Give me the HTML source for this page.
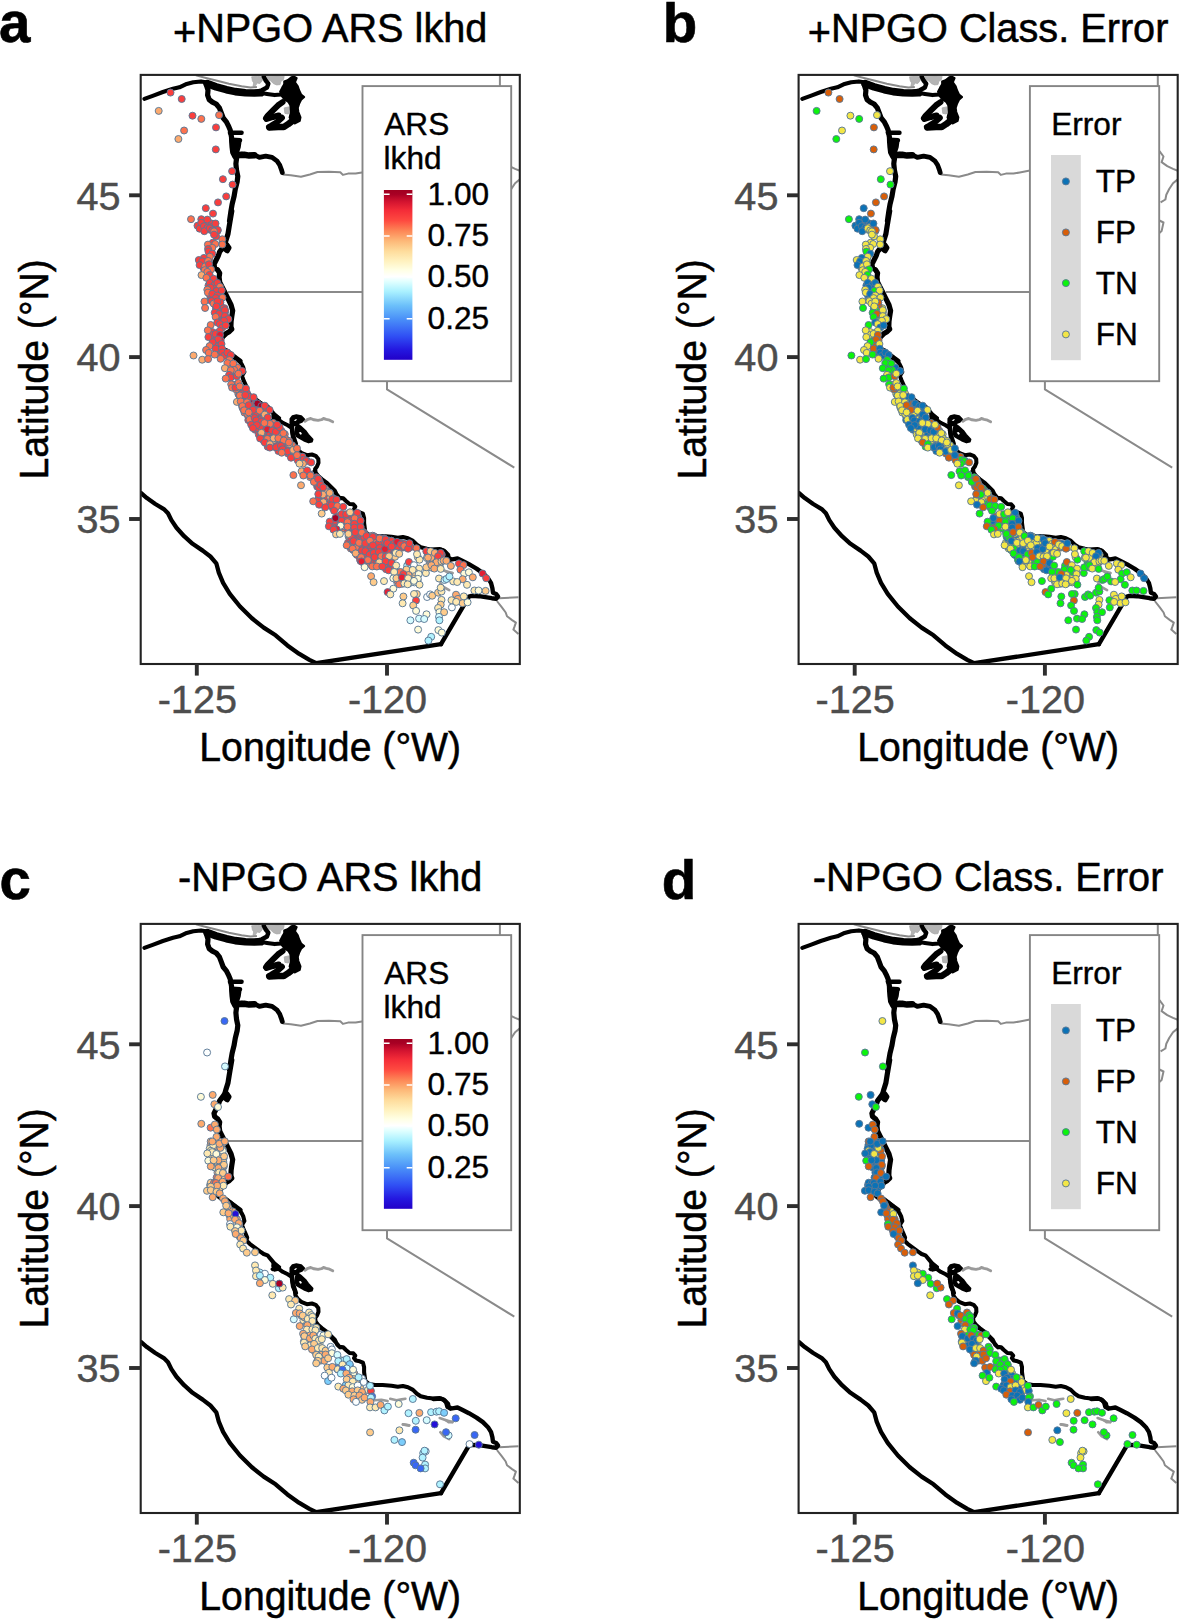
<!DOCTYPE html>
<html lang="en">
<head>
<meta charset="utf-8">
<title>NPGO ARS likelihood and classification error maps</title>
<style>
html,body{margin:0;padding:0;background:#fff;}
svg{display:block;font-family:'Liberation Sans',Arial,Helvetica,sans-serif;}
.ttl{font-size:39.7px;fill:#000;text-anchor:middle;stroke:#000;stroke-width:0.5px;}
.lab{font-size:56.5px;font-weight:bold;fill:#000;text-anchor:middle;stroke:#000;stroke-width:0.6px;}
.ax{font-size:39.2px;fill:#000;text-anchor:middle;stroke:#000;stroke-width:0.5px;}
.tk{font-size:39.6px;fill:#4d4d4d;stroke:#4d4d4d;stroke-width:0.45px;}
.tkl{stroke:#2e2e2e;stroke-width:3.9;fill:none;}
.bd{stroke:#222;stroke-width:2.1;fill:none;}
.coast{stroke:#000;stroke-width:4.05;fill:none;stroke-linejoin:round;stroke-linecap:round;}
.blob{fill:#000;stroke:#000;stroke-width:2;stroke-linejoin:round;}
.st{stroke:#8a8a8a;stroke-width:2.0;fill:none;stroke-linejoin:round;}
.gb{fill:#b4b4b4;stroke:#a8a8a8;stroke-width:0.8;}
.lgb{fill:#fff;stroke:#858585;stroke-width:1.9;}
.lgt{font-size:31.6px;fill:#000;stroke:#000;stroke-width:0.4px;}
.pt{stroke:#5a7896;stroke-width:0.95;}
.key{fill:#d9d9d9;}
.ct{stroke:#fff;stroke-width:1.5;}
</style>
</head>
<body>
<svg width="1181" height="1621" viewBox="0 0 1181 1621" role="img" aria-label="Four maps of the US West Coast showing ARS likelihood and classification error for positive and negative NPGO">
<defs>
<clipPath id="clip"><rect x="140.7" y="74.9" width="379.1" height="589.1"/></clipPath>
<linearGradient id="ars" x1="0" y1="1" x2="0" y2="0">
<stop offset="0%" stop-color="#2200c8"/><stop offset="6%" stop-color="#2418e0"/><stop offset="14%" stop-color="#3050f4"/><stop offset="24%" stop-color="#4a90f8"/><stop offset="32%" stop-color="#6cc0fa"/><stop offset="40%" stop-color="#a8f0ff"/><stop offset="46%" stop-color="#e0ffff"/><stop offset="49%" stop-color="#ffffff"/><stop offset="53%" stop-color="#ffffe4"/><stop offset="58%" stop-color="#fff2c0"/><stop offset="64%" stop-color="#fedc9c"/><stop offset="70%" stop-color="#fdb878"/><stop offset="76%" stop-color="#fd8656"/><stop offset="82%" stop-color="#fe4a40"/><stop offset="88%" stop-color="#f42c38"/><stop offset="93%" stop-color="#d41430"/><stop offset="97.5%" stop-color="#a80024"/><stop offset="100%" stop-color="#a00020"/>
</linearGradient>
<g id="basemap">
<path class="gb" d="M284.2 107.9L288.9 106.9L290 111.3L288.3 114L284.9 113.4Z"/>
<path class="gb" d="M292.3 116.7L294.4 115.4L296.1 117.8L294.4 119.8L292.3 119.1Z"/>
<path class="gb" d="M251.7 76.8L257.1 76.4L261.8 76.8L262.5 80.2L259.8 83.6L257.1 82.9L255.7 85.6L253 86.3L253.7 82.9L252.4 80.8Z"/>
<path class="gb" d="M266.6 76.4L277.4 76.1L284.2 76.4L283.5 79.5L280.8 81.5L280.1 84.6L276.7 84.9L273.4 83.6L270.7 80.8L267.9 79.5Z"/>
<path class="st" d="M195.9 75.4L206 78L216.2 80.5L228.9 83.7L241.6 86.2L250.5 87.5L256.9 86.9M282.6 174.5L290.8 175.2L301 176.7L309.9 174.5L317.5 172L328.9 171.7L340.3 172.2L342.9 174.9L348 173.6L355.6 173.6L361.9 172.4L372 170.5L400 170L499.9 170M228 292.1L500 292.1M498.8 598.2L518.4 597.2M496.9 601L501.9 607.4L505.7 612.5L507 616.3L512.1 620.1L515.9 622.6L514.6 626.4L513.4 629.6L518.4 634M387 292.1L387 389.4L514.3 467.6M499.9 74.9L499.9 150M501.5 151L502.7 152.7L505.6 156.5L503.7 162.2L509.4 166.1L515.1 168.9L519.9 170.8M519.9 179.4L515.1 183.3L511.3 189L508.4 194.7L507.5 199.5L502.7 202.4M501.5 220.5L505.6 222.5L503.7 231.1L501.5 233"/>
<path class="st" style="stroke-width:2.9;stroke:#9a9a9a;stroke-linecap:round" d="M304.9 421.3L307.9 419.3L310.7 418.5L314 419.8L318.1 420.4L321.5 419.7L323.5 418.5L326.2 419.3L329.6 420.2L332.7 421.8"/>
<path class="st" style="stroke-width:2.6;stroke:#9a9a9a;stroke-linecap:round" d="M374.9 551.3L381.3 550.8L387.6 552"/>
<path class="st" style="stroke-width:2.6;stroke:#9a9a9a;stroke-linecap:round" d="M390.2 549.8L396.5 551.3L401.6 550.4L405.4 549.8"/>
<path class="st" style="stroke-width:2.6;stroke:#9a9a9a;stroke-linecap:round" d="M402.9 575.4L409.2 576.2"/>
<path class="st" style="stroke-width:2.6;stroke:#9a9a9a;stroke-linecap:round" d="M439.7 569L446 571.2L452.4 573.1"/>
<path class="st" style="stroke-width:2.6;stroke:#9a9a9a;stroke-linecap:round" d="M446 571.2L448.6 573.1L452.4 573.1"/>
<path class="st" style="stroke-width:2.6;stroke:#9a9a9a;stroke-linecap:round" d="M440.3 583.2L443.5 587L449.2 590.2"/>
<path class="st" style="stroke-width:2.6;stroke:#9a9a9a;stroke-linecap:round" d="M402.9 575.4L409.2 576.6"/>
<path class="coast" d="M144.4 98.9L152.7 95.8L162.9 92L173 88.8L179.4 87.3L185.7 84.3L193.3 82.2L201 81.4L206 82.2L211.1 83.7L216.2 86L226.4 89L235.3 91.1L245.4 92.3L254.3 92.8L261.9 93.1L267 93.9L274.6 95.1L281 94.5L281.9 93.9M230.6 353.5L234.5 356.7L238.3 359.9L241.4 363.7L243.3 367.5L244.4 372L242.1 375.8L243.3 379.6L245.3 384L247.2 388.5L246.5 391.6L249.7 394.8L254.8 398.6L259.9 402.4L263.7 405L267.5 406.3L270.7 410.1L273.8 413.9L277.6 417.7L272.6 420.2L277.6 419L282.7 422.8L287.8 425.3L291.6 427.8L292.2 432.3L292.9 437.4L294.8 441.8L295.4 446.3L298 450.1L301.8 453.2L306.9 455.2L311.9 454.5L315.7 455.8L318.3 459L318.5 462.8L317 466.6L315.1 469.1L315.7 472.9L318.3 476.1L322.1 479.3L327.2 483.1L331 486.9L334.8 490.7L337.3 495.8L340 498.3M314.6 471L316.5 474.8L320.3 478.6L325.4 481.8L329.2 486.2L333 490.1L336.8 494.5L339.4 497.7L343.2 498.3L345.7 500.8L349.5 504L353.3 504.3L355.3 506.6L354 509.1L355.9 511.6L359.7 512.3L362.9 513.6L364.1 518L364.1 523.1L364.8 528.2L365.4 532L369.2 535.1L374.9 536L382.6 536L391.5 536.8L397.8 537.7L402.9 537L408 538.3L413 540.9L416.9 544.7L420.7 547.2L427 548.7L433.4 549.5L439.7 549.1L443.5 550.4L446.1 553.6L447.3 558L450 558.6"/>
<path class="coast" style="stroke-width:4.4" d="M254.3 92.1L261.9 90.3L267 87.5L268.3 83.7L265.7 80.5L263.8 76.7"/>
<path class="coast" style="stroke-width:5.2" d="M206 83.7L208 90.1L207.6 95.1L209.2 99.6L212.4 102.1L216.2 104L219.4 107.8L221.3 112.9L223.2 118L226.4 121.8L228.3 125.6L230.2 130.1L230.8 133.2L231.5 137L231.7 142.1L232.1 147.2L232.7 152.3L234.6 156.1L236.5 158.6"/>
<path class="coast" style="stroke-width:5.2" d="M236.5 158.6L235.9 163.7L236.5 170.1L237.8 176.4L237.2 181.5L235.3 189.1L234 196.7L232.1 204.4L230.8 212L229.5 221L231.8 211L230.5 218.6L229.2 226.2L228 233.9L226 240.2L224.8 244.7L222.2 248.5L219.7 251.6L218.4 255.5L215.9 260.5L214 264.3L214.6 267.5L217.8 270.1L219.7 273.2L219.1 277L219.7 282.1L222.2 287.2L224.8 292.3L226.7 296.1L228.6 299.9L231.1 305L232.7 310.7L231.8 316.4L231.1 321.5L230.9 326.6L231.8 329.1L229.2 331.7L226 333.6L222.9 336.7L219.7 341.8L218.4 346.9L221 348.8L226 350.7L231.1 354.5L236.2 358.3L240 361"/>
<path class="coast" style="stroke-width:4.8" d="M224.8 244.7L227.3 245L229.2 247.8L227.3 251L224.8 249.1"/>
<path class="coast" style="stroke-width:4.8" d="M236.5 155.5L241.6 154.2L248 155.5L254.3 154.8L259.4 157.4L265.7 156.1L272.1 157.4L277.2 161.2L279.7 165L281.6 170.1L282.3 172.6"/>
<path class="coast" style="stroke-width:4.4" d="M229.9 132.7L241.6 132.7"/>
<path class="coast" style="stroke-width:4.4" d="M231.7 139.6L240.1 140.2"/>
<path class="coast" style="stroke-width:4.4" d="M433.3 550L441 549.6L444.8 551.5L448 554.7L448.6 558.5L450.5 559.7L453.7 559.1L457.5 558.5L462.6 561L468.9 564.2L476.5 568.6L482.9 573.1L488 578.2L491.1 583.2L492.4 588.3L493 592.8L496.2 594L498.1 596.6L496.2 598.7L491.8 598.2L485.4 597.2L479.1 596.2L471.5 595.9L468.9 596.6L441 644.2"/>
<path class="coast" style="stroke-width:4.3" d="M140.9 493L146.9 498.1L155.3 504L163.8 509.1L168 513.3L171.4 520.1L176.5 527.7L184.1 536.2L192.6 543.8L202.7 550.6L210.4 556.5L216.3 563.3L218.8 572.6L223.1 582.8L229.8 593.8L240 606.5L251.9 618.3L263.7 627.6L275.6 635.3L287.4 645.4L299.3 653.9L309.4 659.8L316.2 663.2L441 644.2"/>
<path class="coast" style="stroke-width:4.4" d="M291.8 423.2L292.2 430.7L293.7 437.4L295.9 443.9"/>
<path class="coast" style="stroke-width:7.6" d="M207.3 83.7L216.2 86.8L226.4 89.7L235.3 91.6L245.4 92.7L254.3 93L260.7 92.8"/>
<path class="coast" style="stroke-width:6.5" d="M238.4 155.1L244.2 154.8L249.2 155.6L254.3 155.3"/>
<path class="coast" style="stroke-width:6" d="M282.6 102.1L278.1 105.3L273 110.4L267.9 115.5L266 118.3"/>
<path class="coast" style="stroke-width:6" d="M266.7 119L273 117L278.7 115.5"/>
<path class="coast" style="stroke-width:6" d="M281.9 117.7L276.8 122.4L271.1 125.9L269 127.1"/>
<path class="coast" style="stroke-width:6.5" d="M269.5 127.6L278.1 127.1L283.8 126.9L288.3 124.1L291.4 121.6"/>
<path class="blob" d="M290.5 418.8L292.4 416.3L296.4 415.3L301.2 416.2L304.1 419.1L301.8 421.8L298.6 423.2L297.2 425.2L292.5 425.2L290.5 422.7Z"/>
<path class="blob" d="M297.2 424L300.6 426.6L305.2 430.7L308.1 434.7L312.5 439.5L311.9 441.5L308.6 442.4L303.9 440.5L299.8 438.1L296.6 436.1L295.2 432L295.9 427.9Z"/>
<path class="blob" d="M272.8 412L280.2 417.9L279.6 420.5L274.3 421.7L272.2 417.1Z"/>
<path class="blob" d="M284.2 81.5L287.6 80.2L291 77.5L293.7 76.4L296.7 78.1L295 82.2L297.8 86.3L299.1 90.3L301.1 94.4L304.2 97.1L301.1 99.8L299.1 103.9L297.8 107.9L298.4 112L300.5 117.4L299.8 120.8L295 123.5L292.3 122.2L289.6 117.4L291 112L290.3 105.2L288.3 101.8L284.2 99.1L281.5 95.7L280.1 91.7L282.2 87.6L284.2 84.2Z"/>
<path class="blob" d="M230.7 140.6L240.6 141.1L239.8 147.2L238.1 152.5L233.6 153.1L231.5 147.2Z"/>
<path fill="#fff" d="M293.8 420.6L295.7 419.3L297.2 419.5L295.5 421Z"/>
<path fill="#fff" d="M298.8 432.5L300.8 432.1L302 434L300.4 434.7Z"/>
</g>
</defs>
<rect width="1181" height="1621" fill="#fff"/>
<g id="panel-a" transform="translate(0 0)">
<text class="lab" transform="translate(14.8 41.9) scale(1 1.015)">a</text>
<text class="ttl" transform="translate(330.2 42.2) scale(1 1.035)"><tspan dy="3.4">+</tspan><tspan dy="-3.4">NPGO ARS lkhd</tspan></text>
<g clip-path="url(#clip)">
<use href="#basemap"/>
<circle class="pt" cx="388.2" cy="566.2" r="3.5" fill="#fa3e3d"/><circle class="pt" cx="219" cy="318.1" r="3.5" fill="#fa3e3d"/><circle class="pt" cx="429.6" cy="561.9" r="3.5" fill="#fdaa6e"/><circle class="pt" cx="391.5" cy="554.7" r="3.5" fill="#fecb8b"/>
<circle class="pt" cx="357" cy="539.5" r="3.5" fill="#fa3e3d"/><circle class="pt" cx="439.7" cy="565" r="3.5" fill="#ffe9b1"/><circle class="pt" cx="256.6" cy="418.9" r="3.5" fill="#fa3e3d"/><circle class="pt" cx="217.3" cy="300.2" r="3.5" fill="#fa3e3d"/>
<circle class="pt" cx="363.2" cy="562.5" r="3.5" fill="#e31f34"/><circle class="pt" cx="406.5" cy="578.9" r="3.5" fill="#ffe9b1"/><circle class="pt" cx="440" cy="557.6" r="3.5" fill="#fa3e3d"/><circle class="pt" cx="435.8" cy="561.5" r="3.5" fill="#fa3e3d"/>
<circle class="pt" cx="399.1" cy="572.5" r="3.5" fill="#fa3e3d"/><circle class="pt" cx="440.9" cy="560.8" r="3.5" fill="#fdaa6e"/><circle class="pt" cx="378.8" cy="556.6" r="3.5" fill="#fa3e3d"/><circle class="pt" cx="401.6" cy="547.4" r="3.5" fill="#fa3e3d"/>
<circle class="pt" cx="287.8" cy="451.1" r="3.5" fill="#fa3e3d"/><circle class="pt" cx="222.5" cy="319.5" r="3.5" fill="#fa3e3d"/><circle class="pt" cx="391.3" cy="540.7" r="3.5" fill="#fa3e3d"/><circle class="pt" cx="319.9" cy="485.1" r="3.5" fill="#fa3e3d"/>
<circle class="pt" cx="333.3" cy="498.4" r="3.5" fill="#fa3e3d"/><circle class="pt" cx="284.8" cy="434.2" r="3.5" fill="#fd724e"/><circle class="pt" cx="377.1" cy="550.4" r="3.5" fill="#fa3e3d"/><circle class="pt" cx="263" cy="427.9" r="3.5" fill="#fdaa6e"/>
<circle class="pt" cx="385.7" cy="549.7" r="3.5" fill="#e31f34"/><circle class="pt" cx="348.9" cy="528.5" r="3.5" fill="#fd724e"/><circle class="pt" cx="352.9" cy="514.4" r="3.5" fill="#fa3e3d"/><circle class="pt" cx="254.9" cy="416.1" r="3.5" fill="#fd724e"/>
<circle class="pt" cx="214.5" cy="292.7" r="3.5" fill="#fa3e3d"/><circle class="pt" cx="318.3" cy="499" r="3.5" fill="#fd724e"/><circle class="pt" cx="278.8" cy="446.8" r="3.5" fill="#fa3e3d"/><circle class="pt" cx="362.7" cy="554.2" r="3.5" fill="#fa3e3d"/>
<circle class="pt" cx="405.7" cy="582.5" r="3.5" fill="#ffe9b1"/><circle class="pt" cx="391.3" cy="556.8" r="3.5" fill="#fecb8b"/><circle class="pt" cx="313.1" cy="478.3" r="3.5" fill="#fa3e3d"/><circle class="pt" cx="265" cy="416.3" r="3.5" fill="#fa3e3d"/>
<circle class="pt" cx="376" cy="566" r="3.5" fill="#fa3e3d"/><circle class="pt" cx="410.7" cy="547.1" r="3.5" fill="#fa3e3d"/><circle class="pt" cx="257.3" cy="424.7" r="3.5" fill="#fa3e3d"/><circle class="pt" cx="391.3" cy="543.3" r="3.5" fill="#fa3e3d"/>
<circle class="pt" cx="260.8" cy="414.1" r="3.5" fill="#fa3e3d"/><circle class="pt" cx="211.9" cy="288.3" r="3.5" fill="#fa3e3d"/><circle class="pt" cx="389" cy="540.5" r="3.5" fill="#fa3e3d"/><circle class="pt" cx="348.7" cy="535" r="3.5" fill="#fa3e3d"/>
<circle class="pt" cx="252.6" cy="406.4" r="3.5" fill="#a80024"/><circle class="pt" cx="369.8" cy="551.5" r="3.5" fill="#fa3e3d"/><circle class="pt" cx="220.6" cy="340.2" r="3.5" fill="#e31f34"/><circle class="pt" cx="276.8" cy="426" r="3.5" fill="#fa3e3d"/>
<circle class="pt" cx="360.9" cy="534.8" r="3.5" fill="#fa3e3d"/><circle class="pt" cx="415.6" cy="580.5" r="3.5" fill="#fffbd8"/><circle class="pt" cx="386.9" cy="557.6" r="3.5" fill="#fa3e3d"/><circle class="pt" cx="201.6" cy="224.8" r="3.5" fill="#fa3e3d"/>
<circle class="pt" cx="249.2" cy="410.9" r="3.5" fill="#fa3e3d"/><circle class="pt" cx="220.6" cy="298" r="3.5" fill="#fa3e3d"/><circle class="pt" cx="372" cy="557.5" r="3.5" fill="#fa3e3d"/><circle class="pt" cx="381.3" cy="550.4" r="3.5" fill="#fa3e3d"/>
<circle class="pt" cx="242.7" cy="397.5" r="3.5" fill="#fd724e"/><circle class="pt" cx="333" cy="502" r="3.5" fill="#fa3e3d"/><circle class="pt" cx="215.5" cy="305.3" r="3.5" fill="#fa3e3d"/><circle class="pt" cx="372.6" cy="562.8" r="3.5" fill="#fd724e"/>
<circle class="pt" cx="355.5" cy="535.9" r="3.5" fill="#fa3e3d"/><circle class="pt" cx="359.6" cy="519.9" r="3.5" fill="#fa3e3d"/><circle class="pt" cx="436.4" cy="554.8" r="3.5" fill="#fa3e3d"/><circle class="pt" cx="206.8" cy="227.1" r="3.5" fill="#fa3e3d"/>
<circle class="pt" cx="267.5" cy="425.4" r="3.5" fill="#fa3e3d"/><circle class="pt" cx="245.1" cy="393.7" r="3.5" fill="#fa3e3d"/><circle class="pt" cx="409.5" cy="583" r="3.5" fill="#ffe9b1"/><circle class="pt" cx="387.6" cy="541.1" r="3.5" fill="#fa3e3d"/>
<circle class="pt" cx="417.6" cy="580.2" r="3.5" fill="#ffe9b1"/><circle class="pt" cx="281.7" cy="438.5" r="3.5" fill="#fd724e"/><circle class="pt" cx="238.3" cy="393.8" r="3.5" fill="#fd724e"/><circle class="pt" cx="203" cy="261" r="3.5" fill="#fa3e3d"/>
<circle class="pt" cx="350.8" cy="548.5" r="3.5" fill="#fd724e"/><circle class="pt" cx="317.7" cy="480.3" r="3.5" fill="#fa3e3d"/><circle class="pt" cx="384.9" cy="541.6" r="3.5" fill="#fa3e3d"/><circle class="pt" cx="269.5" cy="434.2" r="3.5" fill="#fa3e3d"/>
<circle class="pt" cx="368.3" cy="547.8" r="3.5" fill="#fa3e3d"/><circle class="pt" cx="270.3" cy="442.1" r="3.5" fill="#fdaa6e"/><circle class="pt" cx="350.4" cy="542.6" r="3.5" fill="#fa3e3d"/><circle class="pt" cx="275.7" cy="441.7" r="3.5" fill="#fa3e3d"/>
<circle class="pt" cx="263.7" cy="434.2" r="3.5" fill="#fa3e3d"/><circle class="pt" cx="217.5" cy="230.9" r="3.5" fill="#fa3e3d"/><circle class="pt" cx="356.5" cy="520.4" r="3.5" fill="#fa3e3d"/><circle class="pt" cx="359.5" cy="549.3" r="3.5" fill="#fdaa6e"/>
<circle class="pt" cx="278.4" cy="451" r="3.5" fill="#fa3e3d"/><circle class="pt" cx="282.3" cy="448.5" r="3.5" fill="#fa3e3d"/><circle class="pt" cx="225.2" cy="316" r="3.5" fill="#fa3e3d"/><circle class="pt" cx="407.7" cy="545.8" r="3.5" fill="#fd724e"/>
<circle class="pt" cx="255.5" cy="408.2" r="3.5" fill="#fa3e3d"/><circle class="pt" cx="248.2" cy="416.4" r="3.5" fill="#fa3e3d"/><circle class="pt" cx="359.3" cy="528.4" r="3.5" fill="#fa3e3d"/><circle class="pt" cx="372.1" cy="554.3" r="3.5" fill="#fa3e3d"/>
<circle class="pt" cx="401" cy="542.9" r="3.5" fill="#fa3e3d"/><circle class="pt" cx="378.5" cy="547.1" r="3.5" fill="#fa3e3d"/><circle class="pt" cx="259.8" cy="429.3" r="3.5" fill="#fa3e3d"/><circle class="pt" cx="412.5" cy="582" r="3.5" fill="#ffe9b1"/>
<circle class="pt" cx="434.2" cy="564.8" r="3.5" fill="#fdaa6e"/><circle class="pt" cx="241.6" cy="404.1" r="3.5" fill="#fd724e"/><circle class="pt" cx="354.2" cy="523" r="3.5" fill="#fd724e"/><circle class="pt" cx="327" cy="501" r="3.5" fill="#fa3e3d"/>
<circle class="pt" cx="303.9" cy="474.7" r="3.5" fill="#fd724e"/><circle class="pt" cx="384.3" cy="544.1" r="3.5" fill="#fa3e3d"/><circle class="pt" cx="365.9" cy="553.4" r="3.5" fill="#fa3e3d"/><circle class="pt" cx="277.3" cy="439.1" r="3.5" fill="#fdaa6e"/>
<circle class="pt" cx="370" cy="541.3" r="3.5" fill="#fa3e3d"/><circle class="pt" cx="374" cy="562.4" r="3.5" fill="#fa3e3d"/><circle class="pt" cx="206.6" cy="272.9" r="3.5" fill="#fd724e"/><circle class="pt" cx="231.5" cy="369.1" r="3.5" fill="#fd724e"/>
<circle class="pt" cx="381.4" cy="540.1" r="3.5" fill="#fa3e3d"/><circle class="pt" cx="399" cy="576.8" r="3.5" fill="#fa3e3d"/><circle class="pt" cx="245.8" cy="400" r="3.5" fill="#fa3e3d"/><circle class="pt" cx="316.4" cy="477.3" r="3.5" fill="#fa3e3d"/>
<circle class="pt" cx="362.6" cy="542.9" r="3.5" fill="#fa3e3d"/><circle class="pt" cx="341.8" cy="515.8" r="3.5" fill="#fa3e3d"/><circle class="pt" cx="314.9" cy="480.2" r="3.5" fill="#fd724e"/><circle class="pt" cx="252.4" cy="403.4" r="3.5" fill="#fd724e"/>
<circle class="pt" cx="269.1" cy="444.3" r="3.5" fill="#fa3e3d"/><circle class="pt" cx="399" cy="582" r="3.5" fill="#fa3e3d"/><circle class="pt" cx="353.2" cy="540.4" r="3.5" fill="#fa3e3d"/><circle class="pt" cx="255.3" cy="429.8" r="3.5" fill="#fa3e3d"/>
<circle class="pt" cx="345" cy="519.5" r="3.5" fill="#fa3e3d"/><circle class="pt" cx="363.7" cy="552.3" r="3.5" fill="#fa3e3d"/><circle class="pt" cx="385" cy="565.9" r="3.5" fill="#fa3e3d"/><circle class="pt" cx="363.7" cy="532.2" r="3.5" fill="#fa3e3d"/>
<circle class="pt" cx="259.8" cy="430.9" r="3.5" fill="#fa3e3d"/><circle class="pt" cx="284.8" cy="442.1" r="3.5" fill="#fa3e3d"/><circle class="pt" cx="275.9" cy="447.2" r="3.5" fill="#fa3e3d"/><circle class="pt" cx="204.1" cy="263.2" r="3.5" fill="#fa3e3d"/>
<circle class="pt" cx="417.6" cy="575.9" r="3.5" fill="#fecb8b"/><circle class="pt" cx="350" cy="517.4" r="3.5" fill="#fa3e3d"/><circle class="pt" cx="372.2" cy="555.8" r="3.5" fill="#fa3e3d"/><circle class="pt" cx="250.5" cy="421.7" r="3.5" fill="#fa3e3d"/>
<circle class="pt" cx="284.5" cy="444.7" r="3.5" fill="#fa3e3d"/><circle class="pt" cx="242.4" cy="407.5" r="3.5" fill="#fd724e"/><circle class="pt" cx="215.7" cy="334.7" r="3.5" fill="#fa3e3d"/><circle class="pt" cx="258.5" cy="431.1" r="3.5" fill="#fa3e3d"/>
<circle class="pt" cx="218" cy="337.3" r="3.5" fill="#fa3e3d"/><circle class="pt" cx="213.4" cy="224.2" r="3.5" fill="#fa3e3d"/><circle class="pt" cx="295.1" cy="450.6" r="3.5" fill="#fd724e"/><circle class="pt" cx="375.3" cy="543" r="3.5" fill="#fa3e3d"/>
<circle class="pt" cx="397.1" cy="582.1" r="3.5" fill="#fffbd8"/><circle class="pt" cx="369.5" cy="563.3" r="3.5" fill="#fffbd8"/><circle class="pt" cx="297.6" cy="457.2" r="3.5" fill="#fd724e"/><circle class="pt" cx="262.9" cy="423.4" r="3.5" fill="#fa3e3d"/>
<circle class="pt" cx="211.4" cy="290.9" r="3.5" fill="#fa3e3d"/><circle class="pt" cx="260.2" cy="407.9" r="3.5" fill="#fa3e3d"/><circle class="pt" cx="253.9" cy="409.4" r="3.5" fill="#fa3e3d"/><circle class="pt" cx="210.6" cy="297.1" r="3.5" fill="#fa3e3d"/>
<circle class="pt" cx="367.3" cy="556" r="3.5" fill="#fa3e3d"/><circle class="pt" cx="338.7" cy="523.5" r="3.5" fill="#fffbd8"/><circle class="pt" cx="356.5" cy="523.4" r="3.5" fill="#fa3e3d"/><circle class="pt" cx="379.8" cy="544.7" r="3.5" fill="#fa3e3d"/>
<circle class="pt" cx="375.6" cy="557.9" r="3.5" fill="#fa3e3d"/><circle class="pt" cx="321.8" cy="500.9" r="3.5" fill="#fa3e3d"/><circle class="pt" cx="257.5" cy="406.5" r="3.5" fill="#fa3e3d"/><circle class="pt" cx="351" cy="529.1" r="3.5" fill="#fa3e3d"/>
<circle class="pt" cx="210.1" cy="284.9" r="3.5" fill="#fa3e3d"/><circle class="pt" cx="231" cy="365" r="3.5" fill="#fd724e"/><circle class="pt" cx="329.5" cy="503.2" r="3.5" fill="#fa3e3d"/><circle class="pt" cx="387.5" cy="547.1" r="3.5" fill="#fa3e3d"/>
<circle class="pt" cx="253.7" cy="422.1" r="3.5" fill="#fa3e3d"/><circle class="pt" cx="292" cy="454.1" r="3.5" fill="#fa3e3d"/><circle class="pt" cx="216.7" cy="333.1" r="3.5" fill="#e31f34"/><circle class="pt" cx="360.4" cy="535.7" r="3.5" fill="#fa3e3d"/>
<circle class="pt" cx="375.5" cy="551.7" r="3.5" fill="#fa3e3d"/><circle class="pt" cx="378.5" cy="541.4" r="3.5" fill="#fa3e3d"/><circle class="pt" cx="427.8" cy="555.4" r="3.5" fill="#fa3e3d"/><circle class="pt" cx="208.7" cy="247.8" r="3.5" fill="#fa3e3d"/>
<circle class="pt" cx="356.6" cy="540" r="3.5" fill="#fa3e3d"/><circle class="pt" cx="411.8" cy="579" r="3.5" fill="#ffe9b1"/><circle class="pt" cx="217.2" cy="289.5" r="3.5" fill="#fa3e3d"/><circle class="pt" cx="376.7" cy="545.8" r="3.5" fill="#fa3e3d"/>
<circle class="pt" cx="436" cy="567.1" r="3.5" fill="#fdaa6e"/><circle class="pt" cx="361" cy="553.9" r="3.5" fill="#fa3e3d"/><circle class="pt" cx="348.3" cy="532.6" r="3.5" fill="#fa3e3d"/><circle class="pt" cx="378.1" cy="549" r="3.5" fill="#fa3e3d"/>
<circle class="pt" cx="368.9" cy="556.8" r="3.5" fill="#fa3e3d"/><circle class="pt" cx="221.1" cy="309.5" r="3.5" fill="#fa3e3d"/><circle class="pt" cx="330.1" cy="501.7" r="3.5" fill="#fa3e3d"/><circle class="pt" cx="363.9" cy="539.7" r="3.5" fill="#fa3e3d"/>
<circle class="pt" cx="280.2" cy="443.7" r="3.5" fill="#fa3e3d"/><circle class="pt" cx="348" cy="542.7" r="3.5" fill="#fa3e3d"/><circle class="pt" cx="337.8" cy="527" r="3.5" fill="#fa3e3d"/><circle class="pt" cx="295.3" cy="452.6" r="3.5" fill="#fd724e"/>
<circle class="pt" cx="243.5" cy="389.2" r="3.5" fill="#fa3e3d"/><circle class="pt" cx="341.2" cy="523.5" r="3.5" fill="#fa3e3d"/><circle class="pt" cx="334.4" cy="505" r="3.5" fill="#fa3e3d"/><circle class="pt" cx="376.1" cy="564.3" r="3.5" fill="#fa3e3d"/>
<circle class="pt" cx="366.6" cy="544.4" r="3.5" fill="#fd724e"/><circle class="pt" cx="242.2" cy="395.5" r="3.5" fill="#fd724e"/><circle class="pt" cx="390.4" cy="551" r="3.5" fill="#fa3e3d"/><circle class="pt" cx="382.7" cy="549.9" r="3.5" fill="#fa3e3d"/>
<circle class="pt" cx="381.5" cy="561.8" r="3.5" fill="#fa3e3d"/><circle class="pt" cx="370.3" cy="555.1" r="3.5" fill="#fa3e3d"/><circle class="pt" cx="351.7" cy="533.4" r="3.5" fill="#fa3e3d"/><circle class="pt" cx="320" cy="491.9" r="3.5" fill="#fdaa6e"/>
<circle class="pt" cx="248.5" cy="401.8" r="3.5" fill="#fa3e3d"/><circle class="pt" cx="300.4" cy="456.6" r="3.5" fill="#fa3e3d"/><circle class="pt" cx="241.2" cy="389.5" r="3.5" fill="#fa3e3d"/><circle class="pt" cx="251.1" cy="397.7" r="3.5" fill="#fa3e3d"/>
<circle class="pt" cx="227.3" cy="319" r="3.5" fill="#fa3e3d"/><circle class="pt" cx="235.4" cy="385.9" r="3.5" fill="#fd724e"/><circle class="pt" cx="359.6" cy="538.9" r="3.5" fill="#fd724e"/><circle class="pt" cx="366.2" cy="547.2" r="3.5" fill="#fa3e3d"/>
<circle class="pt" cx="315.7" cy="479.3" r="3.5" fill="#fa3e3d"/><circle class="pt" cx="247.8" cy="398.6" r="3.5" fill="#fa3e3d"/><circle class="pt" cx="347.4" cy="525.7" r="3.5" fill="#fd724e"/><circle class="pt" cx="310.6" cy="474.5" r="3.5" fill="#fa3e3d"/>
<circle class="pt" cx="372.4" cy="539.8" r="3.5" fill="#fa3e3d"/><circle class="pt" cx="286.5" cy="450.4" r="3.5" fill="#fa3e3d"/><circle class="pt" cx="224.5" cy="308.2" r="3.5" fill="#fa3e3d"/><circle class="pt" cx="270.2" cy="439.1" r="3.5" fill="#fd724e"/>
<circle class="pt" cx="383.1" cy="558.1" r="3.5" fill="#fa3e3d"/><circle class="pt" cx="389" cy="548.9" r="3.5" fill="#fa3e3d"/><circle class="pt" cx="220.8" cy="306.1" r="3.5" fill="#fa3e3d"/><circle class="pt" cx="221.2" cy="316.1" r="3.5" fill="#fa3e3d"/>
<circle class="pt" cx="267.3" cy="440.4" r="3.5" fill="#fa3e3d"/><circle class="pt" cx="217.6" cy="353.6" r="3.5" fill="#fa3e3d"/><circle class="pt" cx="368.1" cy="538.3" r="3.5" fill="#fa3e3d"/><circle class="pt" cx="273.8" cy="431.3" r="3.5" fill="#fa3e3d"/>
<circle class="pt" cx="206.8" cy="266.4" r="3.5" fill="#fa3e3d"/><circle class="pt" cx="335.5" cy="508.1" r="3.5" fill="#fa3e3d"/><circle class="pt" cx="224.6" cy="319" r="3.5" fill="#fa3e3d"/><circle class="pt" cx="385.8" cy="561.1" r="3.5" fill="#fa3e3d"/>
<circle class="pt" cx="279" cy="431.1" r="3.5" fill="#fa3e3d"/><circle class="pt" cx="234.1" cy="365.6" r="3.5" fill="#fd724e"/><circle class="pt" cx="359.9" cy="550.7" r="3.5" fill="#fdaa6e"/><circle class="pt" cx="363" cy="550.6" r="3.5" fill="#fa3e3d"/>
<circle class="pt" cx="282.2" cy="435.6" r="3.5" fill="#fd724e"/><circle class="pt" cx="375.1" cy="541" r="3.5" fill="#fa3e3d"/><circle class="pt" cx="354.4" cy="532.6" r="3.5" fill="#fa3e3d"/><circle class="pt" cx="359.4" cy="542.9" r="3.5" fill="#fa3e3d"/>
<circle class="pt" cx="216.5" cy="292.6" r="3.5" fill="#fa3e3d"/><circle class="pt" cx="239.4" cy="395.6" r="3.5" fill="#fd724e"/><circle class="pt" cx="263.9" cy="426.7" r="3.5" fill="#fa3e3d"/><circle class="pt" cx="381.2" cy="553.9" r="3.5" fill="#fd724e"/>
<circle class="pt" cx="384" cy="538.3" r="3.5" fill="#fa3e3d"/><circle class="pt" cx="415.4" cy="577.3" r="3.5" fill="#fffbd8"/><circle class="pt" cx="266.4" cy="437.4" r="3.5" fill="#fa3e3d"/><circle class="pt" cx="250.8" cy="419.7" r="3.5" fill="#fa3e3d"/>
<circle class="pt" cx="317.2" cy="486.6" r="3.5" fill="#fa3e3d"/><circle class="pt" cx="321.1" cy="488.7" r="3.5" fill="#fa3e3d"/><circle class="pt" cx="371.3" cy="542.7" r="3.5" fill="#fa3e3d"/><circle class="pt" cx="363.4" cy="558.9" r="3.5" fill="#fa3e3d"/>
<circle class="pt" cx="285.2" cy="446.5" r="3.5" fill="#fa3e3d"/><circle class="pt" cx="221.4" cy="322.4" r="3.5" fill="#fa3e3d"/><circle class="pt" cx="403.5" cy="573.3" r="3.5" fill="#fa3e3d"/><circle class="pt" cx="382.7" cy="543.9" r="3.5" fill="#fa3e3d"/>
<circle class="pt" cx="279.9" cy="440.4" r="3.5" fill="#fa3e3d"/><circle class="pt" cx="352.2" cy="542.7" r="3.5" fill="#fa3e3d"/><circle class="pt" cx="367.2" cy="561.6" r="3.5" fill="#fa3e3d"/><circle class="pt" cx="366" cy="536.5" r="3.5" fill="#fa3e3d"/>
<circle class="pt" cx="372.7" cy="537.5" r="3.5" fill="#fa3e3d"/><circle class="pt" cx="208.5" cy="224.3" r="3.5" fill="#fa3e3d"/><circle class="pt" cx="402" cy="580.5" r="3.5" fill="#fd724e"/><circle class="pt" cx="252.4" cy="400.8" r="3.5" fill="#fa3e3d"/>
<circle class="pt" cx="302.4" cy="456.7" r="3.5" fill="#fa3e3d"/><circle class="pt" cx="370.6" cy="552.8" r="3.5" fill="#fa3e3d"/><circle class="pt" cx="407.1" cy="544.5" r="3.5" fill="#fa3e3d"/><circle class="pt" cx="418" cy="570.5" r="3.5" fill="#fecb8b"/>
<circle class="pt" cx="285.5" cy="438.9" r="3.5" fill="#fd724e"/><circle class="pt" cx="289.7" cy="447.9" r="3.5" fill="#fa3e3d"/><circle class="pt" cx="433.7" cy="567.4" r="3.5" fill="#fdaa6e"/><circle class="pt" cx="347.4" cy="520.7" r="3.5" fill="#fa3e3d"/>
<circle class="pt" cx="217.4" cy="311.3" r="3.5" fill="#fa3e3d"/><circle class="pt" cx="324.2" cy="503.5" r="3.5" fill="#fa3e3d"/><circle class="pt" cx="430" cy="565" r="3.5" fill="#fdaa6e"/><circle class="pt" cx="334.8" cy="522.2" r="3.5" fill="#fa3e3d"/>
<circle class="pt" cx="360.2" cy="547.1" r="3.5" fill="#fa3e3d"/><circle class="pt" cx="212.6" cy="339.9" r="3.5" fill="#fa3e3d"/><circle class="pt" cx="203.4" cy="267.7" r="3.5" fill="#fa3e3d"/><circle class="pt" cx="327.1" cy="490.9" r="3.5" fill="#fa3e3d"/>
<circle class="pt" cx="259.9" cy="415.9" r="3.5" fill="#fa3e3d"/><circle class="pt" cx="348.1" cy="530" r="3.5" fill="#fa3e3d"/><circle class="pt" cx="353.3" cy="529.9" r="3.5" fill="#fa3e3d"/><circle class="pt" cx="214.3" cy="341.1" r="3.5" fill="#fa3e3d"/>
<circle class="pt" cx="388" cy="562.5" r="3.5" fill="#fa3e3d"/><circle class="pt" cx="234.7" cy="372.2" r="3.5" fill="#fd724e"/><circle class="pt" cx="388.5" cy="543.7" r="3.5" fill="#fa3e3d"/><circle class="pt" cx="381.6" cy="556.6" r="3.5" fill="#fa3e3d"/>
<circle class="pt" cx="398.3" cy="544.3" r="3.5" fill="#fa3e3d"/><circle class="pt" cx="436.5" cy="563.3" r="3.5" fill="#fdaa6e"/><circle class="pt" cx="248.3" cy="420.1" r="3.5" fill="#fa3e3d"/><circle class="pt" cx="378.9" cy="540.5" r="3.5" fill="#fd724e"/>
<circle class="pt" cx="358" cy="543.5" r="3.5" fill="#fa3e3d"/><circle class="pt" cx="348.6" cy="536.5" r="3.5" fill="#fecb8b"/><circle class="pt" cx="372.9" cy="547.1" r="3.5" fill="#fa3e3d"/><circle class="pt" cx="366" cy="542.4" r="3.5" fill="#fa3e3d"/>
<circle class="pt" cx="269.2" cy="429.1" r="3.5" fill="#fa3e3d"/><circle class="pt" cx="324.9" cy="494.8" r="3.5" fill="#fa3e3d"/><circle class="pt" cx="256.7" cy="413.3" r="3.5" fill="#fa3e3d"/><circle class="pt" cx="215.9" cy="308.8" r="3.5" fill="#fd724e"/>
<circle class="pt" cx="269" cy="423.3" r="3.5" fill="#fa3e3d"/><circle class="pt" cx="372.2" cy="550.1" r="3.5" fill="#fa3e3d"/><circle class="pt" cx="378.6" cy="562.2" r="3.5" fill="#fa3e3d"/><circle class="pt" cx="433.4" cy="560.6" r="3.5" fill="#fdaa6e"/>
<circle class="pt" cx="366.9" cy="549.1" r="3.5" fill="#fa3e3d"/><circle class="pt" cx="356.9" cy="550.5" r="3.5" fill="#fa3e3d"/><circle class="pt" cx="359.8" cy="538.1" r="3.5" fill="#fa3e3d"/><circle class="pt" cx="365.9" cy="550.4" r="3.5" fill="#fa3e3d"/>
<circle class="pt" cx="208.2" cy="290.8" r="3.5" fill="#fa3e3d"/><circle class="pt" cx="217.6" cy="294.2" r="3.5" fill="#fa3e3d"/><circle class="pt" cx="354.3" cy="537.6" r="3.5" fill="#fa3e3d"/><circle class="pt" cx="367" cy="540" r="3.5" fill="#fa3e3d"/>
<circle class="pt" cx="377.4" cy="554.4" r="3.5" fill="#fa3e3d"/><circle class="pt" cx="250.5" cy="414.3" r="3.5" fill="#fa3e3d"/><circle class="pt" cx="317.4" cy="485" r="3.5" fill="#fa3e3d"/><circle class="pt" cx="235.7" cy="384.5" r="3.5" fill="#fd724e"/>
<circle class="pt" cx="363.1" cy="541.8" r="3.5" fill="#fd724e"/><circle class="pt" cx="379.4" cy="538" r="3.5" fill="#fa3e3d"/><circle class="pt" cx="220" cy="293" r="3.5" fill="#fa3e3d"/><circle class="pt" cx="320" cy="482.6" r="3.5" fill="#fa3e3d"/>
<circle class="pt" cx="439.2" cy="566.6" r="3.5" fill="#fdaa6e"/><circle class="pt" cx="232" cy="375.6" r="3.5" fill="#fa3e3d"/><circle class="pt" cx="385.1" cy="554.9" r="3.5" fill="#fecb8b"/><circle class="pt" cx="358.3" cy="545.9" r="3.5" fill="#fa3e3d"/>
<circle class="pt" cx="217.3" cy="305.7" r="3.5" fill="#fa3e3d"/><circle class="pt" cx="414.8" cy="570.5" r="3.5" fill="#ffe9b1"/><circle class="pt" cx="351.9" cy="541.2" r="3.5" fill="#fd724e"/><circle class="pt" cx="341.1" cy="525.2" r="3.5" fill="#fa3e3d"/>
<circle class="pt" cx="360.6" cy="532.8" r="3.5" fill="#fd724e"/><circle class="pt" cx="351.3" cy="546.7" r="3.5" fill="#fa3e3d"/><circle class="pt" cx="391.4" cy="561.1" r="3.5" fill="#fecb8b"/><circle class="pt" cx="214.3" cy="288.5" r="3.5" fill="#fa3e3d"/>
<circle class="pt" cx="354.1" cy="547.3" r="3.5" fill="#fa3e3d"/><circle class="pt" cx="245.4" cy="404.4" r="3.5" fill="#fa3e3d"/><circle class="pt" cx="272.3" cy="425.2" r="3.5" fill="#fd724e"/><circle class="pt" cx="247.7" cy="406.1" r="3.5" fill="#fd724e"/>
<circle class="pt" cx="288.1" cy="453.6" r="3.5" fill="#fa3e3d"/><circle class="pt" cx="364.2" cy="533.8" r="3.5" fill="#fa3e3d"/><circle class="pt" cx="237.6" cy="372.7" r="3.5" fill="#fd724e"/><circle class="pt" cx="350" cy="538.7" r="3.5" fill="#fa3e3d"/>
<circle class="pt" cx="322" cy="497.3" r="3.5" fill="#fa3e3d"/><circle class="pt" cx="384.3" cy="539.9" r="3.5" fill="#fa3e3d"/><circle class="pt" cx="210" cy="295" r="3.5" fill="#fa3e3d"/><circle class="pt" cx="244.3" cy="406.3" r="3.5" fill="#fa3e3d"/>
<circle class="pt" cx="216.5" cy="298.8" r="3.5" fill="#fa3e3d"/><circle class="pt" cx="380.3" cy="563.7" r="3.5" fill="#fa3e3d"/><circle class="pt" cx="379" cy="560" r="3.5" fill="#fa3e3d"/><circle class="pt" cx="210.1" cy="252.4" r="3.5" fill="#fa3e3d"/>
<circle class="pt" cx="360.9" cy="530.2" r="3.5" fill="#fa3e3d"/><circle class="pt" cx="211.2" cy="300.5" r="3.5" fill="#fa3e3d"/><circle class="pt" cx="324.9" cy="498.6" r="3.5" fill="#fa3e3d"/><circle class="pt" cx="222.2" cy="313.3" r="3.5" fill="#fa3e3d"/>
<circle class="pt" cx="404.1" cy="547" r="3.5" fill="#fa3e3d"/><circle class="pt" cx="385.5" cy="547" r="3.5" fill="#fa3e3d"/><circle class="pt" cx="351.3" cy="523.9" r="3.5" fill="#fa3e3d"/><circle class="pt" cx="388.1" cy="545.7" r="3.5" fill="#fa3e3d"/>
<circle class="pt" cx="206" cy="260.9" r="3.5" fill="#fa3e3d"/><circle class="pt" cx="337.3" cy="528.5" r="3.5" fill="#fa3e3d"/><circle class="pt" cx="353.9" cy="543.8" r="3.5" fill="#fd724e"/><circle class="pt" cx="237.7" cy="388.8" r="3.5" fill="#fd724e"/>
<circle class="pt" cx="326.4" cy="494" r="3.5" fill="#fa3e3d"/><circle class="pt" cx="363.1" cy="538.7" r="3.5" fill="#fa3e3d"/><circle class="pt" cx="348.1" cy="545.6" r="3.5" fill="#fa3e3d"/><circle class="pt" cx="357.5" cy="537.2" r="3.5" fill="#fa3e3d"/>
<circle class="pt" cx="245.4" cy="398.3" r="3.5" fill="#fa3e3d"/><circle class="pt" cx="291.3" cy="457" r="3.5" fill="#fa3e3d"/><circle class="pt" cx="261.6" cy="421.7" r="3.5" fill="#fa3e3d"/><circle class="pt" cx="273.3" cy="423" r="3.5" fill="#fd724e"/>
<circle class="pt" cx="375.3" cy="561.2" r="3.5" fill="#fa3e3d"/><circle class="pt" cx="272.4" cy="428.7" r="3.5" fill="#fa3e3d"/><circle class="pt" cx="393.9" cy="547.1" r="3.5" fill="#fa3e3d"/><circle class="pt" cx="357" cy="544.4" r="3.5" fill="#fa3e3d"/>
<circle class="pt" cx="321.5" cy="504.6" r="3.5" fill="#fa3e3d"/><circle class="pt" cx="210.8" cy="223.3" r="3.5" fill="#fa3e3d"/><circle class="pt" cx="367.1" cy="558.9" r="3.5" fill="#fa3e3d"/><circle class="pt" cx="375.9" cy="538.7" r="3.5" fill="#fa3e3d"/>
<circle class="pt" cx="244.5" cy="412.6" r="3.5" fill="#fd724e"/><circle class="pt" cx="359.5" cy="557" r="3.5" fill="#fd724e"/><circle class="pt" cx="283.3" cy="441.2" r="3.5" fill="#fa3e3d"/><circle class="pt" cx="374.4" cy="559.9" r="3.5" fill="#fa3e3d"/>
<circle class="pt" cx="218.7" cy="314.9" r="3.5" fill="#fa3e3d"/><circle class="pt" cx="381.8" cy="538.4" r="3.5" fill="#fa3e3d"/><circle class="pt" cx="384.7" cy="548" r="3.5" fill="#fa3e3d"/><circle class="pt" cx="276.6" cy="443.7" r="3.5" fill="#fa3e3d"/>
<circle class="pt" cx="209.1" cy="260.4" r="3.5" fill="#fa3e3d"/><circle class="pt" cx="409.6" cy="573.5" r="3.5" fill="#ffe9b1"/><circle class="pt" cx="355.5" cy="515.9" r="3.5" fill="#fa3e3d"/><circle class="pt" cx="362.5" cy="532.1" r="3.5" fill="#fa3e3d"/>
<circle class="pt" cx="362.4" cy="552" r="3.5" fill="#fa3e3d"/><circle class="pt" cx="402.3" cy="583.8" r="3.5" fill="#fd724e"/><circle class="pt" cx="365.2" cy="535" r="3.5" fill="#fa3e3d"/><circle class="pt" cx="384.3" cy="550.2" r="3.5" fill="#fa3e3d"/>
<circle class="pt" cx="266.9" cy="435.9" r="3.5" fill="#fa3e3d"/><circle class="pt" cx="267.7" cy="446.7" r="3.5" fill="#fa3e3d"/><circle class="pt" cx="387.8" cy="547.4" r="3.5" fill="#fa3e3d"/><circle class="pt" cx="238.8" cy="387.7" r="3.5" fill="#fd724e"/>
<circle class="pt" cx="364.9" cy="557.4" r="3.5" fill="#fd724e"/><circle class="pt" cx="372" cy="550.5" r="3.5" fill="#fa3e3d"/><circle class="pt" cx="384.3" cy="556.1" r="3.5" fill="#fecb8b"/><circle class="pt" cx="300.5" cy="460.5" r="3.5" fill="#fa3e3d"/>
<circle class="pt" cx="272.3" cy="444.2" r="3.5" fill="#fa3e3d"/><circle class="pt" cx="229.5" cy="356.4" r="3.5" fill="#fa3e3d"/><circle class="pt" cx="314.1" cy="480.4" r="3.5" fill="#fd724e"/><circle class="pt" cx="206.2" cy="270.8" r="3.5" fill="#fd724e"/>
<circle class="pt" cx="278.6" cy="439.3" r="3.5" fill="#fd724e"/><circle class="pt" cx="360.5" cy="560.9" r="3.5" fill="#fa3e3d"/><circle class="pt" cx="208.5" cy="285.4" r="3.5" fill="#fa3e3d"/><circle class="pt" cx="210.3" cy="229.8" r="3.5" fill="#fa3e3d"/>
<circle class="pt" cx="239.4" cy="395.4" r="3.5" fill="#fa3e3d"/><circle class="pt" cx="253.5" cy="425.9" r="3.5" fill="#fa3e3d"/><circle class="pt" cx="375" cy="559.2" r="3.5" fill="#fa3e3d"/><circle class="pt" cx="363.5" cy="535.4" r="3.5" fill="#fd724e"/>
<circle class="pt" cx="374.4" cy="553.9" r="3.5" fill="#fa3e3d"/><circle class="pt" cx="323.6" cy="500.6" r="3.5" fill="#fa3e3d"/><circle class="pt" cx="353.8" cy="536.2" r="3.5" fill="#fa3e3d"/><circle class="pt" cx="370.7" cy="549.6" r="3.5" fill="#fa3e3d"/>
<circle class="pt" cx="204.4" cy="229.2" r="3.5" fill="#fa3e3d"/><circle class="pt" cx="359.8" cy="545.9" r="3.5" fill="#fa3e3d"/><circle class="pt" cx="266.8" cy="412.7" r="3.5" fill="#fa3e3d"/><circle class="pt" cx="382.2" cy="547" r="3.5" fill="#fa3e3d"/>
<circle class="pt" cx="353.2" cy="549.9" r="3.5" fill="#fd724e"/><circle class="pt" cx="437.7" cy="557" r="3.5" fill="#fa3e3d"/><circle class="pt" cx="365.4" cy="553.6" r="3.5" fill="#fa3e3d"/><circle class="pt" cx="353.2" cy="528.6" r="3.5" fill="#fa3e3d"/>
<circle class="pt" cx="222.6" cy="351.2" r="3.5" fill="#fa3e3d"/><circle class="pt" cx="391.2" cy="543.6" r="3.5" fill="#fa3e3d"/><circle class="pt" cx="357.5" cy="514.6" r="3.5" fill="#fa3e3d"/><circle class="pt" cx="219.9" cy="295.9" r="3.5" fill="#fa3e3d"/>
<circle class="pt" cx="426.8" cy="558" r="3.5" fill="#ffe9b1"/><circle class="pt" cx="240.6" cy="386.9" r="3.5" fill="#fa3e3d"/><circle class="pt" cx="380" cy="553.8" r="3.5" fill="#fa3e3d"/><circle class="pt" cx="361.9" cy="557.1" r="3.5" fill="#fd724e"/>
<circle class="pt" cx="338.2" cy="516.4" r="3.5" fill="#fa3e3d"/><circle class="pt" cx="385.3" cy="561.2" r="3.5" fill="#fa3e3d"/><circle class="pt" cx="349.6" cy="536.2" r="3.5" fill="#fecb8b"/><circle class="pt" cx="215.3" cy="343.4" r="3.5" fill="#fa3e3d"/>
<circle class="pt" cx="386.1" cy="552.6" r="3.5" fill="#fa3e3d"/><circle class="pt" cx="368.9" cy="554.5" r="3.5" fill="#fa3e3d"/><circle class="pt" cx="373.9" cy="558.5" r="3.5" fill="#fa3e3d"/><circle class="pt" cx="353.4" cy="535.2" r="3.5" fill="#fa3e3d"/>
<circle class="pt" cx="263.7" cy="440.8" r="3.5" fill="#fa3e3d"/><circle class="pt" cx="212.7" cy="336.6" r="3.5" fill="#fa3e3d"/><circle class="pt" cx="242.4" cy="393.5" r="3.5" fill="#fa3e3d"/><circle class="pt" cx="330.1" cy="494" r="3.5" fill="#fdaa6e"/>
<circle class="pt" cx="341.8" cy="528.2" r="3.5" fill="#fd724e"/><circle class="pt" cx="385.3" cy="545.3" r="3.5" fill="#e31f34"/><circle class="pt" cx="349.9" cy="530.1" r="3.5" fill="#fa3e3d"/><circle class="pt" cx="412.1" cy="577.7" r="3.5" fill="#ffe9b1"/>
<circle class="pt" cx="388.4" cy="553.7" r="3.5" fill="#fa3e3d"/><circle class="pt" cx="372.1" cy="542.8" r="3.5" fill="#fa3e3d"/><circle class="pt" cx="203.8" cy="225.9" r="3.5" fill="#fa3e3d"/><circle class="pt" cx="409.3" cy="575.6" r="3.5" fill="#fa3e3d"/>
<circle class="pt" cx="294.4" cy="448.1" r="3.5" fill="#fdaa6e"/><circle class="pt" cx="277" cy="435" r="3.5" fill="#fd724e"/><circle class="pt" cx="357.2" cy="553.9" r="3.5" fill="#fa3e3d"/><circle class="pt" cx="215.1" cy="232.6" r="3.5" fill="#fa3e3d"/>
<circle class="pt" cx="290.9" cy="450.1" r="3.5" fill="#fa3e3d"/><circle class="pt" cx="382.8" cy="556.9" r="3.5" fill="#fa3e3d"/><circle class="pt" cx="326.7" cy="496.9" r="3.5" fill="#fa3e3d"/><circle class="pt" cx="375.1" cy="563.6" r="3.5" fill="#fa3e3d"/>
<circle class="pt" cx="381.3" cy="553.5" r="3.5" fill="#fa3e3d"/><circle class="pt" cx="360.4" cy="553.8" r="3.5" fill="#fa3e3d"/><circle class="pt" cx="397" cy="547" r="3.5" fill="#fa3e3d"/><circle class="pt" cx="373.4" cy="552.7" r="3.5" fill="#fa3e3d"/>
<circle class="pt" cx="380.7" cy="561.1" r="3.5" fill="#fa3e3d"/><circle class="pt" cx="214.7" cy="337.5" r="3.5" fill="#fa3e3d"/><circle class="pt" cx="253.9" cy="420.4" r="3.5" fill="#fd724e"/><circle class="pt" cx="363.9" cy="555.5" r="3.5" fill="#fa3e3d"/>
<circle class="pt" cx="349.3" cy="533.1" r="3.5" fill="#fa3e3d"/><circle class="pt" cx="334.7" cy="526.7" r="3.5" fill="#fa3e3d"/><circle class="pt" cx="241.1" cy="400.2" r="3.5" fill="#fd724e"/><circle class="pt" cx="219.6" cy="354.8" r="3.5" fill="#fa3e3d"/>
<circle class="pt" cx="361.8" cy="548.3" r="3.5" fill="#fa3e3d"/><circle class="pt" cx="359.7" cy="522.6" r="3.5" fill="#fa3e3d"/><circle class="pt" cx="265.9" cy="416.6" r="3.5" fill="#fdaa6e"/><circle class="pt" cx="407" cy="577.1" r="3.5" fill="#fa3e3d"/>
<circle class="pt" cx="365.3" cy="538.1" r="3.5" fill="#fa3e3d"/><circle class="pt" cx="355.6" cy="529.5" r="3.5" fill="#fa3e3d"/><circle class="pt" cx="375" cy="550.2" r="3.5" fill="#fa3e3d"/><circle class="pt" cx="291.7" cy="447.9" r="3.5" fill="#fa3e3d"/>
<circle class="pt" cx="356.9" cy="554.9" r="3.5" fill="#fa3e3d"/><circle class="pt" cx="281.6" cy="431.1" r="3.5" fill="#fa3e3d"/><circle class="pt" cx="279.5" cy="435.1" r="3.5" fill="#fd724e"/><circle class="pt" cx="330.7" cy="523" r="3.5" fill="#fa3e3d"/>
<circle class="pt" cx="406.4" cy="574.5" r="3.5" fill="#fa3e3d"/><circle class="pt" cx="202.2" cy="227.1" r="3.5" fill="#fa3e3d"/><circle class="pt" cx="374.1" cy="536.3" r="3.5" fill="#fa3e3d"/><circle class="pt" cx="376.6" cy="555.8" r="3.5" fill="#fa3e3d"/>
<circle class="pt" cx="266.9" cy="431.1" r="3.5" fill="#fdaa6e"/><circle class="pt" cx="271" cy="446.5" r="3.5" fill="#fa3e3d"/><circle class="pt" cx="391.4" cy="540.9" r="3.5" fill="#fa3e3d"/><circle class="pt" cx="358.5" cy="530.2" r="3.5" fill="#fa3e3d"/>
<circle class="pt" cx="320.8" cy="495.5" r="3.5" fill="#fa3e3d"/><circle class="pt" cx="234.7" cy="374.2" r="3.5" fill="#fa3e3d"/><circle class="pt" cx="374.9" cy="552.9" r="3.5" fill="#fa3e3d"/><circle class="pt" cx="371.1" cy="544" r="3.5" fill="#fa3e3d"/>
<circle class="pt" cx="206.6" cy="264.9" r="3.5" fill="#fa3e3d"/><circle class="pt" cx="383.2" cy="566.4" r="3.5" fill="#fa3e3d"/><circle class="pt" cx="260.5" cy="411.4" r="3.5" fill="#fa3e3d"/><circle class="pt" cx="357.1" cy="533.6" r="3.5" fill="#fa3e3d"/>
<circle class="pt" cx="360.3" cy="541.9" r="3.5" fill="#fd724e"/><circle class="pt" cx="344.2" cy="514.6" r="3.5" fill="#fa3e3d"/><circle class="pt" cx="441.8" cy="554.7" r="3.5" fill="#fa3e3d"/><circle class="pt" cx="352.5" cy="537.5" r="3.5" fill="#fa3e3d"/>
<circle class="pt" cx="369.9" cy="544" r="3.5" fill="#fa3e3d"/><circle class="pt" cx="344.5" cy="528.5" r="3.5" fill="#fd724e"/><circle class="pt" cx="370.9" cy="538.8" r="3.5" fill="#fa3e3d"/><circle class="pt" cx="275.5" cy="428.5" r="3.5" fill="#fa3e3d"/>
<circle class="pt" cx="331.9" cy="525.9" r="3.5" fill="#fa3e3d"/><circle class="pt" cx="384.8" cy="560.2" r="3.5" fill="#fa3e3d"/><circle class="pt" cx="210.3" cy="246.1" r="3.5" fill="#fa3e3d"/><circle class="pt" cx="234.9" cy="367.6" r="3.5" fill="#fd724e"/>
<circle class="pt" cx="303.4" cy="459.8" r="3.5" fill="#fa3e3d"/><circle class="pt" cx="394.3" cy="543.8" r="3.5" fill="#fa3e3d"/><circle class="pt" cx="257" cy="416.5" r="3.5" fill="#fa3e3d"/><circle class="pt" cx="378.8" cy="548.1" r="3.5" fill="#fa3e3d"/>
<circle class="pt" cx="332.8" cy="508.1" r="3.5" fill="#fa3e3d"/><circle class="pt" cx="252.2" cy="416.9" r="3.5" fill="#fd724e"/><circle class="pt" cx="251.2" cy="411.1" r="3.5" fill="#fa3e3d"/><circle class="pt" cx="381.8" cy="544.8" r="3.5" fill="#fa3e3d"/>
<circle class="pt" cx="386.1" cy="569.2" r="3.5" fill="#fa3e3d"/><circle class="pt" cx="282.8" cy="450.6" r="3.5" fill="#fd724e"/><circle class="pt" cx="388.6" cy="564.4" r="3.5" fill="#fa3e3d"/><circle class="pt" cx="352.7" cy="548.8" r="3.5" fill="#fd724e"/>
<circle class="pt" cx="281.9" cy="444.9" r="3.5" fill="#fa3e3d"/><circle class="pt" cx="359.5" cy="529.1" r="3.5" fill="#fa3e3d"/><circle class="pt" cx="413.2" cy="573.6" r="3.5" fill="#fdaa6e"/><circle class="pt" cx="360.6" cy="556.3" r="3.5" fill="#fa3e3d"/>
<circle class="pt" cx="211.3" cy="248.9" r="3.5" fill="#fa3e3d"/><circle class="pt" cx="369.9" cy="536.4" r="3.5" fill="#fa3e3d"/><circle class="pt" cx="344.6" cy="516.5" r="3.5" fill="#fa3e3d"/><circle class="pt" cx="325" cy="488.6" r="3.5" fill="#fdaa6e"/>
<circle class="pt" cx="351.5" cy="530.6" r="3.5" fill="#fa3e3d"/><circle class="pt" cx="318.8" cy="483.4" r="3.5" fill="#fa3e3d"/><circle class="pt" cx="209.6" cy="270.5" r="3.5" fill="#fa3e3d"/><circle class="pt" cx="346.4" cy="522.5" r="3.5" fill="#fd724e"/>
<circle class="pt" cx="344.5" cy="526.5" r="3.5" fill="#fd724e"/><circle class="pt" cx="246.9" cy="392.9" r="3.5" fill="#fa3e3d"/><circle class="pt" cx="272.5" cy="441.9" r="3.5" fill="#fdaa6e"/><circle class="pt" cx="214.6" cy="226.5" r="3.5" fill="#fa3e3d"/>
<circle class="pt" cx="225.1" cy="321.5" r="3.5" fill="#fa3e3d"/><circle class="pt" cx="223.7" cy="353.3" r="3.5" fill="#fa3e3d"/><circle class="pt" cx="215" cy="297.9" r="3.5" fill="#fa3e3d"/><circle class="pt" cx="266.8" cy="429.4" r="3.5" fill="#fa3e3d"/>
<circle class="pt" cx="263.5" cy="438.6" r="3.5" fill="#fa3e3d"/><circle class="pt" cx="247.3" cy="414" r="3.5" fill="#fd724e"/><circle class="pt" cx="372.5" cy="535.7" r="3.5" fill="#fd724e"/><circle class="pt" cx="434.4" cy="558.7" r="3.5" fill="#fa3e3d"/>
<circle class="pt" cx="379.6" cy="565.4" r="3.5" fill="#fd724e"/><circle class="pt" cx="244.3" cy="395.1" r="3.5" fill="#fd724e"/><circle class="pt" cx="213.6" cy="230.2" r="3.5" fill="#fa3e3d"/><circle class="pt" cx="317.6" cy="500.6" r="3.5" fill="#fa3e3d"/>
<circle class="pt" cx="225.2" cy="311.5" r="3.5" fill="#fa3e3d"/><circle class="pt" cx="370" cy="538.1" r="3.5" fill="#fa3e3d"/><circle class="pt" cx="318" cy="482.2" r="3.5" fill="#fd724e"/><circle class="pt" cx="338.5" cy="519.7" r="3.5" fill="#fa3e3d"/>
<circle class="pt" cx="391.5" cy="565.7" r="3.5" fill="#fa3e3d"/><circle class="pt" cx="292.1" cy="445.2" r="3.5" fill="#fd724e"/><circle class="pt" cx="247.9" cy="404.8" r="3.5" fill="#fa3e3d"/><circle class="pt" cx="216.9" cy="350.5" r="3.5" fill="#fa3e3d"/>
<circle class="pt" cx="289" cy="440.9" r="3.5" fill="#fd724e"/><circle class="pt" cx="353.9" cy="519.5" r="3.5" fill="#fd724e"/><circle class="pt" cx="364.6" cy="547" r="3.5" fill="#fa3e3d"/><circle class="pt" cx="316.3" cy="482.8" r="3.5" fill="#fa3e3d"/>
<circle class="pt" cx="386.6" cy="559.3" r="3.5" fill="#fa3e3d"/><circle class="pt" cx="355.1" cy="531.7" r="3.5" fill="#fa3e3d"/><circle class="pt" cx="371.6" cy="547.7" r="3.5" fill="#fa3e3d"/><circle class="pt" cx="267" cy="420.1" r="3.5" fill="#fa3e3d"/>
<circle class="pt" cx="369.6" cy="542.3" r="3.5" fill="#fa3e3d"/><circle class="pt" cx="306.8" cy="460.6" r="3.5" fill="#fa3e3d"/><circle class="pt" cx="358.9" cy="525.4" r="3.5" fill="#fa3e3d"/><circle class="pt" cx="253.9" cy="400.2" r="3.5" fill="#a80024"/>
<circle class="pt" cx="370" cy="559.4" r="3.5" fill="#fd724e"/><circle class="pt" cx="360.6" cy="540.9" r="3.5" fill="#fa3e3d"/><circle class="pt" cx="217.5" cy="309.9" r="3.5" fill="#fa3e3d"/><circle class="pt" cx="356.1" cy="532.2" r="3.5" fill="#fa3e3d"/>
<circle class="pt" cx="352.6" cy="517.4" r="3.5" fill="#fa3e3d"/><circle class="pt" cx="414.9" cy="574.6" r="3.5" fill="#fecb8b"/><circle class="pt" cx="377.9" cy="557.1" r="3.5" fill="#fa3e3d"/><circle class="pt" cx="431.3" cy="554.6" r="3.5" fill="#fdaa6e"/>
<circle class="pt" cx="257.6" cy="409.3" r="3.5" fill="#fa3e3d"/><circle class="pt" cx="368.9" cy="563" r="3.5" fill="#fffbd8"/><circle class="pt" cx="258.2" cy="428.2" r="3.5" fill="#fa3e3d"/><circle class="pt" cx="354.1" cy="550.2" r="3.5" fill="#fa3e3d"/>
<circle class="pt" cx="385.9" cy="556.7" r="3.5" fill="#fa3e3d"/><circle class="pt" cx="351.1" cy="544.3" r="3.5" fill="#fd724e"/><circle class="pt" cx="351" cy="537.2" r="3.5" fill="#fa3e3d"/><circle class="pt" cx="269.4" cy="432.6" r="3.5" fill="#fa3e3d"/>
<circle class="pt" cx="260" cy="419.5" r="3.5" fill="#fa3e3d"/><circle class="pt" cx="359.2" cy="544.4" r="3.5" fill="#fd724e"/><circle class="pt" cx="255.1" cy="403.8" r="3.5" fill="#fa3e3d"/><circle class="pt" cx="362" cy="545.7" r="3.5" fill="#fa3e3d"/>
<circle class="pt" cx="348.1" cy="530.6" r="3.5" fill="#fa3e3d"/><circle class="pt" cx="356.3" cy="541.4" r="3.5" fill="#fa3e3d"/><circle class="pt" cx="362.5" cy="559.7" r="3.5" fill="#fa3e3d"/><circle class="pt" cx="369.7" cy="546.9" r="3.5" fill="#fa3e3d"/>
<circle class="pt" cx="266.1" cy="411.4" r="3.5" fill="#fdaa6e"/><circle class="pt" cx="388.4" cy="553.3" r="3.5" fill="#e31f34"/><circle class="pt" cx="255.5" cy="414.1" r="3.5" fill="#fa3e3d"/><circle class="pt" cx="303.5" cy="471.7" r="3.5" fill="#fa3e3d"/>
<circle class="pt" cx="365.8" cy="545.6" r="3.5" fill="#fa3e3d"/><circle class="pt" cx="237.6" cy="367.8" r="3.5" fill="#fd724e"/><circle class="pt" cx="308" cy="473.8" r="3.5" fill="#fa3e3d"/><circle class="pt" cx="212.2" cy="332" r="3.5" fill="#fa3e3d"/>
<circle class="pt" cx="354.2" cy="543.7" r="3.5" fill="#fa3e3d"/><circle class="pt" cx="279.2" cy="429.4" r="3.5" fill="#fa3e3d"/><circle class="pt" cx="334.9" cy="520.9" r="3.5" fill="#fa3e3d"/><circle class="pt" cx="340.2" cy="520.4" r="3.5" fill="#fa3e3d"/>
<circle class="pt" cx="263.9" cy="409.8" r="3.5" fill="#fa3e3d"/><circle class="pt" cx="263.4" cy="431.5" r="3.5" fill="#fa3e3d"/><circle class="pt" cx="400.9" cy="579.6" r="3.5" fill="#fa3e3d"/><circle class="pt" cx="289.4" cy="444.1" r="3.5" fill="#fdaa6e"/>
<circle class="pt" cx="351.1" cy="527.1" r="3.5" fill="#fa3e3d"/><circle class="pt" cx="371" cy="561.1" r="3.5" fill="#fa3e3d"/><circle class="pt" cx="374.3" cy="545.7" r="3.5" fill="#fa3e3d"/><circle class="pt" cx="256.6" cy="404" r="3.5" fill="#fa3e3d"/>
<circle class="pt" cx="343.3" cy="523.1" r="3.5" fill="#fa3e3d"/><circle class="pt" cx="374.9" cy="547.6" r="3.5" fill="#fa3e3d"/><circle class="pt" cx="310.1" cy="477.1" r="3.5" fill="#fd724e"/><circle class="pt" cx="236.5" cy="373.8" r="3.5" fill="#fa3e3d"/>
<circle class="pt" cx="377.2" cy="539" r="3.5" fill="#fa3e3d"/><circle class="pt" cx="225.2" cy="353.8" r="3.5" fill="#fa3e3d"/><circle class="pt" cx="380.8" cy="541.4" r="3.5" fill="#fa3e3d"/><circle class="pt" cx="273.4" cy="435" r="3.5" fill="#fa3e3d"/>
<circle class="pt" cx="360.2" cy="559.9" r="3.5" fill="#fa3e3d"/><circle class="pt" cx="318.9" cy="487.6" r="3.5" fill="#fa3e3d"/><circle class="pt" cx="377.2" cy="562.4" r="3.5" fill="#fa3e3d"/><circle class="pt" cx="357.4" cy="551.6" r="3.5" fill="#fa3e3d"/>
<circle class="pt" cx="271.1" cy="425" r="3.5" fill="#fa3e3d"/><circle class="pt" cx="403.7" cy="576.7" r="3.5" fill="#ffe9b1"/><circle class="pt" cx="205.5" cy="224.4" r="3.5" fill="#fa3e3d"/><circle class="pt" cx="208.7" cy="250.4" r="3.5" fill="#fa3e3d"/>
<circle class="pt" cx="352.7" cy="527.1" r="3.5" fill="#fa3e3d"/><circle class="pt" cx="433.1" cy="554.5" r="3.5" fill="#fa3e3d"/><circle class="pt" cx="346.9" cy="514.8" r="3.5" fill="#fa3e3d"/><circle class="pt" cx="366.8" cy="564.3" r="3.5" fill="#fd724e"/>
<circle class="pt" cx="220.3" cy="350.5" r="3.5" fill="#fa3e3d"/><circle class="pt" cx="347.1" cy="517.3" r="3.5" fill="#fa3e3d"/><circle class="pt" cx="384.1" cy="564.2" r="3.5" fill="#fa3e3d"/><circle class="pt" cx="353.1" cy="542" r="3.5" fill="#fd724e"/>
<circle class="pt" cx="248.6" cy="396.7" r="3.5" fill="#fa3e3d"/><circle class="pt" cx="211.3" cy="335" r="3.5" fill="#fa3e3d"/><circle class="pt" cx="273.9" cy="437.2" r="3.5" fill="#fa3e3d"/><circle class="pt" cx="329.6" cy="492.7" r="3.5" fill="#fa3e3d"/>
<circle class="pt" cx="350.7" cy="520.3" r="3.5" fill="#fa3e3d"/><circle class="pt" cx="264.3" cy="414" r="3.5" fill="#fa3e3d"/><circle class="pt" cx="368.1" cy="560.6" r="3.5" fill="#fa3e3d"/><circle class="pt" cx="397.3" cy="580.7" r="3.5" fill="#fd724e"/>
<circle class="pt" cx="381" cy="547.7" r="3.5" fill="#fa3e3d"/><circle class="pt" cx="214.6" cy="300.2" r="3.5" fill="#fa3e3d"/><circle class="pt" cx="217" cy="339.7" r="3.5" fill="#fa3e3d"/><circle class="pt" cx="440.6" cy="554.2" r="3.5" fill="#fa3e3d"/>
<circle class="pt" cx="267.1" cy="422.7" r="3.5" fill="#fd724e"/><circle class="pt" cx="366.3" cy="560.1" r="3.5" fill="#fa3e3d"/><circle class="pt" cx="384.3" cy="564.9" r="3.5" fill="#fa3e3d"/><circle class="pt" cx="356" cy="548" r="3.5" fill="#fd724e"/>
<circle class="pt" cx="357.1" cy="526.3" r="3.5" fill="#fa3e3d"/><circle class="pt" cx="211.1" cy="227.2" r="3.5" fill="#fa3e3d"/><circle class="pt" cx="409.8" cy="570.9" r="3.5" fill="#fdaa6e"/><circle class="pt" cx="391.5" cy="563.4" r="3.5" fill="#fa3e3d"/>
<circle class="pt" cx="258.8" cy="434.6" r="3.5" fill="#fa3e3d"/><circle class="pt" cx="274.1" cy="446.6" r="3.5" fill="#fa3e3d"/><circle class="pt" cx="374.7" cy="542.7" r="3.5" fill="#fd724e"/><circle class="pt" cx="391.5" cy="547.5" r="3.5" fill="#fa3e3d"/>
<circle class="pt" cx="369.6" cy="545.1" r="3.5" fill="#fa3e3d"/><circle class="pt" cx="414.5" cy="582.4" r="3.5" fill="#fffbd8"/><circle class="pt" cx="264.1" cy="418.7" r="3.5" fill="#fa3e3d"/><circle class="pt" cx="260.7" cy="434.5" r="3.5" fill="#fa3e3d"/>
<circle class="pt" cx="326.5" cy="505" r="3.5" fill="#fa3e3d"/><circle class="pt" cx="275.9" cy="431.9" r="3.5" fill="#fa3e3d"/><circle class="pt" cx="258.6" cy="422.3" r="3.5" fill="#fa3e3d"/><circle class="pt" cx="391.4" cy="547.8" r="3.5" fill="#fa3e3d"/>
<circle class="pt" cx="214" cy="294" r="3.5" fill="#fa3e3d"/><circle class="pt" cx="325" cy="491.1" r="3.5" fill="#fdaa6e"/><circle class="pt" cx="378.4" cy="559.9" r="3.5" fill="#fa3e3d"/><circle class="pt" cx="266.8" cy="443.5" r="3.5" fill="#fd724e"/>
<circle class="pt" cx="431.3" cy="557.7" r="3.5" fill="#fdaa6e"/><circle class="pt" cx="378.1" cy="543.7" r="3.5" fill="#fa3e3d"/><circle class="pt" cx="318.9" cy="494.6" r="3.5" fill="#fdaa6e"/><circle class="pt" cx="242.6" cy="395.3" r="3.5" fill="#fd724e"/>
<circle class="pt" cx="364.1" cy="537.1" r="3.5" fill="#fa3e3d"/><circle class="pt" cx="213" cy="244.6" r="3.5" fill="#fa3e3d"/><circle class="pt" cx="357.3" cy="553.5" r="3.5" fill="#fa3e3d"/><circle class="pt" cx="235.9" cy="389.3" r="3.5" fill="#fd724e"/>
<circle class="pt" cx="243.3" cy="409.3" r="3.5" fill="#fd724e"/><circle class="pt" cx="431.6" cy="567.6" r="3.5" fill="#fecb8b"/><circle class="pt" cx="214.6" cy="286.4" r="3.5" fill="#fa3e3d"/><circle class="pt" cx="334.9" cy="528.4" r="3.5" fill="#fa3e3d"/>
<circle class="pt" cx="330.3" cy="497.4" r="3.5" fill="#fdaa6e"/><circle class="pt" cx="408.5" cy="579" r="3.5" fill="#fdaa6e"/><circle class="pt" cx="396" cy="576.9" r="3.5" fill="#fecb8b"/><circle class="pt" cx="260.3" cy="426.5" r="3.5" fill="#fa3e3d"/>
<circle class="pt" cx="365.1" cy="545" r="3.5" fill="#fa3e3d"/><circle class="pt" cx="403.9" cy="543.7" r="3.5" fill="#fa3e3d"/><circle class="pt" cx="387.8" cy="550.2" r="3.5" fill="#fa3e3d"/><circle class="pt" cx="318.8" cy="479.7" r="3.5" fill="#fa3e3d"/>
<circle class="pt" cx="245.6" cy="409.8" r="3.5" fill="#fd724e"/><circle class="pt" cx="372.3" cy="566.4" r="3.5" fill="#fd724e"/><circle class="pt" cx="170.5" cy="92.6" r="3.5" fill="#fa3e3d"/><circle class="pt" cx="181.7" cy="99" r="3.5" fill="#fa3e3d"/>
<circle class="pt" cx="158.7" cy="110.9" r="3.5" fill="#fdaa6e"/><circle class="pt" cx="192.5" cy="115.7" r="3.5" fill="#fa3e3d"/><circle class="pt" cx="201.3" cy="118.9" r="3.5" fill="#fd724e"/><circle class="pt" cx="219.1" cy="115.1" r="3.5" fill="#fd724e"/>
<circle class="pt" cx="184.1" cy="130.5" r="3.5" fill="#fd724e"/><circle class="pt" cx="178.4" cy="139" r="3.5" fill="#fdaa6e"/><circle class="pt" cx="216" cy="127.4" r="3.5" fill="#fa3e3d"/><circle class="pt" cx="215.8" cy="149.4" r="3.5" fill="#fa3e3d"/>
<circle class="pt" cx="232.1" cy="171.2" r="3.5" fill="#fa3e3d"/><circle class="pt" cx="222.9" cy="179.2" r="3.5" fill="#fa3e3d"/><circle class="pt" cx="232.6" cy="184.6" r="3.5" fill="#fa3e3d"/><circle class="pt" cx="226.2" cy="196.4" r="3.5" fill="#fa3e3d"/>
<circle class="pt" cx="218" cy="202.4" r="3.5" fill="#fa3e3d"/><circle class="pt" cx="205.8" cy="208.2" r="3.5" fill="#fa3e3d"/><circle class="pt" cx="213" cy="213.6" r="3.5" fill="#fa3e3d"/><circle class="pt" cx="191" cy="219.2" r="3.5" fill="#fd724e"/>
<circle class="pt" cx="201.3" cy="219.2" r="3.5" fill="#fa3e3d"/><circle class="pt" cx="207.3" cy="219.6" r="3.5" fill="#fa3e3d"/><circle class="pt" cx="215.5" cy="223.5" r="3.5" fill="#fa3e3d"/><circle class="pt" cx="197.5" cy="225.7" r="3.5" fill="#fa3e3d"/>
<circle class="pt" cx="201.2" cy="222.8" r="3.5" fill="#fa3e3d"/><circle class="pt" cx="199.6" cy="228.7" r="3.5" fill="#fa3e3d"/><circle class="pt" cx="203.9" cy="226.2" r="3.5" fill="#fa3e3d"/><circle class="pt" cx="207.3" cy="227.9" r="3.5" fill="#fa3e3d"/>
<circle class="pt" cx="204.3" cy="231.2" r="3.5" fill="#fa3e3d"/><circle class="pt" cx="209.8" cy="228.3" r="3.5" fill="#fa3e3d"/><circle class="pt" cx="212.3" cy="230.4" r="3.5" fill="#fa3e3d"/><circle class="pt" cx="217.8" cy="230" r="3.5" fill="#fa3e3d"/>
<circle class="pt" cx="214" cy="231.4" r="3.5" fill="#fd724e"/><circle class="pt" cx="216.1" cy="236.3" r="3.5" fill="#fa3e3d"/><circle class="pt" cx="214" cy="234.6" r="3.5" fill="#fa3e3d"/><circle class="pt" cx="222.3" cy="239.3" r="3.5" fill="#fd724e"/>
<circle class="pt" cx="222.3" cy="244.5" r="3.5" fill="#fd724e"/><circle class="pt" cx="212.8" cy="242.7" r="3.5" fill="#fa3e3d"/><circle class="pt" cx="215.3" cy="244" r="3.5" fill="#fd724e"/><circle class="pt" cx="207.9" cy="244.6" r="3.5" fill="#fd724e"/>
<circle class="pt" cx="212.3" cy="247.8" r="3.5" fill="#fd724e"/><circle class="pt" cx="208.1" cy="249" r="3.5" fill="#fa3e3d"/><circle class="pt" cx="208.5" cy="251.6" r="3.5" fill="#fa3e3d"/><circle class="pt" cx="212.3" cy="253.7" r="3.5" fill="#fa3e3d"/>
<circle class="pt" cx="209.8" cy="256.7" r="3.5" fill="#fd724e"/><circle class="pt" cx="203.9" cy="257.9" r="3.5" fill="#fa3e3d"/><circle class="pt" cx="198.8" cy="260" r="3.5" fill="#fa3e3d"/><circle class="pt" cx="202.2" cy="261.3" r="3.5" fill="#fa3e3d"/>
<circle class="pt" cx="208.1" cy="260.9" r="3.5" fill="#fd724e"/><circle class="pt" cx="199.6" cy="265.1" r="3.5" fill="#fa3e3d"/><circle class="pt" cx="205.1" cy="266.4" r="3.5" fill="#fd724e"/><circle class="pt" cx="209" cy="264.3" r="3.5" fill="#fa3e3d"/>
<circle class="pt" cx="211.1" cy="269.4" r="3.5" fill="#fd724e"/><circle class="pt" cx="204.7" cy="270.2" r="3.5" fill="#fd724e"/><circle class="pt" cx="207.3" cy="271.9" r="3.5" fill="#fd724e"/><circle class="pt" cx="201.5" cy="275.1" r="3.5" fill="#fdaa6e"/>
<circle class="pt" cx="209.6" cy="274.9" r="3.5" fill="#fa3e3d"/><circle class="pt" cx="206.4" cy="277.8" r="3.5" fill="#fd724e"/><circle class="pt" cx="213.6" cy="278.8" r="3.5" fill="#fa3e3d"/><circle class="pt" cx="209.8" cy="282.9" r="3.5" fill="#fa3e3d"/>
<circle class="pt" cx="214.5" cy="285" r="3.5" fill="#fa3e3d"/><circle class="pt" cx="217.4" cy="282.9" r="3.5" fill="#fa3e3d"/><circle class="pt" cx="220" cy="286.7" r="3.5" fill="#fd724e"/><circle class="pt" cx="210.6" cy="287.6" r="3.5" fill="#fa3e3d"/>
<circle class="pt" cx="207.3" cy="289.7" r="3.5" fill="#fd724e"/><circle class="pt" cx="216.6" cy="290.9" r="3.5" fill="#fa3e3d"/><circle class="pt" cx="221.7" cy="290.5" r="3.5" fill="#fa3e3d"/><circle class="pt" cx="207.9" cy="292.6" r="3.5" fill="#fd724e"/>
<circle class="pt" cx="212.3" cy="293.9" r="3.5" fill="#fa3e3d"/><circle class="pt" cx="217.4" cy="295.6" r="3.5" fill="#fa3e3d"/><circle class="pt" cx="222.5" cy="297.7" r="3.5" fill="#fd724e"/><circle class="pt" cx="215.7" cy="298.1" r="3.5" fill="#fa3e3d"/>
<circle class="pt" cx="204.5" cy="301.5" r="3.5" fill="#fd724e"/><circle class="pt" cx="211.5" cy="301.1" r="3.5" fill="#fa3e3d"/><circle class="pt" cx="220.4" cy="302.4" r="3.5" fill="#fa3e3d"/><circle class="pt" cx="213.6" cy="303.6" r="3.5" fill="#fd724e"/>
<circle class="pt" cx="217.4" cy="301.5" r="3.5" fill="#fa3e3d"/><circle class="pt" cx="205.1" cy="308" r="3.5" fill="#fd724e"/><circle class="pt" cx="216.4" cy="306.4" r="3.5" fill="#fa3e3d"/><circle class="pt" cx="224.9" cy="310.2" r="3.5" fill="#fa3e3d"/>
<circle class="pt" cx="214.7" cy="312.7" r="3.5" fill="#fa3e3d"/><circle class="pt" cx="219" cy="314" r="3.5" fill="#fa3e3d"/><circle class="pt" cx="224.9" cy="316.1" r="3.5" fill="#fa3e3d"/><circle class="pt" cx="215.6" cy="316.9" r="3.5" fill="#fd724e"/>
<circle class="pt" cx="228.3" cy="319.1" r="3.5" fill="#fa3e3d"/><circle class="pt" cx="224" cy="320.7" r="3.5" fill="#fa3e3d"/><circle class="pt" cx="217.3" cy="322.4" r="3.5" fill="#fa3e3d"/><circle class="pt" cx="219.8" cy="324.1" r="3.5" fill="#fa3e3d"/>
<circle class="pt" cx="210.7" cy="325" r="3.5" fill="#fd724e"/><circle class="pt" cx="222.3" cy="327.5" r="3.5" fill="#fa3e3d"/><circle class="pt" cx="225.7" cy="325.4" r="3.5" fill="#fa3e3d"/><circle class="pt" cx="207.8" cy="330.3" r="3.5" fill="#fd724e"/>
<circle class="pt" cx="219.8" cy="330.9" r="3.5" fill="#fa3e3d"/><circle class="pt" cx="215.6" cy="333.9" r="3.5" fill="#fa3e3d"/><circle class="pt" cx="220" cy="334.9" r="3.5" fill="#e31f34"/><circle class="pt" cx="208.4" cy="337.1" r="3.5" fill="#fa3e3d"/>
<circle class="pt" cx="218.1" cy="339.4" r="3.5" fill="#fa3e3d"/><circle class="pt" cx="212.6" cy="342.3" r="3.5" fill="#fa3e3d"/><circle class="pt" cx="221.5" cy="344" r="3.5" fill="#fa3e3d"/><circle class="pt" cx="209.6" cy="346.1" r="3.5" fill="#fd724e"/>
<circle class="pt" cx="215.6" cy="348.7" r="3.5" fill="#fa3e3d"/><circle class="pt" cx="221.9" cy="348.7" r="3.5" fill="#fa3e3d"/><circle class="pt" cx="206.1" cy="350" r="3.5" fill="#fd724e"/><circle class="pt" cx="208.8" cy="352.9" r="3.5" fill="#fd724e"/>
<circle class="pt" cx="214.7" cy="354.6" r="3.5" fill="#fd724e"/><circle class="pt" cx="222.3" cy="352.5" r="3.5" fill="#fa3e3d"/><circle class="pt" cx="224" cy="355.9" r="3.5" fill="#fa3e3d"/><circle class="pt" cx="227.4" cy="352.5" r="3.5" fill="#fa3e3d"/>
<circle class="pt" cx="230.8" cy="355" r="3.5" fill="#fa3e3d"/><circle class="pt" cx="220.6" cy="358.8" r="3.5" fill="#fd724e"/><circle class="pt" cx="193.5" cy="355.5" r="3.5" fill="#fdaa6e"/><circle class="pt" cx="202.2" cy="359.7" r="3.5" fill="#fdaa6e"/>
<circle class="pt" cx="208.1" cy="359.1" r="3.5" fill="#fd724e"/><circle class="pt" cx="229.3" cy="360.1" r="3.5" fill="#fd724e"/><circle class="pt" cx="227.4" cy="363.1" r="3.5" fill="#fd724e"/><circle class="pt" cx="233.3" cy="363.5" r="3.5" fill="#fd724e"/>
<circle class="pt" cx="224.9" cy="368.2" r="3.5" fill="#fdaa6e"/><circle class="pt" cx="234.2" cy="369.9" r="3.5" fill="#fd724e"/><circle class="pt" cx="242.2" cy="371.1" r="3.5" fill="#fa3e3d"/><circle class="pt" cx="230.8" cy="370.3" r="3.5" fill="#fd724e"/>
<circle class="pt" cx="229.1" cy="374.9" r="3.5" fill="#fa3e3d"/><circle class="pt" cx="230.8" cy="377.5" r="3.5" fill="#fa3e3d"/><circle class="pt" cx="236.7" cy="376.2" r="3.5" fill="#fa3e3d"/><circle class="pt" cx="238.4" cy="373.7" r="3.5" fill="#fd724e"/>
<circle class="pt" cx="225.7" cy="378.6" r="3.5" fill="#fd724e"/><circle class="pt" cx="231.2" cy="384.3" r="3.5" fill="#fd724e"/><circle class="pt" cx="232.1" cy="387.6" r="3.5" fill="#fd724e"/><circle class="pt" cx="235.5" cy="387.6" r="3.5" fill="#fa3e3d"/>
<circle class="pt" cx="238.4" cy="383" r="3.5" fill="#fd724e"/><circle class="pt" cx="239.7" cy="386.4" r="3.5" fill="#fd724e"/><circle class="pt" cx="246" cy="388.5" r="3.5" fill="#fa3e3d"/><circle class="pt" cx="239.8" cy="395.5" r="3.5" fill="#fd724e"/>
<circle class="pt" cx="245.3" cy="395.1" r="3.5" fill="#fa3e3d"/><circle class="pt" cx="253.6" cy="397.2" r="3.5" fill="#fa3e3d"/><circle class="pt" cx="236.9" cy="401.9" r="3.5" fill="#fdaa6e"/><circle class="pt" cx="240.7" cy="401.4" r="3.5" fill="#fd724e"/>
<circle class="pt" cx="247" cy="402.3" r="3.5" fill="#fd724e"/><circle class="pt" cx="257.4" cy="403.5" r="3.5" fill="#a80024"/><circle class="pt" cx="261.4" cy="406.1" r="3.5" fill="#a80024"/><circle class="pt" cx="264.8" cy="405.7" r="3.5" fill="#fa3e3d"/>
<circle class="pt" cx="242.4" cy="406.1" r="3.5" fill="#fd724e"/><circle class="pt" cx="248.7" cy="405.2" r="3.5" fill="#fa3e3d"/><circle class="pt" cx="244.1" cy="410.3" r="3.5" fill="#fd724e"/><circle class="pt" cx="252.9" cy="409.9" r="3.5" fill="#fa3e3d"/>
<circle class="pt" cx="259.7" cy="410.7" r="3.5" fill="#fd724e"/><circle class="pt" cx="269.6" cy="409.9" r="3.5" fill="#fa3e3d"/><circle class="pt" cx="248.7" cy="412.4" r="3.5" fill="#fd724e"/><circle class="pt" cx="264.8" cy="414.6" r="3.5" fill="#fdaa6e"/>
<circle class="pt" cx="249.6" cy="419.6" r="3.5" fill="#fd724e"/><circle class="pt" cx="254.6" cy="417.9" r="3.5" fill="#fa3e3d"/><circle class="pt" cx="256.3" cy="420.5" r="3.5" fill="#fa3e3d"/><circle class="pt" cx="261.4" cy="421.8" r="3.5" fill="#fa3e3d"/>
<circle class="pt" cx="267.8" cy="417.5" r="3.5" fill="#fa3e3d"/><circle class="pt" cx="251.2" cy="424.7" r="3.5" fill="#fa3e3d"/><circle class="pt" cx="256.8" cy="425.1" r="3.5" fill="#fa3e3d"/><circle class="pt" cx="269.9" cy="423.9" r="3.5" fill="#fd724e"/>
<circle class="pt" cx="264.4" cy="423" r="3.5" fill="#fd724e"/><circle class="pt" cx="267.3" cy="429.4" r="3.5" fill="#e31f34"/><circle class="pt" cx="261.4" cy="432.8" r="3.5" fill="#fdaa6e"/><circle class="pt" cx="252.9" cy="428.1" r="3.5" fill="#fa3e3d"/>
<circle class="pt" cx="272.4" cy="430.6" r="3.5" fill="#fa3e3d"/><circle class="pt" cx="275.8" cy="431.9" r="3.5" fill="#fa3e3d"/><circle class="pt" cx="279.6" cy="427.3" r="3.5" fill="#fa3e3d"/><circle class="pt" cx="277.1" cy="424.7" r="3.5" fill="#fa3e3d"/>
<circle class="pt" cx="283.4" cy="433.2" r="3.5" fill="#fd724e"/><circle class="pt" cx="260.1" cy="438.4" r="3.5" fill="#fa3e3d"/><circle class="pt" cx="267.3" cy="438.9" r="3.5" fill="#fd724e"/><circle class="pt" cx="273.7" cy="438.3" r="3.5" fill="#fdaa6e"/>
<circle class="pt" cx="278.3" cy="438.3" r="3.5" fill="#fd724e"/><circle class="pt" cx="283.8" cy="440.4" r="3.5" fill="#fd724e"/><circle class="pt" cx="288.9" cy="442.5" r="3.5" fill="#fd724e"/><circle class="pt" cx="264.8" cy="442.5" r="3.5" fill="#fa3e3d"/>
<circle class="pt" cx="269.9" cy="444.2" r="3.5" fill="#fdaa6e"/><circle class="pt" cx="269.9" cy="447.6" r="3.5" fill="#fa3e3d"/><circle class="pt" cx="276.2" cy="447.2" r="3.5" fill="#fa3e3d"/><circle class="pt" cx="280.9" cy="445.9" r="3.5" fill="#fa3e3d"/>
<circle class="pt" cx="282.6" cy="449.3" r="3.5" fill="#fa3e3d"/><circle class="pt" cx="287.7" cy="451.4" r="3.5" fill="#fa3e3d"/><circle class="pt" cx="293.2" cy="449.9" r="3.5" fill="#fdaa6e"/><circle class="pt" cx="297" cy="448.4" r="3.5" fill="#fd724e"/>
<circle class="pt" cx="281.7" cy="452.7" r="3.5" fill="#fd724e"/><circle class="pt" cx="291" cy="457.7" r="3.5" fill="#fa3e3d"/><circle class="pt" cx="297.7" cy="460.3" r="3.5" fill="#fa3e3d"/><circle class="pt" cx="297" cy="455.2" r="3.5" fill="#fd724e"/>
<circle class="pt" cx="306.3" cy="461.1" r="3.5" fill="#fa3e3d"/><circle class="pt" cx="311.2" cy="462.4" r="3.5" fill="#fa3e3d"/><circle class="pt" cx="302.9" cy="463.7" r="3.5" fill="#fdaa6e"/><circle class="pt" cx="299.5" cy="463.7" r="3.5" fill="#fecb8b"/>
<circle class="pt" cx="301.6" cy="471.3" r="3.5" fill="#fdaa6e"/><circle class="pt" cx="307.1" cy="470.4" r="3.5" fill="#fa3e3d"/><circle class="pt" cx="293.4" cy="475.1" r="3.5" fill="#fd724e"/><circle class="pt" cx="303.3" cy="475.5" r="3.5" fill="#fd724e"/>
<circle class="pt" cx="310.5" cy="475.5" r="3.5" fill="#fd724e"/><circle class="pt" cx="313.9" cy="481.9" r="3.5" fill="#fd724e"/><circle class="pt" cx="318.1" cy="478.9" r="3.5" fill="#fa3e3d"/><circle class="pt" cx="301" cy="485.3" r="3.5" fill="#fdaa6e"/>
<circle class="pt" cx="320.7" cy="484.8" r="3.5" fill="#fa3e3d"/><circle class="pt" cx="323.2" cy="487.4" r="3.5" fill="#fa3e3d"/><circle class="pt" cx="329.7" cy="492.9" r="3.5" fill="#fdaa6e"/><circle class="pt" cx="322.9" cy="494.6" r="3.5" fill="#fdaa6e"/>
<circle class="pt" cx="318.3" cy="494.1" r="3.5" fill="#fa3e3d"/><circle class="pt" cx="332.3" cy="499.2" r="3.5" fill="#fa3e3d"/><circle class="pt" cx="336.5" cy="499.6" r="3.5" fill="#fa3e3d"/><circle class="pt" cx="313.2" cy="501.3" r="3.5" fill="#fd724e"/>
<circle class="pt" cx="323.4" cy="502.2" r="3.5" fill="#fdaa6e"/><circle class="pt" cx="319.1" cy="504.7" r="3.5" fill="#fa3e3d"/><circle class="pt" cx="325.3" cy="507.3" r="3.5" fill="#fa3e3d"/><circle class="pt" cx="331.6" cy="505.4" r="3.5" fill="#fa3e3d"/>
<circle class="pt" cx="337.3" cy="506" r="3.5" fill="#fd724e"/><circle class="pt" cx="343.3" cy="506.8" r="3.5" fill="#fa3e3d"/><circle class="pt" cx="334.1" cy="510.8" r="3.5" fill="#fa3e3d"/><circle class="pt" cx="321.7" cy="513.6" r="3.5" fill="#fecb8b"/>
<circle class="pt" cx="341.6" cy="514" r="3.5" fill="#fa3e3d"/><circle class="pt" cx="346.2" cy="514.2" r="3.5" fill="#fa3e3d"/><circle class="pt" cx="350" cy="512.3" r="3.5" fill="#fecb8b"/><circle class="pt" cx="357.2" cy="512.8" r="3.5" fill="#fa3e3d"/>
<circle class="pt" cx="335.4" cy="518.1" r="3.5" fill="#a80024"/><circle class="pt" cx="329.7" cy="521.7" r="3.5" fill="#fa3e3d"/><circle class="pt" cx="328.9" cy="526.3" r="3.5" fill="#fa3e3d"/><circle class="pt" cx="341.6" cy="520.8" r="3.5" fill="#fa3e3d"/>
<circle class="pt" cx="354.7" cy="518.3" r="3.5" fill="#fd724e"/><circle class="pt" cx="360.6" cy="520.8" r="3.5" fill="#fa3e3d"/><circle class="pt" cx="347.5" cy="522.1" r="3.5" fill="#fd724e"/><circle class="pt" cx="354.3" cy="523.8" r="3.5" fill="#fa3e3d"/>
<circle class="pt" cx="340.6" cy="525.7" r="3.5" fill="#fffbd8"/><circle class="pt" cx="336.5" cy="529.3" r="3.5" fill="#e31f34"/><circle class="pt" cx="333.5" cy="529.7" r="3.5" fill="#fa3e3d"/><circle class="pt" cx="336.1" cy="534.4" r="3.5" fill="#fecb8b"/>
<circle class="pt" cx="339.9" cy="533.9" r="3.5" fill="#ffe9b1"/><circle class="pt" cx="347.5" cy="526.7" r="3.5" fill="#fd724e"/><circle class="pt" cx="354.3" cy="527.5" r="3.5" fill="#fa3e3d"/><circle class="pt" cx="360.7" cy="527.1" r="3.5" fill="#fa3e3d"/>
<circle class="pt" cx="348.4" cy="533.9" r="3.5" fill="#fecb8b"/><circle class="pt" cx="355.2" cy="532.2" r="3.5" fill="#fa3e3d"/><circle class="pt" cx="361.9" cy="532.6" r="3.5" fill="#fd724e"/><circle class="pt" cx="366.6" cy="536" r="3.5" fill="#fa3e3d"/>
<circle class="pt" cx="379.5" cy="538.4" r="3.5" fill="#fd724e"/><circle class="pt" cx="372.9" cy="536.9" r="3.5" fill="#fa3e3d"/><circle class="pt" cx="385.6" cy="539.4" r="3.5" fill="#fa3e3d"/><circle class="pt" cx="346.7" cy="545.3" r="3.5" fill="#fd724e"/>
<circle class="pt" cx="353.5" cy="541.1" r="3.5" fill="#fa3e3d"/><circle class="pt" cx="359" cy="542.8" r="3.5" fill="#fd724e"/><circle class="pt" cx="365.3" cy="543.2" r="3.5" fill="#fa3e3d"/><circle class="pt" cx="370" cy="540.7" r="3.5" fill="#fd724e"/>
<circle class="pt" cx="372.9" cy="545.3" r="3.5" fill="#fa3e3d"/><circle class="pt" cx="379.7" cy="548" r="3.5" fill="#fa3e3d"/><circle class="pt" cx="384.8" cy="549.1" r="3.5" fill="#e31f34"/><circle class="pt" cx="387.3" cy="543.2" r="3.5" fill="#fa3e3d"/>
<circle class="pt" cx="391.6" cy="546.6" r="3.5" fill="#fa3e3d"/><circle class="pt" cx="397.1" cy="541.9" r="3.5" fill="#e31f34"/><circle class="pt" cx="400.9" cy="544.5" r="3.5" fill="#fa3e3d"/><circle class="pt" cx="404.3" cy="546.2" r="3.5" fill="#fd724e"/>
<circle class="pt" cx="408.1" cy="548.7" r="3.5" fill="#fa3e3d"/><circle class="pt" cx="409.4" cy="543.2" r="3.5" fill="#fa3e3d"/><circle class="pt" cx="416.5" cy="548.3" r="3.5" fill="#fd724e"/><circle class="pt" cx="352.6" cy="548.7" r="3.5" fill="#fd724e"/>
<circle class="pt" cx="355.6" cy="553.4" r="3.5" fill="#fdaa6e"/><circle class="pt" cx="361.9" cy="550.4" r="3.5" fill="#fa3e3d"/><circle class="pt" cx="365.3" cy="551.2" r="3.5" fill="#fa3e3d"/><circle class="pt" cx="369.6" cy="554.6" r="3.5" fill="#fa3e3d"/>
<circle class="pt" cx="373.8" cy="552.9" r="3.5" fill="#fa3e3d"/><circle class="pt" cx="378.9" cy="552.1" r="3.5" fill="#fa3e3d"/><circle class="pt" cx="361.1" cy="557.2" r="3.5" fill="#fd724e"/><circle class="pt" cx="367.9" cy="560.1" r="3.5" fill="#fd724e"/>
<circle class="pt" cx="361.5" cy="561.4" r="3.5" fill="#e31f34"/><circle class="pt" cx="374.6" cy="557.2" r="3.5" fill="#fa3e3d"/><circle class="pt" cx="381.4" cy="556.3" r="3.5" fill="#fd724e"/><circle class="pt" cx="385.6" cy="556.8" r="3.5" fill="#fa3e3d"/>
<circle class="pt" cx="395" cy="556.8" r="3.5" fill="#fecb8b"/><circle class="pt" cx="395.8" cy="552.9" r="3.5" fill="#ffe9b1"/><circle class="pt" cx="399.2" cy="553.8" r="3.5" fill="#fecb8b"/><circle class="pt" cx="389" cy="556.3" r="3.5" fill="#fecb8b"/>
<circle class="pt" cx="417.8" cy="557.2" r="3.5" fill="#fecb8b"/><circle class="pt" cx="419.5" cy="559.7" r="3.5" fill="#ffe9b1"/><circle class="pt" cx="417" cy="554.2" r="3.5" fill="#ffe9b1"/><circle class="pt" cx="426.3" cy="551.2" r="3.5" fill="#fa3e3d"/>
<circle class="pt" cx="430.5" cy="551.2" r="3.5" fill="#fecb8b"/><circle class="pt" cx="428" cy="557.6" r="3.5" fill="#fdaa6e"/><circle class="pt" cx="434.8" cy="552.9" r="3.5" fill="#fdaa6e"/><circle class="pt" cx="440.7" cy="552.9" r="3.5" fill="#fa3e3d"/>
<circle class="pt" cx="438.1" cy="556.3" r="3.5" fill="#fa3e3d"/><circle class="pt" cx="379.3" cy="562.3" r="3.5" fill="#fecb8b"/><circle class="pt" cx="385.6" cy="561.4" r="3.5" fill="#fa3e3d"/><circle class="pt" cx="391.6" cy="563.1" r="3.5" fill="#fa3e3d"/>
<circle class="pt" cx="376.8" cy="566.5" r="3.5" fill="#fd724e"/><circle class="pt" cx="382.3" cy="566.5" r="3.5" fill="#fa3e3d"/><circle class="pt" cx="364.6" cy="567.2" r="3.5" fill="#fffbd8"/><circle class="pt" cx="388.6" cy="570.3" r="3.5" fill="#fa3e3d"/>
<circle class="pt" cx="396.2" cy="565.5" r="3.5" fill="#ffe9b1"/><circle class="pt" cx="407.2" cy="565.6" r="3.5" fill="#b1f2ff"/><circle class="pt" cx="408.9" cy="562" r="3.5" fill="#fa3e3d"/><circle class="pt" cx="414" cy="565.2" r="3.5" fill="#fdffff"/>
<circle class="pt" cx="406.4" cy="569.5" r="3.5" fill="#fecb8b"/><circle class="pt" cx="400.5" cy="572" r="3.5" fill="#fd724e"/><circle class="pt" cx="394.1" cy="572" r="3.5" fill="#ffe9b1"/><circle class="pt" cx="419.1" cy="568.6" r="3.5" fill="#ffe9b1"/>
<circle class="pt" cx="414.4" cy="572" r="3.5" fill="#fecb8b"/><circle class="pt" cx="412.7" cy="569.9" r="3.5" fill="#ffe9b1"/><circle class="pt" cx="425.9" cy="573.1" r="3.5" fill="#ffe9b1"/><circle class="pt" cx="418.7" cy="574.1" r="3.5" fill="#fffbd8"/>
<circle class="pt" cx="408.5" cy="575" r="3.5" fill="#fdaa6e"/><circle class="pt" cx="403.4" cy="574.1" r="3.5" fill="#fa3e3d"/><circle class="pt" cx="436.4" cy="562.3" r="3.5" fill="#fdaa6e"/><circle class="pt" cx="441.5" cy="561.4" r="3.5" fill="#fecb8b"/>
<circle class="pt" cx="443.6" cy="560.6" r="3.5" fill="#fdaa6e"/><circle class="pt" cx="426.3" cy="567.3" r="3.5" fill="#fecb8b"/><circle class="pt" cx="431.4" cy="565.2" r="3.5" fill="#fdaa6e"/><circle class="pt" cx="434.3" cy="568.6" r="3.5" fill="#fdaa6e"/>
<circle class="pt" cx="440.7" cy="568.9" r="3.5" fill="#ffe9b1"/><circle class="pt" cx="371.1" cy="576.2" r="3.5" fill="#fdaa6e"/><circle class="pt" cx="373.6" cy="582.2" r="3.5" fill="#fecb8b"/><circle class="pt" cx="384" cy="581.1" r="3.5" fill="#ffe9b1"/>
<circle class="pt" cx="393.3" cy="578.3" r="3.5" fill="#fffbd8"/><circle class="pt" cx="396.4" cy="578.3" r="3.5" fill="#fecb8b"/><circle class="pt" cx="401.9" cy="577.5" r="3.5" fill="#e31f34"/><circle class="pt" cx="408.1" cy="578.3" r="3.5" fill="#ffe9b1"/>
<circle class="pt" cx="417.8" cy="578.8" r="3.5" fill="#fffbd8"/><circle class="pt" cx="414" cy="580.9" r="3.5" fill="#fffbd8"/><circle class="pt" cx="399.2" cy="584.3" r="3.5" fill="#fd724e"/><circle class="pt" cx="404.3" cy="583.4" r="3.5" fill="#ffe9b1"/>
<circle class="pt" cx="407.7" cy="584.3" r="3.5" fill="#ffe9b1"/><circle class="pt" cx="419.5" cy="584.7" r="3.5" fill="#ffe9b1"/><circle class="pt" cx="439" cy="578.5" r="3.5" fill="#ffe9b1"/><circle class="pt" cx="444.5" cy="580" r="3.5" fill="#d6fcff"/>
<circle class="pt" cx="393.3" cy="588.7" r="3.5" fill="#fffbd8"/><circle class="pt" cx="387.6" cy="592.1" r="3.5" fill="#e31f34"/><circle class="pt" cx="390.3" cy="594.4" r="3.5" fill="#ffe9b1"/><circle class="pt" cx="403.4" cy="596.5" r="3.5" fill="#fecb8b"/>
<circle class="pt" cx="416.8" cy="594" r="3.5" fill="#fecb8b"/><circle class="pt" cx="414" cy="594" r="3.5" fill="#ffe9b1"/><circle class="pt" cx="416" cy="600.5" r="3.5" fill="#fa3e3d"/><circle class="pt" cx="402.6" cy="603.3" r="3.5" fill="#ffe9b1"/>
<circle class="pt" cx="413.2" cy="605.4" r="3.5" fill="#fecb8b"/><circle class="pt" cx="416.1" cy="610.9" r="3.5" fill="#fffbd8"/><circle class="pt" cx="427.1" cy="597" r="3.5" fill="#fdffff"/><circle class="pt" cx="430.1" cy="594.4" r="3.5" fill="#fdffff"/>
<circle class="pt" cx="432.2" cy="595.7" r="3.5" fill="#fecb8b"/><circle class="pt" cx="438.1" cy="592.7" r="3.5" fill="#fecb8b"/><circle class="pt" cx="441.5" cy="591.5" r="3.5" fill="#ffe9b1"/><circle class="pt" cx="440.7" cy="587.7" r="3.5" fill="#ffe9b1"/>
<circle class="pt" cx="441.5" cy="599.9" r="3.5" fill="#ffe9b1"/><circle class="pt" cx="440.7" cy="604.6" r="3.5" fill="#fecb8b"/><circle class="pt" cx="438.1" cy="608" r="3.5" fill="#ffe9b1"/><circle class="pt" cx="439.4" cy="612.2" r="3.5" fill="#fffbd8"/>
<circle class="pt" cx="444.1" cy="612.2" r="3.5" fill="#fecb8b"/><circle class="pt" cx="426.5" cy="614.3" r="3.5" fill="#fffbd8"/><circle class="pt" cx="410.4" cy="620.3" r="3.5" fill="#d6fcff"/><circle class="pt" cx="419.1" cy="618.6" r="3.5" fill="#d6fcff"/>
<circle class="pt" cx="424.2" cy="619" r="3.5" fill="#d6fcff"/><circle class="pt" cx="439" cy="616.9" r="3.5" fill="#d6fcff"/><circle class="pt" cx="439.4" cy="620.3" r="3.5" fill="#b1f2ff"/><circle class="pt" cx="446.4" cy="560.8" r="3.5" fill="#fdaa6e"/>
<circle class="pt" cx="450.9" cy="565.9" r="3.5" fill="#fdaa6e"/><circle class="pt" cx="458.9" cy="563.4" r="3.5" fill="#fa3e3d"/><circle class="pt" cx="463.4" cy="565.1" r="3.5" fill="#fd724e"/><circle class="pt" cx="460.4" cy="569.7" r="3.5" fill="#fd724e"/>
<circle class="pt" cx="464.2" cy="573.5" r="3.5" fill="#fffbd8"/><circle class="pt" cx="468.9" cy="572.3" r="3.5" fill="#fffbd8"/><circle class="pt" cx="472.8" cy="577.3" r="3.5" fill="#fdaa6e"/><circle class="pt" cx="462.7" cy="579.2" r="3.5" fill="#fdaa6e"/>
<circle class="pt" cx="453.2" cy="581.4" r="3.5" fill="#ffe9b1"/><circle class="pt" cx="457.2" cy="582" r="3.5" fill="#ffe9b1"/><circle class="pt" cx="446.4" cy="579" r="3.5" fill="#b1f2ff"/><circle class="pt" cx="449.4" cy="576.5" r="3.5" fill="#b1f2ff"/>
<circle class="pt" cx="467" cy="584.8" r="3.5" fill="#ffe9b1"/><circle class="pt" cx="482.6" cy="573.5" r="3.5" fill="#e31f34"/><circle class="pt" cx="486.2" cy="578.2" r="3.5" fill="#fa3e3d"/><circle class="pt" cx="474.4" cy="590.5" r="3.5" fill="#ffe9b1"/>
<circle class="pt" cx="478.6" cy="590.5" r="3.5" fill="#fffbd8"/><circle class="pt" cx="485.6" cy="590.9" r="3.5" fill="#fecb8b"/><circle class="pt" cx="456" cy="594.7" r="3.5" fill="#fdaa6e"/><circle class="pt" cx="457.9" cy="598.9" r="3.5" fill="#fdaa6e"/>
<circle class="pt" cx="463.8" cy="596.4" r="3.5" fill="#ffe9b1"/><circle class="pt" cx="451.5" cy="600.2" r="3.5" fill="#ffe9b1"/><circle class="pt" cx="462.5" cy="603.2" r="3.5" fill="#fecb8b"/><circle class="pt" cx="467.6" cy="602.3" r="3.5" fill="#fffbd8"/>
<circle class="pt" cx="451.9" cy="607.4" r="3.5" fill="#fdffff"/><circle class="pt" cx="456.2" cy="601.9" r="3.5" fill="#ffe9b1"/><circle class="pt" cx="418.1" cy="629.6" r="3.5" fill="#fffbd8"/><circle class="pt" cx="438.4" cy="630.1" r="3.5" fill="#fffbd8"/>
<circle class="pt" cx="441.8" cy="632.6" r="3.5" fill="#fffbd8"/><circle class="pt" cx="431.2" cy="636.8" r="3.5" fill="#b1f2ff"/><circle class="pt" cx="428.4" cy="640.6" r="3.5" fill="#b1f2ff"/>
<rect class="lgb" x="362.5" y="86.1" width="148.7" height="295.1"/>
<text class="lgt" transform="translate(384.3 135) scale(1 1)">ARS</text>
<text class="lgt" transform="translate(383.6 168.8) scale(1 0.985)">lkhd</text>
<rect x="383.9" y="190" width="28.5" height="169.8" fill="url(#ars)"/>
<path class="ct" d="M383.9 194.2h5.7M412.4 194.2h-5.7"/><text class="lgt" transform="translate(427.6 205.1) scale(1 0.985)">1.00</text>
<path class="ct" d="M383.9 235.9h5.7M412.4 235.9h-5.7"/><text class="lgt" transform="translate(427.6 246.2) scale(1 0.985)">0.75</text>
<path class="ct" d="M383.9 277h5.7M412.4 277h-5.7"/><text class="lgt" transform="translate(427.6 287.3) scale(1 0.985)">0.50</text>
<path class="ct" d="M383.9 318.7h5.7M412.4 318.7h-5.7"/><text class="lgt" transform="translate(427.6 329.4) scale(1 0.985)">0.25</text>
</g>
<rect class="bd" x="140.7" y="74.9" width="379.1" height="589.1"/>
<path class="tkl" d="M140.7 195.3h-11.6"/><text class="tk" transform="translate(120.5 209.8) scale(1 1)" text-anchor="end">45</text>
<path class="tkl" d="M140.7 357.1h-11.6"/><text class="tk" transform="translate(120.5 371.4) scale(1 1)" text-anchor="end">40</text>
<path class="tkl" d="M140.7 519h-11.6"/><text class="tk" transform="translate(120.5 533.4) scale(1 1)" text-anchor="end">35</text>
<path class="tkl" d="M196.8 664v11.6"/><text class="tk" transform="translate(197.3 713.1) scale(1 1)" text-anchor="middle">-125</text>
<path class="tkl" d="M387 664v11.6"/><text class="tk" transform="translate(387.5 713.1) scale(1 1)" text-anchor="middle">-120</text>
<text class="ax" transform="translate(330.2 761.3) scale(1 1.035)">Longitude (°W)</text>
<text class="ax" transform="translate(48 369.3) rotate(-90) scale(1 1.035)">Latitude (°N)</text>
</g>
<g id="panel-b" transform="translate(657.9 0)">
<text class="lab" transform="translate(22 41.9) scale(1 0.97)">b</text>
<text class="ttl" transform="translate(330.2 42.2) scale(1 1.035)"><tspan dy="3.4">+</tspan><tspan dy="-3.4">NPGO Class. Error</tspan></text>
<g clip-path="url(#clip)">
<use href="#basemap"/>
<circle class="pt" cx="388.2" cy="566.2" r="3.5" fill="#0b72b6"/><circle class="pt" cx="219" cy="318.1" r="3.5" fill="#0b72b6"/><circle class="pt" cx="429.6" cy="561.9" r="3.5" fill="#0cf40c"/><circle class="pt" cx="391.5" cy="554.7" r="3.5" fill="#0cf40c"/>
<circle class="pt" cx="357" cy="539.5" r="3.5" fill="#d85e08"/><circle class="pt" cx="439.7" cy="565" r="3.5" fill="#f3e646"/><circle class="pt" cx="256.6" cy="418.9" r="3.5" fill="#0b72b6"/><circle class="pt" cx="217.3" cy="300.2" r="3.5" fill="#d85e08"/>
<circle class="pt" cx="363.2" cy="562.5" r="3.5" fill="#0b72b6"/><circle class="pt" cx="406.5" cy="578.9" r="3.5" fill="#f3e646"/><circle class="pt" cx="440" cy="557.6" r="3.5" fill="#0b72b6"/><circle class="pt" cx="435.8" cy="561.5" r="3.5" fill="#f3e646"/>
<circle class="pt" cx="399.1" cy="572.5" r="3.5" fill="#0cf40c"/><circle class="pt" cx="440.9" cy="560.8" r="3.5" fill="#f3e646"/><circle class="pt" cx="378.8" cy="556.6" r="3.5" fill="#d85e08"/><circle class="pt" cx="401.6" cy="547.4" r="3.5" fill="#d85e08"/>
<circle class="pt" cx="287.8" cy="451.1" r="3.5" fill="#0b72b6"/><circle class="pt" cx="222.5" cy="319.5" r="3.5" fill="#f3e646"/><circle class="pt" cx="391.3" cy="540.7" r="3.5" fill="#0b72b6"/><circle class="pt" cx="319.9" cy="485.1" r="3.5" fill="#d85e08"/>
<circle class="pt" cx="333.3" cy="498.4" r="3.5" fill="#d85e08"/><circle class="pt" cx="284.8" cy="434.2" r="3.5" fill="#f3e646"/><circle class="pt" cx="377.1" cy="550.4" r="3.5" fill="#0b72b6"/><circle class="pt" cx="263" cy="427.9" r="3.5" fill="#f3e646"/>
<circle class="pt" cx="385.7" cy="549.7" r="3.5" fill="#0b72b6"/><circle class="pt" cx="348.9" cy="528.5" r="3.5" fill="#0b72b6"/><circle class="pt" cx="352.9" cy="514.4" r="3.5" fill="#0cf40c"/><circle class="pt" cx="254.9" cy="416.1" r="3.5" fill="#0b72b6"/>
<circle class="pt" cx="214.5" cy="292.7" r="3.5" fill="#0cf40c"/><circle class="pt" cx="318.3" cy="499" r="3.5" fill="#d85e08"/><circle class="pt" cx="278.8" cy="446.8" r="3.5" fill="#0b72b6"/><circle class="pt" cx="362.7" cy="554.2" r="3.5" fill="#0b72b6"/>
<circle class="pt" cx="405.7" cy="582.5" r="3.5" fill="#f3e646"/><circle class="pt" cx="391.3" cy="556.8" r="3.5" fill="#f3e646"/><circle class="pt" cx="313.1" cy="478.3" r="3.5" fill="#d85e08"/><circle class="pt" cx="265" cy="416.3" r="3.5" fill="#0b72b6"/>
<circle class="pt" cx="376" cy="566" r="3.5" fill="#0cf40c"/><circle class="pt" cx="410.7" cy="547.1" r="3.5" fill="#f3e646"/><circle class="pt" cx="257.3" cy="424.7" r="3.5" fill="#0b72b6"/><circle class="pt" cx="391.3" cy="543.3" r="3.5" fill="#f3e646"/>
<circle class="pt" cx="260.8" cy="414.1" r="3.5" fill="#0b72b6"/><circle class="pt" cx="211.9" cy="288.3" r="3.5" fill="#0b72b6"/><circle class="pt" cx="389" cy="540.5" r="3.5" fill="#0b72b6"/><circle class="pt" cx="348.7" cy="535" r="3.5" fill="#d85e08"/>
<circle class="pt" cx="252.6" cy="406.4" r="3.5" fill="#0b72b6"/><circle class="pt" cx="369.8" cy="551.5" r="3.5" fill="#d85e08"/><circle class="pt" cx="220.6" cy="340.2" r="3.5" fill="#d85e08"/><circle class="pt" cx="276.8" cy="426" r="3.5" fill="#d85e08"/>
<circle class="pt" cx="360.9" cy="534.8" r="3.5" fill="#f3e646"/><circle class="pt" cx="415.6" cy="580.5" r="3.5" fill="#f3e646"/><circle class="pt" cx="386.9" cy="557.6" r="3.5" fill="#f3e646"/><circle class="pt" cx="201.6" cy="224.8" r="3.5" fill="#0b72b6"/>
<circle class="pt" cx="249.2" cy="410.9" r="3.5" fill="#d85e08"/><circle class="pt" cx="220.6" cy="298" r="3.5" fill="#f3e646"/><circle class="pt" cx="372" cy="557.5" r="3.5" fill="#0cf40c"/><circle class="pt" cx="381.3" cy="550.4" r="3.5" fill="#0b72b6"/>
<circle class="pt" cx="242.7" cy="397.5" r="3.5" fill="#f3e646"/><circle class="pt" cx="333" cy="502" r="3.5" fill="#d85e08"/><circle class="pt" cx="215.5" cy="305.3" r="3.5" fill="#f3e646"/><circle class="pt" cx="372.6" cy="562.8" r="3.5" fill="#d85e08"/>
<circle class="pt" cx="355.5" cy="535.9" r="3.5" fill="#d85e08"/><circle class="pt" cx="359.6" cy="519.9" r="3.5" fill="#0cf40c"/><circle class="pt" cx="436.4" cy="554.8" r="3.5" fill="#0b72b6"/><circle class="pt" cx="206.8" cy="227.1" r="3.5" fill="#f3e646"/>
<circle class="pt" cx="267.5" cy="425.4" r="3.5" fill="#f3e646"/><circle class="pt" cx="245.1" cy="393.7" r="3.5" fill="#f3e646"/><circle class="pt" cx="409.5" cy="583" r="3.5" fill="#f3e646"/><circle class="pt" cx="387.6" cy="541.1" r="3.5" fill="#0b72b6"/>
<circle class="pt" cx="417.6" cy="580.2" r="3.5" fill="#f3e646"/><circle class="pt" cx="281.7" cy="438.5" r="3.5" fill="#f3e646"/><circle class="pt" cx="238.3" cy="393.8" r="3.5" fill="#f3e646"/><circle class="pt" cx="203" cy="261" r="3.5" fill="#0b72b6"/>
<circle class="pt" cx="350.8" cy="548.5" r="3.5" fill="#f3e646"/><circle class="pt" cx="317.7" cy="480.3" r="3.5" fill="#d85e08"/><circle class="pt" cx="384.9" cy="541.6" r="3.5" fill="#f3e646"/><circle class="pt" cx="269.5" cy="434.2" r="3.5" fill="#f3e646"/>
<circle class="pt" cx="368.3" cy="547.8" r="3.5" fill="#f3e646"/><circle class="pt" cx="270.3" cy="442.1" r="3.5" fill="#f3e646"/><circle class="pt" cx="350.4" cy="542.6" r="3.5" fill="#0b72b6"/><circle class="pt" cx="275.7" cy="441.7" r="3.5" fill="#f3e646"/>
<circle class="pt" cx="263.7" cy="434.2" r="3.5" fill="#f3e646"/><circle class="pt" cx="217.5" cy="230.9" r="3.5" fill="#d85e08"/><circle class="pt" cx="356.5" cy="520.4" r="3.5" fill="#0cf40c"/><circle class="pt" cx="359.5" cy="549.3" r="3.5" fill="#0cf40c"/>
<circle class="pt" cx="278.4" cy="451" r="3.5" fill="#0b72b6"/><circle class="pt" cx="282.3" cy="448.5" r="3.5" fill="#f3e646"/><circle class="pt" cx="225.2" cy="316" r="3.5" fill="#f3e646"/><circle class="pt" cx="407.7" cy="545.8" r="3.5" fill="#d85e08"/>
<circle class="pt" cx="255.5" cy="408.2" r="3.5" fill="#f3e646"/><circle class="pt" cx="248.2" cy="416.4" r="3.5" fill="#0b72b6"/><circle class="pt" cx="359.3" cy="528.4" r="3.5" fill="#d85e08"/><circle class="pt" cx="372.1" cy="554.3" r="3.5" fill="#d85e08"/>
<circle class="pt" cx="401" cy="542.9" r="3.5" fill="#d85e08"/><circle class="pt" cx="378.5" cy="547.1" r="3.5" fill="#0b72b6"/><circle class="pt" cx="259.8" cy="429.3" r="3.5" fill="#f3e646"/><circle class="pt" cx="412.5" cy="582" r="3.5" fill="#f3e646"/>
<circle class="pt" cx="434.2" cy="564.8" r="3.5" fill="#f3e646"/><circle class="pt" cx="241.6" cy="404.1" r="3.5" fill="#f3e646"/><circle class="pt" cx="354.2" cy="523" r="3.5" fill="#0b72b6"/><circle class="pt" cx="327" cy="501" r="3.5" fill="#0cf40c"/>
<circle class="pt" cx="303.9" cy="474.7" r="3.5" fill="#0cf40c"/><circle class="pt" cx="384.3" cy="544.1" r="3.5" fill="#0b72b6"/><circle class="pt" cx="365.9" cy="553.4" r="3.5" fill="#0b72b6"/><circle class="pt" cx="277.3" cy="439.1" r="3.5" fill="#f3e646"/>
<circle class="pt" cx="370" cy="541.3" r="3.5" fill="#f3e646"/><circle class="pt" cx="374" cy="562.4" r="3.5" fill="#d85e08"/><circle class="pt" cx="206.6" cy="272.9" r="3.5" fill="#0cf40c"/><circle class="pt" cx="231.5" cy="369.1" r="3.5" fill="#0cf40c"/>
<circle class="pt" cx="381.4" cy="540.1" r="3.5" fill="#f3e646"/><circle class="pt" cx="399" cy="576.8" r="3.5" fill="#0cf40c"/><circle class="pt" cx="245.8" cy="400" r="3.5" fill="#f3e646"/><circle class="pt" cx="316.4" cy="477.3" r="3.5" fill="#0cf40c"/>
<circle class="pt" cx="362.6" cy="542.9" r="3.5" fill="#0b72b6"/><circle class="pt" cx="341.8" cy="515.8" r="3.5" fill="#d85e08"/><circle class="pt" cx="314.9" cy="480.2" r="3.5" fill="#0cf40c"/><circle class="pt" cx="252.4" cy="403.4" r="3.5" fill="#d85e08"/>
<circle class="pt" cx="269.1" cy="444.3" r="3.5" fill="#d85e08"/><circle class="pt" cx="399" cy="582" r="3.5" fill="#0b72b6"/><circle class="pt" cx="353.2" cy="540.4" r="3.5" fill="#0b72b6"/><circle class="pt" cx="255.3" cy="429.8" r="3.5" fill="#0b72b6"/>
<circle class="pt" cx="345" cy="519.5" r="3.5" fill="#0cf40c"/><circle class="pt" cx="363.7" cy="552.3" r="3.5" fill="#0b72b6"/><circle class="pt" cx="385" cy="565.9" r="3.5" fill="#0b72b6"/><circle class="pt" cx="363.7" cy="532.2" r="3.5" fill="#d85e08"/>
<circle class="pt" cx="259.8" cy="430.9" r="3.5" fill="#f3e646"/><circle class="pt" cx="284.8" cy="442.1" r="3.5" fill="#f3e646"/><circle class="pt" cx="275.9" cy="447.2" r="3.5" fill="#0b72b6"/><circle class="pt" cx="204.1" cy="263.2" r="3.5" fill="#f3e646"/>
<circle class="pt" cx="417.6" cy="575.9" r="3.5" fill="#f3e646"/><circle class="pt" cx="350" cy="517.4" r="3.5" fill="#f3e646"/><circle class="pt" cx="372.2" cy="555.8" r="3.5" fill="#d85e08"/><circle class="pt" cx="250.5" cy="421.7" r="3.5" fill="#0b72b6"/>
<circle class="pt" cx="284.5" cy="444.7" r="3.5" fill="#0b72b6"/><circle class="pt" cx="242.4" cy="407.5" r="3.5" fill="#f3e646"/><circle class="pt" cx="215.7" cy="334.7" r="3.5" fill="#d85e08"/><circle class="pt" cx="258.5" cy="431.1" r="3.5" fill="#0b72b6"/>
<circle class="pt" cx="218" cy="337.3" r="3.5" fill="#d85e08"/><circle class="pt" cx="213.4" cy="224.2" r="3.5" fill="#0b72b6"/><circle class="pt" cx="295.1" cy="450.6" r="3.5" fill="#0b72b6"/><circle class="pt" cx="375.3" cy="543" r="3.5" fill="#f3e646"/>
<circle class="pt" cx="397.1" cy="582.1" r="3.5" fill="#f3e646"/><circle class="pt" cx="369.5" cy="563.3" r="3.5" fill="#0cf40c"/><circle class="pt" cx="297.6" cy="457.2" r="3.5" fill="#0b72b6"/><circle class="pt" cx="262.9" cy="423.4" r="3.5" fill="#0b72b6"/>
<circle class="pt" cx="211.4" cy="290.9" r="3.5" fill="#0b72b6"/><circle class="pt" cx="260.2" cy="407.9" r="3.5" fill="#0b72b6"/><circle class="pt" cx="253.9" cy="409.4" r="3.5" fill="#f3e646"/><circle class="pt" cx="210.6" cy="297.1" r="3.5" fill="#f3e646"/>
<circle class="pt" cx="367.3" cy="556" r="3.5" fill="#0cf40c"/><circle class="pt" cx="338.7" cy="523.5" r="3.5" fill="#d85e08"/><circle class="pt" cx="356.5" cy="523.4" r="3.5" fill="#0b72b6"/><circle class="pt" cx="379.8" cy="544.7" r="3.5" fill="#0b72b6"/>
<circle class="pt" cx="375.6" cy="557.9" r="3.5" fill="#d85e08"/><circle class="pt" cx="321.8" cy="500.9" r="3.5" fill="#0cf40c"/><circle class="pt" cx="257.5" cy="406.5" r="3.5" fill="#0b72b6"/><circle class="pt" cx="351" cy="529.1" r="3.5" fill="#0b72b6"/>
<circle class="pt" cx="210.1" cy="284.9" r="3.5" fill="#0b72b6"/><circle class="pt" cx="231" cy="365" r="3.5" fill="#0cf40c"/><circle class="pt" cx="329.5" cy="503.2" r="3.5" fill="#d85e08"/><circle class="pt" cx="387.5" cy="547.1" r="3.5" fill="#f3e646"/>
<circle class="pt" cx="253.7" cy="422.1" r="3.5" fill="#0b72b6"/><circle class="pt" cx="292" cy="454.1" r="3.5" fill="#d85e08"/><circle class="pt" cx="216.7" cy="333.1" r="3.5" fill="#f3e646"/><circle class="pt" cx="360.4" cy="535.7" r="3.5" fill="#f3e646"/>
<circle class="pt" cx="375.5" cy="551.7" r="3.5" fill="#0b72b6"/><circle class="pt" cx="378.5" cy="541.4" r="3.5" fill="#f3e646"/><circle class="pt" cx="427.8" cy="555.4" r="3.5" fill="#0cf40c"/><circle class="pt" cx="208.7" cy="247.8" r="3.5" fill="#f3e646"/>
<circle class="pt" cx="356.6" cy="540" r="3.5" fill="#0b72b6"/><circle class="pt" cx="411.8" cy="579" r="3.5" fill="#f3e646"/><circle class="pt" cx="217.2" cy="289.5" r="3.5" fill="#f3e646"/><circle class="pt" cx="376.7" cy="545.8" r="3.5" fill="#0b72b6"/>
<circle class="pt" cx="436" cy="567.1" r="3.5" fill="#0cf40c"/><circle class="pt" cx="361" cy="553.9" r="3.5" fill="#0b72b6"/><circle class="pt" cx="348.3" cy="532.6" r="3.5" fill="#f3e646"/><circle class="pt" cx="378.1" cy="549" r="3.5" fill="#d85e08"/>
<circle class="pt" cx="368.9" cy="556.8" r="3.5" fill="#0cf40c"/><circle class="pt" cx="221.1" cy="309.5" r="3.5" fill="#d85e08"/><circle class="pt" cx="330.1" cy="501.7" r="3.5" fill="#0cf40c"/><circle class="pt" cx="363.9" cy="539.7" r="3.5" fill="#0cf40c"/>
<circle class="pt" cx="280.2" cy="443.7" r="3.5" fill="#0b72b6"/><circle class="pt" cx="348" cy="542.7" r="3.5" fill="#f3e646"/><circle class="pt" cx="337.8" cy="527" r="3.5" fill="#0cf40c"/><circle class="pt" cx="295.3" cy="452.6" r="3.5" fill="#0b72b6"/>
<circle class="pt" cx="243.5" cy="389.2" r="3.5" fill="#f3e646"/><circle class="pt" cx="341.2" cy="523.5" r="3.5" fill="#d85e08"/><circle class="pt" cx="334.4" cy="505" r="3.5" fill="#0cf40c"/><circle class="pt" cx="376.1" cy="564.3" r="3.5" fill="#0cf40c"/>
<circle class="pt" cx="366.6" cy="544.4" r="3.5" fill="#f3e646"/><circle class="pt" cx="242.2" cy="395.5" r="3.5" fill="#f3e646"/><circle class="pt" cx="390.4" cy="551" r="3.5" fill="#f3e646"/><circle class="pt" cx="382.7" cy="549.9" r="3.5" fill="#0b72b6"/>
<circle class="pt" cx="381.5" cy="561.8" r="3.5" fill="#d85e08"/><circle class="pt" cx="370.3" cy="555.1" r="3.5" fill="#d85e08"/><circle class="pt" cx="351.7" cy="533.4" r="3.5" fill="#0b72b6"/><circle class="pt" cx="320" cy="491.9" r="3.5" fill="#d85e08"/>
<circle class="pt" cx="248.5" cy="401.8" r="3.5" fill="#0b72b6"/><circle class="pt" cx="300.4" cy="456.6" r="3.5" fill="#d85e08"/><circle class="pt" cx="241.2" cy="389.5" r="3.5" fill="#f3e646"/><circle class="pt" cx="251.1" cy="397.7" r="3.5" fill="#0b72b6"/>
<circle class="pt" cx="227.3" cy="319" r="3.5" fill="#f3e646"/><circle class="pt" cx="235.4" cy="385.9" r="3.5" fill="#f3e646"/><circle class="pt" cx="359.6" cy="538.9" r="3.5" fill="#f3e646"/><circle class="pt" cx="366.2" cy="547.2" r="3.5" fill="#0b72b6"/>
<circle class="pt" cx="315.7" cy="479.3" r="3.5" fill="#0cf40c"/><circle class="pt" cx="247.8" cy="398.6" r="3.5" fill="#f3e646"/><circle class="pt" cx="347.4" cy="525.7" r="3.5" fill="#0cf40c"/><circle class="pt" cx="310.6" cy="474.5" r="3.5" fill="#0cf40c"/>
<circle class="pt" cx="372.4" cy="539.8" r="3.5" fill="#0b72b6"/><circle class="pt" cx="286.5" cy="450.4" r="3.5" fill="#0b72b6"/><circle class="pt" cx="224.5" cy="308.2" r="3.5" fill="#f3e646"/><circle class="pt" cx="270.2" cy="439.1" r="3.5" fill="#f3e646"/>
<circle class="pt" cx="383.1" cy="558.1" r="3.5" fill="#d85e08"/><circle class="pt" cx="389" cy="548.9" r="3.5" fill="#f3e646"/><circle class="pt" cx="220.8" cy="306.1" r="3.5" fill="#d85e08"/><circle class="pt" cx="221.2" cy="316.1" r="3.5" fill="#f3e646"/>
<circle class="pt" cx="267.3" cy="440.4" r="3.5" fill="#f3e646"/><circle class="pt" cx="217.6" cy="353.6" r="3.5" fill="#0b72b6"/><circle class="pt" cx="368.1" cy="538.3" r="3.5" fill="#f3e646"/><circle class="pt" cx="273.8" cy="431.3" r="3.5" fill="#0b72b6"/>
<circle class="pt" cx="206.8" cy="266.4" r="3.5" fill="#f3e646"/><circle class="pt" cx="335.5" cy="508.1" r="3.5" fill="#0cf40c"/><circle class="pt" cx="224.6" cy="319" r="3.5" fill="#f3e646"/><circle class="pt" cx="385.8" cy="561.1" r="3.5" fill="#f3e646"/>
<circle class="pt" cx="279" cy="431.1" r="3.5" fill="#f3e646"/><circle class="pt" cx="234.1" cy="365.6" r="3.5" fill="#0cf40c"/><circle class="pt" cx="359.9" cy="550.7" r="3.5" fill="#0b72b6"/><circle class="pt" cx="363" cy="550.6" r="3.5" fill="#0b72b6"/>
<circle class="pt" cx="282.2" cy="435.6" r="3.5" fill="#f3e646"/><circle class="pt" cx="375.1" cy="541" r="3.5" fill="#f3e646"/><circle class="pt" cx="354.4" cy="532.6" r="3.5" fill="#0cf40c"/><circle class="pt" cx="359.4" cy="542.9" r="3.5" fill="#f3e646"/>
<circle class="pt" cx="216.5" cy="292.6" r="3.5" fill="#0b72b6"/><circle class="pt" cx="239.4" cy="395.6" r="3.5" fill="#f3e646"/><circle class="pt" cx="263.9" cy="426.7" r="3.5" fill="#0b72b6"/><circle class="pt" cx="381.2" cy="553.9" r="3.5" fill="#0b72b6"/>
<circle class="pt" cx="384" cy="538.3" r="3.5" fill="#0b72b6"/><circle class="pt" cx="415.4" cy="577.3" r="3.5" fill="#f3e646"/><circle class="pt" cx="266.4" cy="437.4" r="3.5" fill="#f3e646"/><circle class="pt" cx="250.8" cy="419.7" r="3.5" fill="#f3e646"/>
<circle class="pt" cx="317.2" cy="486.6" r="3.5" fill="#d85e08"/><circle class="pt" cx="321.1" cy="488.7" r="3.5" fill="#d85e08"/><circle class="pt" cx="371.3" cy="542.7" r="3.5" fill="#f3e646"/><circle class="pt" cx="363.4" cy="558.9" r="3.5" fill="#0b72b6"/>
<circle class="pt" cx="285.2" cy="446.5" r="3.5" fill="#0b72b6"/><circle class="pt" cx="221.4" cy="322.4" r="3.5" fill="#f3e646"/><circle class="pt" cx="403.5" cy="573.3" r="3.5" fill="#0cf40c"/><circle class="pt" cx="382.7" cy="543.9" r="3.5" fill="#0b72b6"/>
<circle class="pt" cx="279.9" cy="440.4" r="3.5" fill="#f3e646"/><circle class="pt" cx="352.2" cy="542.7" r="3.5" fill="#0b72b6"/><circle class="pt" cx="367.2" cy="561.6" r="3.5" fill="#f3e646"/><circle class="pt" cx="366" cy="536.5" r="3.5" fill="#f3e646"/>
<circle class="pt" cx="372.7" cy="537.5" r="3.5" fill="#0cf40c"/><circle class="pt" cx="208.5" cy="224.3" r="3.5" fill="#0b72b6"/><circle class="pt" cx="402" cy="580.5" r="3.5" fill="#0b72b6"/><circle class="pt" cx="252.4" cy="400.8" r="3.5" fill="#0b72b6"/>
<circle class="pt" cx="302.4" cy="456.7" r="3.5" fill="#d85e08"/><circle class="pt" cx="370.6" cy="552.8" r="3.5" fill="#d85e08"/><circle class="pt" cx="407.1" cy="544.5" r="3.5" fill="#0b72b6"/><circle class="pt" cx="418" cy="570.5" r="3.5" fill="#f3e646"/>
<circle class="pt" cx="285.5" cy="438.9" r="3.5" fill="#f3e646"/><circle class="pt" cx="289.7" cy="447.9" r="3.5" fill="#f3e646"/><circle class="pt" cx="433.7" cy="567.4" r="3.5" fill="#f3e646"/><circle class="pt" cx="347.4" cy="520.7" r="3.5" fill="#f3e646"/>
<circle class="pt" cx="217.4" cy="311.3" r="3.5" fill="#d85e08"/><circle class="pt" cx="324.2" cy="503.5" r="3.5" fill="#f3e646"/><circle class="pt" cx="430" cy="565" r="3.5" fill="#0cf40c"/><circle class="pt" cx="334.8" cy="522.2" r="3.5" fill="#0cf40c"/>
<circle class="pt" cx="360.2" cy="547.1" r="3.5" fill="#f3e646"/><circle class="pt" cx="212.6" cy="339.9" r="3.5" fill="#0cf40c"/><circle class="pt" cx="203.4" cy="267.7" r="3.5" fill="#f3e646"/><circle class="pt" cx="327.1" cy="490.9" r="3.5" fill="#d85e08"/>
<circle class="pt" cx="259.9" cy="415.9" r="3.5" fill="#f3e646"/><circle class="pt" cx="348.1" cy="530" r="3.5" fill="#0b72b6"/><circle class="pt" cx="353.3" cy="529.9" r="3.5" fill="#0b72b6"/><circle class="pt" cx="214.3" cy="341.1" r="3.5" fill="#d85e08"/>
<circle class="pt" cx="388" cy="562.5" r="3.5" fill="#d85e08"/><circle class="pt" cx="234.7" cy="372.2" r="3.5" fill="#0cf40c"/><circle class="pt" cx="388.5" cy="543.7" r="3.5" fill="#f3e646"/><circle class="pt" cx="381.6" cy="556.6" r="3.5" fill="#f3e646"/>
<circle class="pt" cx="398.3" cy="544.3" r="3.5" fill="#d85e08"/><circle class="pt" cx="436.5" cy="563.3" r="3.5" fill="#f3e646"/><circle class="pt" cx="248.3" cy="420.1" r="3.5" fill="#0b72b6"/><circle class="pt" cx="378.9" cy="540.5" r="3.5" fill="#f3e646"/>
<circle class="pt" cx="358" cy="543.5" r="3.5" fill="#f3e646"/><circle class="pt" cx="348.6" cy="536.5" r="3.5" fill="#0cf40c"/><circle class="pt" cx="372.9" cy="547.1" r="3.5" fill="#0b72b6"/><circle class="pt" cx="366" cy="542.4" r="3.5" fill="#f3e646"/>
<circle class="pt" cx="269.2" cy="429.1" r="3.5" fill="#0b72b6"/><circle class="pt" cx="324.9" cy="494.8" r="3.5" fill="#f3e646"/><circle class="pt" cx="256.7" cy="413.3" r="3.5" fill="#0b72b6"/><circle class="pt" cx="215.9" cy="308.8" r="3.5" fill="#0cf40c"/>
<circle class="pt" cx="269" cy="423.3" r="3.5" fill="#f3e646"/><circle class="pt" cx="372.2" cy="550.1" r="3.5" fill="#f3e646"/><circle class="pt" cx="378.6" cy="562.2" r="3.5" fill="#0cf40c"/><circle class="pt" cx="433.4" cy="560.6" r="3.5" fill="#f3e646"/>
<circle class="pt" cx="366.9" cy="549.1" r="3.5" fill="#0b72b6"/><circle class="pt" cx="356.9" cy="550.5" r="3.5" fill="#0cf40c"/><circle class="pt" cx="359.8" cy="538.1" r="3.5" fill="#f3e646"/><circle class="pt" cx="365.9" cy="550.4" r="3.5" fill="#0cf40c"/>
<circle class="pt" cx="208.2" cy="290.8" r="3.5" fill="#f3e646"/><circle class="pt" cx="217.6" cy="294.2" r="3.5" fill="#f3e646"/><circle class="pt" cx="354.3" cy="537.6" r="3.5" fill="#0b72b6"/><circle class="pt" cx="367" cy="540" r="3.5" fill="#f3e646"/>
<circle class="pt" cx="377.4" cy="554.4" r="3.5" fill="#d85e08"/><circle class="pt" cx="250.5" cy="414.3" r="3.5" fill="#f3e646"/><circle class="pt" cx="317.4" cy="485" r="3.5" fill="#d85e08"/><circle class="pt" cx="235.7" cy="384.5" r="3.5" fill="#f3e646"/>
<circle class="pt" cx="363.1" cy="541.8" r="3.5" fill="#f3e646"/><circle class="pt" cx="379.4" cy="538" r="3.5" fill="#0b72b6"/><circle class="pt" cx="220" cy="293" r="3.5" fill="#f3e646"/><circle class="pt" cx="320" cy="482.6" r="3.5" fill="#d85e08"/>
<circle class="pt" cx="439.2" cy="566.6" r="3.5" fill="#f3e646"/><circle class="pt" cx="232" cy="375.6" r="3.5" fill="#f3e646"/><circle class="pt" cx="385.1" cy="554.9" r="3.5" fill="#f3e646"/><circle class="pt" cx="358.3" cy="545.9" r="3.5" fill="#f3e646"/>
<circle class="pt" cx="217.3" cy="305.7" r="3.5" fill="#f3e646"/><circle class="pt" cx="414.8" cy="570.5" r="3.5" fill="#0cf40c"/><circle class="pt" cx="351.9" cy="541.2" r="3.5" fill="#0b72b6"/><circle class="pt" cx="341.1" cy="525.2" r="3.5" fill="#d85e08"/>
<circle class="pt" cx="360.6" cy="532.8" r="3.5" fill="#f3e646"/><circle class="pt" cx="351.3" cy="546.7" r="3.5" fill="#f3e646"/><circle class="pt" cx="391.4" cy="561.1" r="3.5" fill="#0b72b6"/><circle class="pt" cx="214.3" cy="288.5" r="3.5" fill="#0cf40c"/>
<circle class="pt" cx="354.1" cy="547.3" r="3.5" fill="#0cf40c"/><circle class="pt" cx="245.4" cy="404.4" r="3.5" fill="#f3e646"/><circle class="pt" cx="272.3" cy="425.2" r="3.5" fill="#f3e646"/><circle class="pt" cx="247.7" cy="406.1" r="3.5" fill="#d85e08"/>
<circle class="pt" cx="288.1" cy="453.6" r="3.5" fill="#d85e08"/><circle class="pt" cx="364.2" cy="533.8" r="3.5" fill="#d85e08"/><circle class="pt" cx="237.6" cy="372.7" r="3.5" fill="#0cf40c"/><circle class="pt" cx="350" cy="538.7" r="3.5" fill="#0b72b6"/>
<circle class="pt" cx="322" cy="497.3" r="3.5" fill="#f3e646"/><circle class="pt" cx="384.3" cy="539.9" r="3.5" fill="#0b72b6"/><circle class="pt" cx="210" cy="295" r="3.5" fill="#0b72b6"/><circle class="pt" cx="244.3" cy="406.3" r="3.5" fill="#f3e646"/>
<circle class="pt" cx="216.5" cy="298.8" r="3.5" fill="#f3e646"/><circle class="pt" cx="380.3" cy="563.7" r="3.5" fill="#d85e08"/><circle class="pt" cx="379" cy="560" r="3.5" fill="#f3e646"/><circle class="pt" cx="210.1" cy="252.4" r="3.5" fill="#0cf40c"/>
<circle class="pt" cx="360.9" cy="530.2" r="3.5" fill="#f3e646"/><circle class="pt" cx="211.2" cy="300.5" r="3.5" fill="#f3e646"/><circle class="pt" cx="324.9" cy="498.6" r="3.5" fill="#d85e08"/><circle class="pt" cx="222.2" cy="313.3" r="3.5" fill="#f3e646"/>
<circle class="pt" cx="404.1" cy="547" r="3.5" fill="#f3e646"/><circle class="pt" cx="385.5" cy="547" r="3.5" fill="#0b72b6"/><circle class="pt" cx="351.3" cy="523.9" r="3.5" fill="#0cf40c"/><circle class="pt" cx="388.1" cy="545.7" r="3.5" fill="#0b72b6"/>
<circle class="pt" cx="206" cy="260.9" r="3.5" fill="#0b72b6"/><circle class="pt" cx="337.3" cy="528.5" r="3.5" fill="#d85e08"/><circle class="pt" cx="353.9" cy="543.8" r="3.5" fill="#f3e646"/><circle class="pt" cx="237.7" cy="388.8" r="3.5" fill="#f3e646"/>
<circle class="pt" cx="326.4" cy="494" r="3.5" fill="#f3e646"/><circle class="pt" cx="363.1" cy="538.7" r="3.5" fill="#f3e646"/><circle class="pt" cx="348.1" cy="545.6" r="3.5" fill="#f3e646"/><circle class="pt" cx="357.5" cy="537.2" r="3.5" fill="#0b72b6"/>
<circle class="pt" cx="245.4" cy="398.3" r="3.5" fill="#f3e646"/><circle class="pt" cx="291.3" cy="457" r="3.5" fill="#d85e08"/><circle class="pt" cx="261.6" cy="421.7" r="3.5" fill="#0b72b6"/><circle class="pt" cx="273.3" cy="423" r="3.5" fill="#d85e08"/>
<circle class="pt" cx="375.3" cy="561.2" r="3.5" fill="#0cf40c"/><circle class="pt" cx="272.4" cy="428.7" r="3.5" fill="#0b72b6"/><circle class="pt" cx="393.9" cy="547.1" r="3.5" fill="#f3e646"/><circle class="pt" cx="357" cy="544.4" r="3.5" fill="#f3e646"/>
<circle class="pt" cx="321.5" cy="504.6" r="3.5" fill="#f3e646"/><circle class="pt" cx="210.8" cy="223.3" r="3.5" fill="#0b72b6"/><circle class="pt" cx="367.1" cy="558.9" r="3.5" fill="#0cf40c"/><circle class="pt" cx="375.9" cy="538.7" r="3.5" fill="#f3e646"/>
<circle class="pt" cx="244.5" cy="412.6" r="3.5" fill="#f3e646"/><circle class="pt" cx="359.5" cy="557" r="3.5" fill="#0cf40c"/><circle class="pt" cx="283.3" cy="441.2" r="3.5" fill="#f3e646"/><circle class="pt" cx="374.4" cy="559.9" r="3.5" fill="#f3e646"/>
<circle class="pt" cx="218.7" cy="314.9" r="3.5" fill="#0cf40c"/><circle class="pt" cx="381.8" cy="538.4" r="3.5" fill="#0b72b6"/><circle class="pt" cx="384.7" cy="548" r="3.5" fill="#0b72b6"/><circle class="pt" cx="276.6" cy="443.7" r="3.5" fill="#0b72b6"/>
<circle class="pt" cx="209.1" cy="260.4" r="3.5" fill="#f3e646"/><circle class="pt" cx="409.6" cy="573.5" r="3.5" fill="#0cf40c"/><circle class="pt" cx="355.5" cy="515.9" r="3.5" fill="#0cf40c"/><circle class="pt" cx="362.5" cy="532.1" r="3.5" fill="#0cf40c"/>
<circle class="pt" cx="362.4" cy="552" r="3.5" fill="#0cf40c"/><circle class="pt" cx="402.3" cy="583.8" r="3.5" fill="#f3e646"/><circle class="pt" cx="365.2" cy="535" r="3.5" fill="#f3e646"/><circle class="pt" cx="384.3" cy="550.2" r="3.5" fill="#0b72b6"/>
<circle class="pt" cx="266.9" cy="435.9" r="3.5" fill="#f3e646"/><circle class="pt" cx="267.7" cy="446.7" r="3.5" fill="#0cf40c"/><circle class="pt" cx="387.8" cy="547.4" r="3.5" fill="#f3e646"/><circle class="pt" cx="238.8" cy="387.7" r="3.5" fill="#d85e08"/>
<circle class="pt" cx="364.9" cy="557.4" r="3.5" fill="#f3e646"/><circle class="pt" cx="372" cy="550.5" r="3.5" fill="#0cf40c"/><circle class="pt" cx="384.3" cy="556.1" r="3.5" fill="#f3e646"/><circle class="pt" cx="300.5" cy="460.5" r="3.5" fill="#f3e646"/>
<circle class="pt" cx="272.3" cy="444.2" r="3.5" fill="#f3e646"/><circle class="pt" cx="229.5" cy="356.4" r="3.5" fill="#0cf40c"/><circle class="pt" cx="314.1" cy="480.4" r="3.5" fill="#d85e08"/><circle class="pt" cx="206.2" cy="270.8" r="3.5" fill="#f3e646"/>
<circle class="pt" cx="278.6" cy="439.3" r="3.5" fill="#f3e646"/><circle class="pt" cx="360.5" cy="560.9" r="3.5" fill="#0b72b6"/><circle class="pt" cx="208.5" cy="285.4" r="3.5" fill="#0b72b6"/><circle class="pt" cx="210.3" cy="229.8" r="3.5" fill="#f3e646"/>
<circle class="pt" cx="239.4" cy="395.4" r="3.5" fill="#f3e646"/><circle class="pt" cx="253.5" cy="425.9" r="3.5" fill="#0b72b6"/><circle class="pt" cx="375" cy="559.2" r="3.5" fill="#0cf40c"/><circle class="pt" cx="363.5" cy="535.4" r="3.5" fill="#f3e646"/>
<circle class="pt" cx="374.4" cy="553.9" r="3.5" fill="#d85e08"/><circle class="pt" cx="323.6" cy="500.6" r="3.5" fill="#0cf40c"/><circle class="pt" cx="353.8" cy="536.2" r="3.5" fill="#0cf40c"/><circle class="pt" cx="370.7" cy="549.6" r="3.5" fill="#d85e08"/>
<circle class="pt" cx="204.4" cy="229.2" r="3.5" fill="#0b72b6"/><circle class="pt" cx="359.8" cy="545.9" r="3.5" fill="#f3e646"/><circle class="pt" cx="266.8" cy="412.7" r="3.5" fill="#0b72b6"/><circle class="pt" cx="382.2" cy="547" r="3.5" fill="#0b72b6"/>
<circle class="pt" cx="353.2" cy="549.9" r="3.5" fill="#0cf40c"/><circle class="pt" cx="437.7" cy="557" r="3.5" fill="#0b72b6"/><circle class="pt" cx="365.4" cy="553.6" r="3.5" fill="#0b72b6"/><circle class="pt" cx="353.2" cy="528.6" r="3.5" fill="#0b72b6"/>
<circle class="pt" cx="222.6" cy="351.2" r="3.5" fill="#0b72b6"/><circle class="pt" cx="391.2" cy="543.6" r="3.5" fill="#0b72b6"/><circle class="pt" cx="357.5" cy="514.6" r="3.5" fill="#0b72b6"/><circle class="pt" cx="219.9" cy="295.9" r="3.5" fill="#f3e646"/>
<circle class="pt" cx="426.8" cy="558" r="3.5" fill="#f3e646"/><circle class="pt" cx="240.6" cy="386.9" r="3.5" fill="#f3e646"/><circle class="pt" cx="380" cy="553.8" r="3.5" fill="#0b72b6"/><circle class="pt" cx="361.9" cy="557.1" r="3.5" fill="#0cf40c"/>
<circle class="pt" cx="338.2" cy="516.4" r="3.5" fill="#d85e08"/><circle class="pt" cx="385.3" cy="561.2" r="3.5" fill="#d85e08"/><circle class="pt" cx="349.6" cy="536.2" r="3.5" fill="#0b72b6"/><circle class="pt" cx="215.3" cy="343.4" r="3.5" fill="#d85e08"/>
<circle class="pt" cx="386.1" cy="552.6" r="3.5" fill="#0b72b6"/><circle class="pt" cx="368.9" cy="554.5" r="3.5" fill="#d85e08"/><circle class="pt" cx="373.9" cy="558.5" r="3.5" fill="#0cf40c"/><circle class="pt" cx="353.4" cy="535.2" r="3.5" fill="#0cf40c"/>
<circle class="pt" cx="263.7" cy="440.8" r="3.5" fill="#f3e646"/><circle class="pt" cx="212.7" cy="336.6" r="3.5" fill="#f3e646"/><circle class="pt" cx="242.4" cy="393.5" r="3.5" fill="#f3e646"/><circle class="pt" cx="330.1" cy="494" r="3.5" fill="#f3e646"/>
<circle class="pt" cx="341.8" cy="528.2" r="3.5" fill="#0cf40c"/><circle class="pt" cx="385.3" cy="545.3" r="3.5" fill="#0b72b6"/><circle class="pt" cx="349.9" cy="530.1" r="3.5" fill="#0b72b6"/><circle class="pt" cx="412.1" cy="577.7" r="3.5" fill="#f3e646"/>
<circle class="pt" cx="388.4" cy="553.7" r="3.5" fill="#0b72b6"/><circle class="pt" cx="372.1" cy="542.8" r="3.5" fill="#0b72b6"/><circle class="pt" cx="203.8" cy="225.9" r="3.5" fill="#0b72b6"/><circle class="pt" cx="409.3" cy="575.6" r="3.5" fill="#f3e646"/>
<circle class="pt" cx="294.4" cy="448.1" r="3.5" fill="#0b72b6"/><circle class="pt" cx="277" cy="435" r="3.5" fill="#f3e646"/><circle class="pt" cx="357.2" cy="553.9" r="3.5" fill="#0cf40c"/><circle class="pt" cx="215.1" cy="232.6" r="3.5" fill="#f3e646"/>
<circle class="pt" cx="290.9" cy="450.1" r="3.5" fill="#0b72b6"/><circle class="pt" cx="382.8" cy="556.9" r="3.5" fill="#d85e08"/><circle class="pt" cx="326.7" cy="496.9" r="3.5" fill="#f3e646"/><circle class="pt" cx="375.1" cy="563.6" r="3.5" fill="#0cf40c"/>
<circle class="pt" cx="381.3" cy="553.5" r="3.5" fill="#f3e646"/><circle class="pt" cx="360.4" cy="553.8" r="3.5" fill="#0b72b6"/><circle class="pt" cx="397" cy="547" r="3.5" fill="#f3e646"/><circle class="pt" cx="373.4" cy="552.7" r="3.5" fill="#d85e08"/>
<circle class="pt" cx="380.7" cy="561.1" r="3.5" fill="#0cf40c"/><circle class="pt" cx="214.7" cy="337.5" r="3.5" fill="#0cf40c"/><circle class="pt" cx="253.9" cy="420.4" r="3.5" fill="#f3e646"/><circle class="pt" cx="363.9" cy="555.5" r="3.5" fill="#0b72b6"/>
<circle class="pt" cx="349.3" cy="533.1" r="3.5" fill="#d85e08"/><circle class="pt" cx="334.7" cy="526.7" r="3.5" fill="#d85e08"/><circle class="pt" cx="241.1" cy="400.2" r="3.5" fill="#f3e646"/><circle class="pt" cx="219.6" cy="354.8" r="3.5" fill="#0b72b6"/>
<circle class="pt" cx="361.8" cy="548.3" r="3.5" fill="#0b72b6"/><circle class="pt" cx="359.7" cy="522.6" r="3.5" fill="#d85e08"/><circle class="pt" cx="265.9" cy="416.6" r="3.5" fill="#0b72b6"/><circle class="pt" cx="407" cy="577.1" r="3.5" fill="#d85e08"/>
<circle class="pt" cx="365.3" cy="538.1" r="3.5" fill="#f3e646"/><circle class="pt" cx="355.6" cy="529.5" r="3.5" fill="#d85e08"/><circle class="pt" cx="375" cy="550.2" r="3.5" fill="#d85e08"/><circle class="pt" cx="291.7" cy="447.9" r="3.5" fill="#f3e646"/>
<circle class="pt" cx="356.9" cy="554.9" r="3.5" fill="#0b72b6"/><circle class="pt" cx="281.6" cy="431.1" r="3.5" fill="#d85e08"/><circle class="pt" cx="279.5" cy="435.1" r="3.5" fill="#f3e646"/><circle class="pt" cx="330.7" cy="523" r="3.5" fill="#0b72b6"/>
<circle class="pt" cx="406.4" cy="574.5" r="3.5" fill="#f3e646"/><circle class="pt" cx="202.2" cy="227.1" r="3.5" fill="#0b72b6"/><circle class="pt" cx="374.1" cy="536.3" r="3.5" fill="#f3e646"/><circle class="pt" cx="376.6" cy="555.8" r="3.5" fill="#0b72b6"/>
<circle class="pt" cx="266.9" cy="431.1" r="3.5" fill="#0b72b6"/><circle class="pt" cx="271" cy="446.5" r="3.5" fill="#0cf40c"/><circle class="pt" cx="391.4" cy="540.9" r="3.5" fill="#f3e646"/><circle class="pt" cx="358.5" cy="530.2" r="3.5" fill="#d85e08"/>
<circle class="pt" cx="320.8" cy="495.5" r="3.5" fill="#d85e08"/><circle class="pt" cx="234.7" cy="374.2" r="3.5" fill="#f3e646"/><circle class="pt" cx="374.9" cy="552.9" r="3.5" fill="#d85e08"/><circle class="pt" cx="371.1" cy="544" r="3.5" fill="#f3e646"/>
<circle class="pt" cx="206.6" cy="264.9" r="3.5" fill="#f3e646"/><circle class="pt" cx="383.2" cy="566.4" r="3.5" fill="#0cf40c"/><circle class="pt" cx="260.5" cy="411.4" r="3.5" fill="#0b72b6"/><circle class="pt" cx="357.1" cy="533.6" r="3.5" fill="#f3e646"/>
<circle class="pt" cx="360.3" cy="541.9" r="3.5" fill="#f3e646"/><circle class="pt" cx="344.2" cy="514.6" r="3.5" fill="#0cf40c"/><circle class="pt" cx="441.8" cy="554.7" r="3.5" fill="#f3e646"/><circle class="pt" cx="352.5" cy="537.5" r="3.5" fill="#d85e08"/>
<circle class="pt" cx="369.9" cy="544" r="3.5" fill="#f3e646"/><circle class="pt" cx="344.5" cy="528.5" r="3.5" fill="#0cf40c"/><circle class="pt" cx="370.9" cy="538.8" r="3.5" fill="#0b72b6"/><circle class="pt" cx="275.5" cy="428.5" r="3.5" fill="#0b72b6"/>
<circle class="pt" cx="331.9" cy="525.9" r="3.5" fill="#0cf40c"/><circle class="pt" cx="384.8" cy="560.2" r="3.5" fill="#f3e646"/><circle class="pt" cx="210.3" cy="246.1" r="3.5" fill="#f3e646"/><circle class="pt" cx="234.9" cy="367.6" r="3.5" fill="#0cf40c"/>
<circle class="pt" cx="303.4" cy="459.8" r="3.5" fill="#0cf40c"/><circle class="pt" cx="394.3" cy="543.8" r="3.5" fill="#f3e646"/><circle class="pt" cx="257" cy="416.5" r="3.5" fill="#0b72b6"/><circle class="pt" cx="378.8" cy="548.1" r="3.5" fill="#0b72b6"/>
<circle class="pt" cx="332.8" cy="508.1" r="3.5" fill="#0cf40c"/><circle class="pt" cx="252.2" cy="416.9" r="3.5" fill="#f3e646"/><circle class="pt" cx="251.2" cy="411.1" r="3.5" fill="#f3e646"/><circle class="pt" cx="381.8" cy="544.8" r="3.5" fill="#0b72b6"/>
<circle class="pt" cx="386.1" cy="569.2" r="3.5" fill="#0b72b6"/><circle class="pt" cx="282.8" cy="450.6" r="3.5" fill="#0b72b6"/><circle class="pt" cx="388.6" cy="564.4" r="3.5" fill="#d85e08"/><circle class="pt" cx="352.7" cy="548.8" r="3.5" fill="#0cf40c"/>
<circle class="pt" cx="281.9" cy="444.9" r="3.5" fill="#0b72b6"/><circle class="pt" cx="359.5" cy="529.1" r="3.5" fill="#d85e08"/><circle class="pt" cx="413.2" cy="573.6" r="3.5" fill="#0cf40c"/><circle class="pt" cx="360.6" cy="556.3" r="3.5" fill="#0cf40c"/>
<circle class="pt" cx="211.3" cy="248.9" r="3.5" fill="#0cf40c"/><circle class="pt" cx="369.9" cy="536.4" r="3.5" fill="#0cf40c"/><circle class="pt" cx="344.6" cy="516.5" r="3.5" fill="#0cf40c"/><circle class="pt" cx="325" cy="488.6" r="3.5" fill="#0cf40c"/>
<circle class="pt" cx="351.5" cy="530.6" r="3.5" fill="#d85e08"/><circle class="pt" cx="318.8" cy="483.4" r="3.5" fill="#0cf40c"/><circle class="pt" cx="209.6" cy="270.5" r="3.5" fill="#f3e646"/><circle class="pt" cx="346.4" cy="522.5" r="3.5" fill="#f3e646"/>
<circle class="pt" cx="344.5" cy="526.5" r="3.5" fill="#f3e646"/><circle class="pt" cx="246.9" cy="392.9" r="3.5" fill="#f3e646"/><circle class="pt" cx="272.5" cy="441.9" r="3.5" fill="#f3e646"/><circle class="pt" cx="214.6" cy="226.5" r="3.5" fill="#0b72b6"/>
<circle class="pt" cx="225.1" cy="321.5" r="3.5" fill="#0b72b6"/><circle class="pt" cx="223.7" cy="353.3" r="3.5" fill="#0b72b6"/><circle class="pt" cx="215" cy="297.9" r="3.5" fill="#f3e646"/><circle class="pt" cx="266.8" cy="429.4" r="3.5" fill="#f3e646"/>
<circle class="pt" cx="263.5" cy="438.6" r="3.5" fill="#f3e646"/><circle class="pt" cx="247.3" cy="414" r="3.5" fill="#f3e646"/><circle class="pt" cx="372.5" cy="535.7" r="3.5" fill="#0b72b6"/><circle class="pt" cx="434.4" cy="558.7" r="3.5" fill="#f3e646"/>
<circle class="pt" cx="379.6" cy="565.4" r="3.5" fill="#0cf40c"/><circle class="pt" cx="244.3" cy="395.1" r="3.5" fill="#0cf40c"/><circle class="pt" cx="213.6" cy="230.2" r="3.5" fill="#f3e646"/><circle class="pt" cx="317.6" cy="500.6" r="3.5" fill="#f3e646"/>
<circle class="pt" cx="225.2" cy="311.5" r="3.5" fill="#f3e646"/><circle class="pt" cx="370" cy="538.1" r="3.5" fill="#f3e646"/><circle class="pt" cx="318" cy="482.2" r="3.5" fill="#0cf40c"/><circle class="pt" cx="338.5" cy="519.7" r="3.5" fill="#d85e08"/>
<circle class="pt" cx="391.5" cy="565.7" r="3.5" fill="#0b72b6"/><circle class="pt" cx="292.1" cy="445.2" r="3.5" fill="#f3e646"/><circle class="pt" cx="247.9" cy="404.8" r="3.5" fill="#d85e08"/><circle class="pt" cx="216.9" cy="350.5" r="3.5" fill="#0b72b6"/>
<circle class="pt" cx="289" cy="440.9" r="3.5" fill="#f3e646"/><circle class="pt" cx="353.9" cy="519.5" r="3.5" fill="#0b72b6"/><circle class="pt" cx="364.6" cy="547" r="3.5" fill="#0b72b6"/><circle class="pt" cx="316.3" cy="482.8" r="3.5" fill="#d85e08"/>
<circle class="pt" cx="386.6" cy="559.3" r="3.5" fill="#d85e08"/><circle class="pt" cx="355.1" cy="531.7" r="3.5" fill="#d85e08"/><circle class="pt" cx="371.6" cy="547.7" r="3.5" fill="#d85e08"/><circle class="pt" cx="267" cy="420.1" r="3.5" fill="#0b72b6"/>
<circle class="pt" cx="369.6" cy="542.3" r="3.5" fill="#f3e646"/><circle class="pt" cx="306.8" cy="460.6" r="3.5" fill="#0cf40c"/><circle class="pt" cx="358.9" cy="525.4" r="3.5" fill="#d85e08"/><circle class="pt" cx="253.9" cy="400.2" r="3.5" fill="#0b72b6"/>
<circle class="pt" cx="370" cy="559.4" r="3.5" fill="#0cf40c"/><circle class="pt" cx="360.6" cy="540.9" r="3.5" fill="#f3e646"/><circle class="pt" cx="217.5" cy="309.9" r="3.5" fill="#0cf40c"/><circle class="pt" cx="356.1" cy="532.2" r="3.5" fill="#0b72b6"/>
<circle class="pt" cx="352.6" cy="517.4" r="3.5" fill="#0b72b6"/><circle class="pt" cx="414.9" cy="574.6" r="3.5" fill="#f3e646"/><circle class="pt" cx="377.9" cy="557.1" r="3.5" fill="#d85e08"/><circle class="pt" cx="431.3" cy="554.6" r="3.5" fill="#f3e646"/>
<circle class="pt" cx="257.6" cy="409.3" r="3.5" fill="#0b72b6"/><circle class="pt" cx="368.9" cy="563" r="3.5" fill="#0b72b6"/><circle class="pt" cx="258.2" cy="428.2" r="3.5" fill="#f3e646"/><circle class="pt" cx="354.1" cy="550.2" r="3.5" fill="#f3e646"/>
<circle class="pt" cx="385.9" cy="556.7" r="3.5" fill="#f3e646"/><circle class="pt" cx="351.1" cy="544.3" r="3.5" fill="#f3e646"/><circle class="pt" cx="351" cy="537.2" r="3.5" fill="#0cf40c"/><circle class="pt" cx="269.4" cy="432.6" r="3.5" fill="#0b72b6"/>
<circle class="pt" cx="260" cy="419.5" r="3.5" fill="#f3e646"/><circle class="pt" cx="359.2" cy="544.4" r="3.5" fill="#f3e646"/><circle class="pt" cx="255.1" cy="403.8" r="3.5" fill="#d85e08"/><circle class="pt" cx="362" cy="545.7" r="3.5" fill="#f3e646"/>
<circle class="pt" cx="348.1" cy="530.6" r="3.5" fill="#0cf40c"/><circle class="pt" cx="356.3" cy="541.4" r="3.5" fill="#f3e646"/><circle class="pt" cx="362.5" cy="559.7" r="3.5" fill="#0b72b6"/><circle class="pt" cx="369.7" cy="546.9" r="3.5" fill="#f3e646"/>
<circle class="pt" cx="266.1" cy="411.4" r="3.5" fill="#0b72b6"/><circle class="pt" cx="388.4" cy="553.3" r="3.5" fill="#f3e646"/><circle class="pt" cx="255.5" cy="414.1" r="3.5" fill="#f3e646"/><circle class="pt" cx="303.5" cy="471.7" r="3.5" fill="#0cf40c"/>
<circle class="pt" cx="365.8" cy="545.6" r="3.5" fill="#0b72b6"/><circle class="pt" cx="237.6" cy="367.8" r="3.5" fill="#0b72b6"/><circle class="pt" cx="308" cy="473.8" r="3.5" fill="#0cf40c"/><circle class="pt" cx="212.2" cy="332" r="3.5" fill="#f3e646"/>
<circle class="pt" cx="354.2" cy="543.7" r="3.5" fill="#0b72b6"/><circle class="pt" cx="279.2" cy="429.4" r="3.5" fill="#d85e08"/><circle class="pt" cx="334.9" cy="520.9" r="3.5" fill="#0b72b6"/><circle class="pt" cx="340.2" cy="520.4" r="3.5" fill="#0b72b6"/>
<circle class="pt" cx="263.9" cy="409.8" r="3.5" fill="#0b72b6"/><circle class="pt" cx="263.4" cy="431.5" r="3.5" fill="#f3e646"/><circle class="pt" cx="400.9" cy="579.6" r="3.5" fill="#0b72b6"/><circle class="pt" cx="289.4" cy="444.1" r="3.5" fill="#f3e646"/>
<circle class="pt" cx="351.1" cy="527.1" r="3.5" fill="#0b72b6"/><circle class="pt" cx="371" cy="561.1" r="3.5" fill="#f3e646"/><circle class="pt" cx="374.3" cy="545.7" r="3.5" fill="#f3e646"/><circle class="pt" cx="256.6" cy="404" r="3.5" fill="#d85e08"/>
<circle class="pt" cx="343.3" cy="523.1" r="3.5" fill="#0cf40c"/><circle class="pt" cx="374.9" cy="547.6" r="3.5" fill="#f3e646"/><circle class="pt" cx="310.1" cy="477.1" r="3.5" fill="#0cf40c"/><circle class="pt" cx="236.5" cy="373.8" r="3.5" fill="#0cf40c"/>
<circle class="pt" cx="377.2" cy="539" r="3.5" fill="#f3e646"/><circle class="pt" cx="225.2" cy="353.8" r="3.5" fill="#0b72b6"/><circle class="pt" cx="380.8" cy="541.4" r="3.5" fill="#f3e646"/><circle class="pt" cx="273.4" cy="435" r="3.5" fill="#0b72b6"/>
<circle class="pt" cx="360.2" cy="559.9" r="3.5" fill="#0cf40c"/><circle class="pt" cx="318.9" cy="487.6" r="3.5" fill="#d85e08"/><circle class="pt" cx="377.2" cy="562.4" r="3.5" fill="#0cf40c"/><circle class="pt" cx="357.4" cy="551.6" r="3.5" fill="#f3e646"/>
<circle class="pt" cx="271.1" cy="425" r="3.5" fill="#0b72b6"/><circle class="pt" cx="403.7" cy="576.7" r="3.5" fill="#d85e08"/><circle class="pt" cx="205.5" cy="224.4" r="3.5" fill="#0b72b6"/><circle class="pt" cx="208.7" cy="250.4" r="3.5" fill="#f3e646"/>
<circle class="pt" cx="352.7" cy="527.1" r="3.5" fill="#0b72b6"/><circle class="pt" cx="433.1" cy="554.5" r="3.5" fill="#0b72b6"/><circle class="pt" cx="346.9" cy="514.8" r="3.5" fill="#f3e646"/><circle class="pt" cx="366.8" cy="564.3" r="3.5" fill="#f3e646"/>
<circle class="pt" cx="220.3" cy="350.5" r="3.5" fill="#d85e08"/><circle class="pt" cx="347.1" cy="517.3" r="3.5" fill="#0cf40c"/><circle class="pt" cx="384.1" cy="564.2" r="3.5" fill="#d85e08"/><circle class="pt" cx="353.1" cy="542" r="3.5" fill="#f3e646"/>
<circle class="pt" cx="248.6" cy="396.7" r="3.5" fill="#0b72b6"/><circle class="pt" cx="211.3" cy="335" r="3.5" fill="#f3e646"/><circle class="pt" cx="273.9" cy="437.2" r="3.5" fill="#0b72b6"/><circle class="pt" cx="329.6" cy="492.7" r="3.5" fill="#f3e646"/>
<circle class="pt" cx="350.7" cy="520.3" r="3.5" fill="#0cf40c"/><circle class="pt" cx="264.3" cy="414" r="3.5" fill="#0b72b6"/><circle class="pt" cx="368.1" cy="560.6" r="3.5" fill="#0cf40c"/><circle class="pt" cx="397.3" cy="580.7" r="3.5" fill="#f3e646"/>
<circle class="pt" cx="381" cy="547.7" r="3.5" fill="#0b72b6"/><circle class="pt" cx="214.6" cy="300.2" r="3.5" fill="#f3e646"/><circle class="pt" cx="217" cy="339.7" r="3.5" fill="#0cf40c"/><circle class="pt" cx="440.6" cy="554.2" r="3.5" fill="#f3e646"/>
<circle class="pt" cx="267.1" cy="422.7" r="3.5" fill="#f3e646"/><circle class="pt" cx="366.3" cy="560.1" r="3.5" fill="#f3e646"/><circle class="pt" cx="384.3" cy="564.9" r="3.5" fill="#d85e08"/><circle class="pt" cx="356" cy="548" r="3.5" fill="#0cf40c"/>
<circle class="pt" cx="357.1" cy="526.3" r="3.5" fill="#0b72b6"/><circle class="pt" cx="211.1" cy="227.2" r="3.5" fill="#f3e646"/><circle class="pt" cx="409.8" cy="570.9" r="3.5" fill="#0cf40c"/><circle class="pt" cx="391.5" cy="563.4" r="3.5" fill="#0b72b6"/>
<circle class="pt" cx="258.8" cy="434.6" r="3.5" fill="#f3e646"/><circle class="pt" cx="274.1" cy="446.6" r="3.5" fill="#f3e646"/><circle class="pt" cx="374.7" cy="542.7" r="3.5" fill="#f3e646"/><circle class="pt" cx="391.5" cy="547.5" r="3.5" fill="#0b72b6"/>
<circle class="pt" cx="369.6" cy="545.1" r="3.5" fill="#f3e646"/><circle class="pt" cx="414.5" cy="582.4" r="3.5" fill="#f3e646"/><circle class="pt" cx="264.1" cy="418.7" r="3.5" fill="#0b72b6"/><circle class="pt" cx="260.7" cy="434.5" r="3.5" fill="#f3e646"/>
<circle class="pt" cx="326.5" cy="505" r="3.5" fill="#0cf40c"/><circle class="pt" cx="275.9" cy="431.9" r="3.5" fill="#0b72b6"/><circle class="pt" cx="258.6" cy="422.3" r="3.5" fill="#0b72b6"/><circle class="pt" cx="391.4" cy="547.8" r="3.5" fill="#0b72b6"/>
<circle class="pt" cx="214" cy="294" r="3.5" fill="#f3e646"/><circle class="pt" cx="325" cy="491.1" r="3.5" fill="#d85e08"/><circle class="pt" cx="378.4" cy="559.9" r="3.5" fill="#d85e08"/><circle class="pt" cx="266.8" cy="443.5" r="3.5" fill="#d85e08"/>
<circle class="pt" cx="431.3" cy="557.7" r="3.5" fill="#f3e646"/><circle class="pt" cx="378.1" cy="543.7" r="3.5" fill="#f3e646"/><circle class="pt" cx="318.9" cy="494.6" r="3.5" fill="#d85e08"/><circle class="pt" cx="242.6" cy="395.3" r="3.5" fill="#f3e646"/>
<circle class="pt" cx="364.1" cy="537.1" r="3.5" fill="#f3e646"/><circle class="pt" cx="213" cy="244.6" r="3.5" fill="#f3e646"/><circle class="pt" cx="357.3" cy="553.5" r="3.5" fill="#0cf40c"/><circle class="pt" cx="235.9" cy="389.3" r="3.5" fill="#d85e08"/>
<circle class="pt" cx="243.3" cy="409.3" r="3.5" fill="#f3e646"/><circle class="pt" cx="431.6" cy="567.6" r="3.5" fill="#0cf40c"/><circle class="pt" cx="214.6" cy="286.4" r="3.5" fill="#0b72b6"/><circle class="pt" cx="334.9" cy="528.4" r="3.5" fill="#d85e08"/>
<circle class="pt" cx="330.3" cy="497.4" r="3.5" fill="#f3e646"/><circle class="pt" cx="408.5" cy="579" r="3.5" fill="#f3e646"/><circle class="pt" cx="396" cy="576.9" r="3.5" fill="#f3e646"/><circle class="pt" cx="260.3" cy="426.5" r="3.5" fill="#0b72b6"/>
<circle class="pt" cx="365.1" cy="545" r="3.5" fill="#0b72b6"/><circle class="pt" cx="403.9" cy="543.7" r="3.5" fill="#0b72b6"/><circle class="pt" cx="387.8" cy="550.2" r="3.5" fill="#f3e646"/><circle class="pt" cx="318.8" cy="479.7" r="3.5" fill="#d85e08"/>
<circle class="pt" cx="245.6" cy="409.8" r="3.5" fill="#f3e646"/><circle class="pt" cx="372.3" cy="566.4" r="3.5" fill="#f3e646"/><circle class="pt" cx="170.5" cy="92.6" r="3.5" fill="#d85e08"/><circle class="pt" cx="181.7" cy="99" r="3.5" fill="#d85e08"/>
<circle class="pt" cx="158.7" cy="110.9" r="3.5" fill="#0cf40c"/><circle class="pt" cx="192.5" cy="115.7" r="3.5" fill="#f3e646"/><circle class="pt" cx="201.3" cy="118.9" r="3.5" fill="#0cf40c"/><circle class="pt" cx="219.1" cy="115.1" r="3.5" fill="#f3e646"/>
<circle class="pt" cx="184.1" cy="130.5" r="3.5" fill="#f3e646"/><circle class="pt" cx="178.4" cy="139" r="3.5" fill="#0cf40c"/><circle class="pt" cx="216" cy="127.4" r="3.5" fill="#d85e08"/><circle class="pt" cx="215.8" cy="149.4" r="3.5" fill="#d85e08"/>
<circle class="pt" cx="232.1" cy="171.2" r="3.5" fill="#f3e646"/><circle class="pt" cx="222.9" cy="179.2" r="3.5" fill="#0cf40c"/><circle class="pt" cx="232.6" cy="184.6" r="3.5" fill="#0cf40c"/><circle class="pt" cx="226.2" cy="196.4" r="3.5" fill="#d85e08"/>
<circle class="pt" cx="218" cy="202.4" r="3.5" fill="#d85e08"/><circle class="pt" cx="205.8" cy="208.2" r="3.5" fill="#0b72b6"/><circle class="pt" cx="213" cy="213.6" r="3.5" fill="#d85e08"/><circle class="pt" cx="191" cy="219.2" r="3.5" fill="#0cf40c"/>
<circle class="pt" cx="201.3" cy="219.2" r="3.5" fill="#0b72b6"/><circle class="pt" cx="207.3" cy="219.6" r="3.5" fill="#0b72b6"/><circle class="pt" cx="215.5" cy="223.5" r="3.5" fill="#0b72b6"/><circle class="pt" cx="197.5" cy="225.7" r="3.5" fill="#0b72b6"/>
<circle class="pt" cx="201.2" cy="222.8" r="3.5" fill="#0b72b6"/><circle class="pt" cx="199.6" cy="228.7" r="3.5" fill="#0b72b6"/><circle class="pt" cx="203.9" cy="226.2" r="3.5" fill="#0b72b6"/><circle class="pt" cx="207.3" cy="227.9" r="3.5" fill="#0b72b6"/>
<circle class="pt" cx="204.3" cy="231.2" r="3.5" fill="#0b72b6"/><circle class="pt" cx="209.8" cy="228.3" r="3.5" fill="#f3e646"/><circle class="pt" cx="212.3" cy="230.4" r="3.5" fill="#f3e646"/><circle class="pt" cx="217.8" cy="230" r="3.5" fill="#d85e08"/>
<circle class="pt" cx="214" cy="231.4" r="3.5" fill="#f3e646"/><circle class="pt" cx="216.1" cy="236.3" r="3.5" fill="#f3e646"/><circle class="pt" cx="214" cy="234.6" r="3.5" fill="#f3e646"/><circle class="pt" cx="222.3" cy="239.3" r="3.5" fill="#f3e646"/>
<circle class="pt" cx="222.3" cy="244.5" r="3.5" fill="#f3e646"/><circle class="pt" cx="212.8" cy="242.7" r="3.5" fill="#f3e646"/><circle class="pt" cx="215.3" cy="244" r="3.5" fill="#f3e646"/><circle class="pt" cx="207.9" cy="244.6" r="3.5" fill="#f3e646"/>
<circle class="pt" cx="212.3" cy="247.8" r="3.5" fill="#f3e646"/><circle class="pt" cx="208.1" cy="249" r="3.5" fill="#f3e646"/><circle class="pt" cx="208.5" cy="251.6" r="3.5" fill="#0cf40c"/><circle class="pt" cx="212.3" cy="253.7" r="3.5" fill="#0b72b6"/>
<circle class="pt" cx="209.8" cy="256.7" r="3.5" fill="#f3e646"/><circle class="pt" cx="203.9" cy="257.9" r="3.5" fill="#0b72b6"/><circle class="pt" cx="198.8" cy="260" r="3.5" fill="#f3e646"/><circle class="pt" cx="202.2" cy="261.3" r="3.5" fill="#0b72b6"/>
<circle class="pt" cx="208.1" cy="260.9" r="3.5" fill="#f3e646"/><circle class="pt" cx="199.6" cy="265.1" r="3.5" fill="#0b72b6"/><circle class="pt" cx="205.1" cy="266.4" r="3.5" fill="#f3e646"/><circle class="pt" cx="209" cy="264.3" r="3.5" fill="#f3e646"/>
<circle class="pt" cx="211.1" cy="269.4" r="3.5" fill="#0cf40c"/><circle class="pt" cx="204.7" cy="270.2" r="3.5" fill="#f3e646"/><circle class="pt" cx="207.3" cy="271.9" r="3.5" fill="#f3e646"/><circle class="pt" cx="201.5" cy="275.1" r="3.5" fill="#f3e646"/>
<circle class="pt" cx="209.6" cy="274.9" r="3.5" fill="#0cf40c"/><circle class="pt" cx="206.4" cy="277.8" r="3.5" fill="#f3e646"/><circle class="pt" cx="213.6" cy="278.8" r="3.5" fill="#f3e646"/><circle class="pt" cx="209.8" cy="282.9" r="3.5" fill="#0b72b6"/>
<circle class="pt" cx="214.5" cy="285" r="3.5" fill="#0b72b6"/><circle class="pt" cx="217.4" cy="282.9" r="3.5" fill="#0b72b6"/><circle class="pt" cx="220" cy="286.7" r="3.5" fill="#f3e646"/><circle class="pt" cx="210.6" cy="287.6" r="3.5" fill="#0b72b6"/>
<circle class="pt" cx="207.3" cy="289.7" r="3.5" fill="#f3e646"/><circle class="pt" cx="216.6" cy="290.9" r="3.5" fill="#0cf40c"/><circle class="pt" cx="221.7" cy="290.5" r="3.5" fill="#f3e646"/><circle class="pt" cx="207.9" cy="292.6" r="3.5" fill="#f3e646"/>
<circle class="pt" cx="212.3" cy="293.9" r="3.5" fill="#0b72b6"/><circle class="pt" cx="217.4" cy="295.6" r="3.5" fill="#f3e646"/><circle class="pt" cx="222.5" cy="297.7" r="3.5" fill="#f3e646"/><circle class="pt" cx="215.7" cy="298.1" r="3.5" fill="#f3e646"/>
<circle class="pt" cx="204.5" cy="301.5" r="3.5" fill="#f3e646"/><circle class="pt" cx="211.5" cy="301.1" r="3.5" fill="#f3e646"/><circle class="pt" cx="220.4" cy="302.4" r="3.5" fill="#d85e08"/><circle class="pt" cx="213.6" cy="303.6" r="3.5" fill="#f3e646"/>
<circle class="pt" cx="217.4" cy="301.5" r="3.5" fill="#f3e646"/><circle class="pt" cx="205.1" cy="308" r="3.5" fill="#0cf40c"/><circle class="pt" cx="216.4" cy="306.4" r="3.5" fill="#f3e646"/><circle class="pt" cx="224.9" cy="310.2" r="3.5" fill="#f3e646"/>
<circle class="pt" cx="214.7" cy="312.7" r="3.5" fill="#0cf40c"/><circle class="pt" cx="219" cy="314" r="3.5" fill="#d85e08"/><circle class="pt" cx="224.9" cy="316.1" r="3.5" fill="#f3e646"/><circle class="pt" cx="215.6" cy="316.9" r="3.5" fill="#0cf40c"/>
<circle class="pt" cx="228.3" cy="319.1" r="3.5" fill="#f3e646"/><circle class="pt" cx="224" cy="320.7" r="3.5" fill="#f3e646"/><circle class="pt" cx="217.3" cy="322.4" r="3.5" fill="#0b72b6"/><circle class="pt" cx="219.8" cy="324.1" r="3.5" fill="#f3e646"/>
<circle class="pt" cx="210.7" cy="325" r="3.5" fill="#0cf40c"/><circle class="pt" cx="222.3" cy="327.5" r="3.5" fill="#0b72b6"/><circle class="pt" cx="225.7" cy="325.4" r="3.5" fill="#0b72b6"/><circle class="pt" cx="207.8" cy="330.3" r="3.5" fill="#f3e646"/>
<circle class="pt" cx="219.8" cy="330.9" r="3.5" fill="#f3e646"/><circle class="pt" cx="215.6" cy="333.9" r="3.5" fill="#f3e646"/><circle class="pt" cx="220" cy="334.9" r="3.5" fill="#d85e08"/><circle class="pt" cx="208.4" cy="337.1" r="3.5" fill="#f3e646"/>
<circle class="pt" cx="218.1" cy="339.4" r="3.5" fill="#d85e08"/><circle class="pt" cx="212.6" cy="342.3" r="3.5" fill="#0cf40c"/><circle class="pt" cx="221.5" cy="344" r="3.5" fill="#f3e646"/><circle class="pt" cx="209.6" cy="346.1" r="3.5" fill="#f3e646"/>
<circle class="pt" cx="215.6" cy="348.7" r="3.5" fill="#d85e08"/><circle class="pt" cx="221.9" cy="348.7" r="3.5" fill="#0b72b6"/><circle class="pt" cx="206.1" cy="350" r="3.5" fill="#f3e646"/><circle class="pt" cx="208.8" cy="352.9" r="3.5" fill="#f3e646"/>
<circle class="pt" cx="214.7" cy="354.6" r="3.5" fill="#0cf40c"/><circle class="pt" cx="222.3" cy="352.5" r="3.5" fill="#0b72b6"/><circle class="pt" cx="224" cy="355.9" r="3.5" fill="#0b72b6"/><circle class="pt" cx="227.4" cy="352.5" r="3.5" fill="#0b72b6"/>
<circle class="pt" cx="230.8" cy="355" r="3.5" fill="#0b72b6"/><circle class="pt" cx="220.6" cy="358.8" r="3.5" fill="#f3e646"/><circle class="pt" cx="193.5" cy="355.5" r="3.5" fill="#0cf40c"/><circle class="pt" cx="202.2" cy="359.7" r="3.5" fill="#f3e646"/>
<circle class="pt" cx="208.1" cy="359.1" r="3.5" fill="#0cf40c"/><circle class="pt" cx="229.3" cy="360.1" r="3.5" fill="#0cf40c"/><circle class="pt" cx="227.4" cy="363.1" r="3.5" fill="#0cf40c"/><circle class="pt" cx="233.3" cy="363.5" r="3.5" fill="#0cf40c"/>
<circle class="pt" cx="224.9" cy="368.2" r="3.5" fill="#0cf40c"/><circle class="pt" cx="234.2" cy="369.9" r="3.5" fill="#0cf40c"/><circle class="pt" cx="242.2" cy="371.1" r="3.5" fill="#0b72b6"/><circle class="pt" cx="230.8" cy="370.3" r="3.5" fill="#0cf40c"/>
<circle class="pt" cx="229.1" cy="374.9" r="3.5" fill="#f3e646"/><circle class="pt" cx="230.8" cy="377.5" r="3.5" fill="#0cf40c"/><circle class="pt" cx="236.7" cy="376.2" r="3.5" fill="#d85e08"/><circle class="pt" cx="238.4" cy="373.7" r="3.5" fill="#f3e646"/>
<circle class="pt" cx="225.7" cy="378.6" r="3.5" fill="#0cf40c"/><circle class="pt" cx="231.2" cy="384.3" r="3.5" fill="#0cf40c"/><circle class="pt" cx="232.1" cy="387.6" r="3.5" fill="#f3e646"/><circle class="pt" cx="235.5" cy="387.6" r="3.5" fill="#d85e08"/>
<circle class="pt" cx="238.4" cy="383" r="3.5" fill="#f3e646"/><circle class="pt" cx="239.7" cy="386.4" r="3.5" fill="#f3e646"/><circle class="pt" cx="246" cy="388.5" r="3.5" fill="#0cf40c"/><circle class="pt" cx="239.8" cy="395.5" r="3.5" fill="#f3e646"/>
<circle class="pt" cx="245.3" cy="395.1" r="3.5" fill="#f3e646"/><circle class="pt" cx="253.6" cy="397.2" r="3.5" fill="#0b72b6"/><circle class="pt" cx="236.9" cy="401.9" r="3.5" fill="#f3e646"/><circle class="pt" cx="240.7" cy="401.4" r="3.5" fill="#f3e646"/>
<circle class="pt" cx="247" cy="402.3" r="3.5" fill="#f3e646"/><circle class="pt" cx="257.4" cy="403.5" r="3.5" fill="#0b72b6"/><circle class="pt" cx="261.4" cy="406.1" r="3.5" fill="#0b72b6"/><circle class="pt" cx="264.8" cy="405.7" r="3.5" fill="#0b72b6"/>
<circle class="pt" cx="242.4" cy="406.1" r="3.5" fill="#f3e646"/><circle class="pt" cx="248.7" cy="405.2" r="3.5" fill="#d85e08"/><circle class="pt" cx="244.1" cy="410.3" r="3.5" fill="#f3e646"/><circle class="pt" cx="252.9" cy="409.9" r="3.5" fill="#d85e08"/>
<circle class="pt" cx="259.7" cy="410.7" r="3.5" fill="#f3e646"/><circle class="pt" cx="269.6" cy="409.9" r="3.5" fill="#f3e646"/><circle class="pt" cx="248.7" cy="412.4" r="3.5" fill="#f3e646"/><circle class="pt" cx="264.8" cy="414.6" r="3.5" fill="#0b72b6"/>
<circle class="pt" cx="249.6" cy="419.6" r="3.5" fill="#f3e646"/><circle class="pt" cx="254.6" cy="417.9" r="3.5" fill="#0b72b6"/><circle class="pt" cx="256.3" cy="420.5" r="3.5" fill="#0b72b6"/><circle class="pt" cx="261.4" cy="421.8" r="3.5" fill="#0b72b6"/>
<circle class="pt" cx="267.8" cy="417.5" r="3.5" fill="#0b72b6"/><circle class="pt" cx="251.2" cy="424.7" r="3.5" fill="#0b72b6"/><circle class="pt" cx="256.8" cy="425.1" r="3.5" fill="#0b72b6"/><circle class="pt" cx="269.9" cy="423.9" r="3.5" fill="#f3e646"/>
<circle class="pt" cx="264.4" cy="423" r="3.5" fill="#f3e646"/><circle class="pt" cx="267.3" cy="429.4" r="3.5" fill="#0b72b6"/><circle class="pt" cx="261.4" cy="432.8" r="3.5" fill="#f3e646"/><circle class="pt" cx="252.9" cy="428.1" r="3.5" fill="#0b72b6"/>
<circle class="pt" cx="272.4" cy="430.6" r="3.5" fill="#0b72b6"/><circle class="pt" cx="275.8" cy="431.9" r="3.5" fill="#0b72b6"/><circle class="pt" cx="279.6" cy="427.3" r="3.5" fill="#d85e08"/><circle class="pt" cx="277.1" cy="424.7" r="3.5" fill="#f3e646"/>
<circle class="pt" cx="283.4" cy="433.2" r="3.5" fill="#f3e646"/><circle class="pt" cx="260.1" cy="438.4" r="3.5" fill="#f3e646"/><circle class="pt" cx="267.3" cy="438.9" r="3.5" fill="#f3e646"/><circle class="pt" cx="273.7" cy="438.3" r="3.5" fill="#f3e646"/>
<circle class="pt" cx="278.3" cy="438.3" r="3.5" fill="#f3e646"/><circle class="pt" cx="283.8" cy="440.4" r="3.5" fill="#f3e646"/><circle class="pt" cx="288.9" cy="442.5" r="3.5" fill="#f3e646"/><circle class="pt" cx="264.8" cy="442.5" r="3.5" fill="#d85e08"/>
<circle class="pt" cx="269.9" cy="444.2" r="3.5" fill="#0cf40c"/><circle class="pt" cx="269.9" cy="447.6" r="3.5" fill="#f3e646"/><circle class="pt" cx="276.2" cy="447.2" r="3.5" fill="#0b72b6"/><circle class="pt" cx="280.9" cy="445.9" r="3.5" fill="#0b72b6"/>
<circle class="pt" cx="282.6" cy="449.3" r="3.5" fill="#0b72b6"/><circle class="pt" cx="287.7" cy="451.4" r="3.5" fill="#0b72b6"/><circle class="pt" cx="293.2" cy="449.9" r="3.5" fill="#f3e646"/><circle class="pt" cx="297" cy="448.4" r="3.5" fill="#0b72b6"/>
<circle class="pt" cx="281.7" cy="452.7" r="3.5" fill="#f3e646"/><circle class="pt" cx="291" cy="457.7" r="3.5" fill="#d85e08"/><circle class="pt" cx="297.7" cy="460.3" r="3.5" fill="#d85e08"/><circle class="pt" cx="297" cy="455.2" r="3.5" fill="#0b72b6"/>
<circle class="pt" cx="306.3" cy="461.1" r="3.5" fill="#0cf40c"/><circle class="pt" cx="311.2" cy="462.4" r="3.5" fill="#d85e08"/><circle class="pt" cx="302.9" cy="463.7" r="3.5" fill="#0cf40c"/><circle class="pt" cx="299.5" cy="463.7" r="3.5" fill="#f3e646"/>
<circle class="pt" cx="301.6" cy="471.3" r="3.5" fill="#0cf40c"/><circle class="pt" cx="307.1" cy="470.4" r="3.5" fill="#0cf40c"/><circle class="pt" cx="293.4" cy="475.1" r="3.5" fill="#0cf40c"/><circle class="pt" cx="303.3" cy="475.5" r="3.5" fill="#0cf40c"/>
<circle class="pt" cx="310.5" cy="475.5" r="3.5" fill="#0cf40c"/><circle class="pt" cx="313.9" cy="481.9" r="3.5" fill="#0cf40c"/><circle class="pt" cx="318.1" cy="478.9" r="3.5" fill="#d85e08"/><circle class="pt" cx="301" cy="485.3" r="3.5" fill="#f3e646"/>
<circle class="pt" cx="320.7" cy="484.8" r="3.5" fill="#d85e08"/><circle class="pt" cx="323.2" cy="487.4" r="3.5" fill="#d85e08"/><circle class="pt" cx="329.7" cy="492.9" r="3.5" fill="#f3e646"/><circle class="pt" cx="322.9" cy="494.6" r="3.5" fill="#0cf40c"/>
<circle class="pt" cx="318.3" cy="494.1" r="3.5" fill="#d85e08"/><circle class="pt" cx="332.3" cy="499.2" r="3.5" fill="#d85e08"/><circle class="pt" cx="336.5" cy="499.6" r="3.5" fill="#d85e08"/><circle class="pt" cx="313.2" cy="501.3" r="3.5" fill="#f3e646"/>
<circle class="pt" cx="323.4" cy="502.2" r="3.5" fill="#f3e646"/><circle class="pt" cx="319.1" cy="504.7" r="3.5" fill="#0b72b6"/><circle class="pt" cx="325.3" cy="507.3" r="3.5" fill="#d85e08"/><circle class="pt" cx="331.6" cy="505.4" r="3.5" fill="#0cf40c"/>
<circle class="pt" cx="337.3" cy="506" r="3.5" fill="#0cf40c"/><circle class="pt" cx="343.3" cy="506.8" r="3.5" fill="#0cf40c"/><circle class="pt" cx="334.1" cy="510.8" r="3.5" fill="#0cf40c"/><circle class="pt" cx="321.7" cy="513.6" r="3.5" fill="#0cf40c"/>
<circle class="pt" cx="341.6" cy="514" r="3.5" fill="#f3e646"/><circle class="pt" cx="346.2" cy="514.2" r="3.5" fill="#0cf40c"/><circle class="pt" cx="350" cy="512.3" r="3.5" fill="#f3e646"/><circle class="pt" cx="357.2" cy="512.8" r="3.5" fill="#0b72b6"/>
<circle class="pt" cx="335.4" cy="518.1" r="3.5" fill="#0b72b6"/><circle class="pt" cx="329.7" cy="521.7" r="3.5" fill="#0cf40c"/><circle class="pt" cx="328.9" cy="526.3" r="3.5" fill="#d85e08"/><circle class="pt" cx="341.6" cy="520.8" r="3.5" fill="#d85e08"/>
<circle class="pt" cx="354.7" cy="518.3" r="3.5" fill="#0cf40c"/><circle class="pt" cx="360.6" cy="520.8" r="3.5" fill="#0b72b6"/><circle class="pt" cx="347.5" cy="522.1" r="3.5" fill="#0cf40c"/><circle class="pt" cx="354.3" cy="523.8" r="3.5" fill="#0b72b6"/>
<circle class="pt" cx="340.6" cy="525.7" r="3.5" fill="#0cf40c"/><circle class="pt" cx="336.5" cy="529.3" r="3.5" fill="#d85e08"/><circle class="pt" cx="333.5" cy="529.7" r="3.5" fill="#0cf40c"/><circle class="pt" cx="336.1" cy="534.4" r="3.5" fill="#f3e646"/>
<circle class="pt" cx="339.9" cy="533.9" r="3.5" fill="#f3e646"/><circle class="pt" cx="347.5" cy="526.7" r="3.5" fill="#f3e646"/><circle class="pt" cx="354.3" cy="527.5" r="3.5" fill="#0b72b6"/><circle class="pt" cx="360.7" cy="527.1" r="3.5" fill="#d85e08"/>
<circle class="pt" cx="348.4" cy="533.9" r="3.5" fill="#0cf40c"/><circle class="pt" cx="355.2" cy="532.2" r="3.5" fill="#d85e08"/><circle class="pt" cx="361.9" cy="532.6" r="3.5" fill="#f3e646"/><circle class="pt" cx="366.6" cy="536" r="3.5" fill="#0cf40c"/>
<circle class="pt" cx="379.5" cy="538.4" r="3.5" fill="#f3e646"/><circle class="pt" cx="372.9" cy="536.9" r="3.5" fill="#0b72b6"/><circle class="pt" cx="385.6" cy="539.4" r="3.5" fill="#0b72b6"/><circle class="pt" cx="346.7" cy="545.3" r="3.5" fill="#f3e646"/>
<circle class="pt" cx="353.5" cy="541.1" r="3.5" fill="#0b72b6"/><circle class="pt" cx="359" cy="542.8" r="3.5" fill="#f3e646"/><circle class="pt" cx="365.3" cy="543.2" r="3.5" fill="#f3e646"/><circle class="pt" cx="370" cy="540.7" r="3.5" fill="#f3e646"/>
<circle class="pt" cx="372.9" cy="545.3" r="3.5" fill="#f3e646"/><circle class="pt" cx="379.7" cy="548" r="3.5" fill="#0b72b6"/><circle class="pt" cx="384.8" cy="549.1" r="3.5" fill="#0b72b6"/><circle class="pt" cx="387.3" cy="543.2" r="3.5" fill="#0b72b6"/>
<circle class="pt" cx="391.6" cy="546.6" r="3.5" fill="#f3e646"/><circle class="pt" cx="397.1" cy="541.9" r="3.5" fill="#d85e08"/><circle class="pt" cx="400.9" cy="544.5" r="3.5" fill="#f3e646"/><circle class="pt" cx="404.3" cy="546.2" r="3.5" fill="#f3e646"/>
<circle class="pt" cx="408.1" cy="548.7" r="3.5" fill="#d85e08"/><circle class="pt" cx="409.4" cy="543.2" r="3.5" fill="#0b72b6"/><circle class="pt" cx="416.5" cy="548.3" r="3.5" fill="#f3e646"/><circle class="pt" cx="352.6" cy="548.7" r="3.5" fill="#f3e646"/>
<circle class="pt" cx="355.6" cy="553.4" r="3.5" fill="#0cf40c"/><circle class="pt" cx="361.9" cy="550.4" r="3.5" fill="#0b72b6"/><circle class="pt" cx="365.3" cy="551.2" r="3.5" fill="#0b72b6"/><circle class="pt" cx="369.6" cy="554.6" r="3.5" fill="#0cf40c"/>
<circle class="pt" cx="373.8" cy="552.9" r="3.5" fill="#d85e08"/><circle class="pt" cx="378.9" cy="552.1" r="3.5" fill="#0b72b6"/><circle class="pt" cx="361.1" cy="557.2" r="3.5" fill="#0cf40c"/><circle class="pt" cx="367.9" cy="560.1" r="3.5" fill="#f3e646"/>
<circle class="pt" cx="361.5" cy="561.4" r="3.5" fill="#0b72b6"/><circle class="pt" cx="374.6" cy="557.2" r="3.5" fill="#d85e08"/><circle class="pt" cx="381.4" cy="556.3" r="3.5" fill="#f3e646"/><circle class="pt" cx="385.6" cy="556.8" r="3.5" fill="#f3e646"/>
<circle class="pt" cx="395" cy="556.8" r="3.5" fill="#0cf40c"/><circle class="pt" cx="395.8" cy="552.9" r="3.5" fill="#f3e646"/><circle class="pt" cx="399.2" cy="553.8" r="3.5" fill="#f3e646"/><circle class="pt" cx="389" cy="556.3" r="3.5" fill="#f3e646"/>
<circle class="pt" cx="417.8" cy="557.2" r="3.5" fill="#f3e646"/><circle class="pt" cx="419.5" cy="559.7" r="3.5" fill="#0cf40c"/><circle class="pt" cx="417" cy="554.2" r="3.5" fill="#f3e646"/><circle class="pt" cx="426.3" cy="551.2" r="3.5" fill="#0cf40c"/>
<circle class="pt" cx="430.5" cy="551.2" r="3.5" fill="#f3e646"/><circle class="pt" cx="428" cy="557.6" r="3.5" fill="#f3e646"/><circle class="pt" cx="434.8" cy="552.9" r="3.5" fill="#f3e646"/><circle class="pt" cx="440.7" cy="552.9" r="3.5" fill="#0b72b6"/>
<circle class="pt" cx="438.1" cy="556.3" r="3.5" fill="#0b72b6"/><circle class="pt" cx="379.3" cy="562.3" r="3.5" fill="#0cf40c"/><circle class="pt" cx="385.6" cy="561.4" r="3.5" fill="#d85e08"/><circle class="pt" cx="391.6" cy="563.1" r="3.5" fill="#0b72b6"/>
<circle class="pt" cx="376.8" cy="566.5" r="3.5" fill="#0cf40c"/><circle class="pt" cx="382.3" cy="566.5" r="3.5" fill="#d85e08"/><circle class="pt" cx="364.6" cy="567.2" r="3.5" fill="#f3e646"/><circle class="pt" cx="388.6" cy="570.3" r="3.5" fill="#0b72b6"/>
<circle class="pt" cx="396.2" cy="565.5" r="3.5" fill="#0cf40c"/><circle class="pt" cx="407.2" cy="565.6" r="3.5" fill="#0cf40c"/><circle class="pt" cx="408.9" cy="562" r="3.5" fill="#d85e08"/><circle class="pt" cx="414" cy="565.2" r="3.5" fill="#f3e646"/>
<circle class="pt" cx="406.4" cy="569.5" r="3.5" fill="#0cf40c"/><circle class="pt" cx="400.5" cy="572" r="3.5" fill="#0cf40c"/><circle class="pt" cx="394.1" cy="572" r="3.5" fill="#0cf40c"/><circle class="pt" cx="419.1" cy="568.6" r="3.5" fill="#f3e646"/>
<circle class="pt" cx="414.4" cy="572" r="3.5" fill="#0cf40c"/><circle class="pt" cx="412.7" cy="569.9" r="3.5" fill="#0cf40c"/><circle class="pt" cx="425.9" cy="573.1" r="3.5" fill="#0cf40c"/><circle class="pt" cx="418.7" cy="574.1" r="3.5" fill="#f3e646"/>
<circle class="pt" cx="408.5" cy="575" r="3.5" fill="#f3e646"/><circle class="pt" cx="403.4" cy="574.1" r="3.5" fill="#d85e08"/><circle class="pt" cx="436.4" cy="562.3" r="3.5" fill="#f3e646"/><circle class="pt" cx="441.5" cy="561.4" r="3.5" fill="#f3e646"/>
<circle class="pt" cx="443.6" cy="560.6" r="3.5" fill="#f3e646"/><circle class="pt" cx="426.3" cy="567.3" r="3.5" fill="#0cf40c"/><circle class="pt" cx="431.4" cy="565.2" r="3.5" fill="#0cf40c"/><circle class="pt" cx="434.3" cy="568.6" r="3.5" fill="#f3e646"/>
<circle class="pt" cx="440.7" cy="568.9" r="3.5" fill="#0cf40c"/><circle class="pt" cx="371.1" cy="576.2" r="3.5" fill="#f3e646"/><circle class="pt" cx="373.6" cy="582.2" r="3.5" fill="#f3e646"/><circle class="pt" cx="384" cy="581.1" r="3.5" fill="#0cf40c"/>
<circle class="pt" cx="393.3" cy="578.3" r="3.5" fill="#f3e646"/><circle class="pt" cx="396.4" cy="578.3" r="3.5" fill="#f3e646"/><circle class="pt" cx="401.9" cy="577.5" r="3.5" fill="#0b72b6"/><circle class="pt" cx="408.1" cy="578.3" r="3.5" fill="#f3e646"/>
<circle class="pt" cx="417.8" cy="578.8" r="3.5" fill="#f3e646"/><circle class="pt" cx="414" cy="580.9" r="3.5" fill="#f3e646"/><circle class="pt" cx="399.2" cy="584.3" r="3.5" fill="#f3e646"/><circle class="pt" cx="404.3" cy="583.4" r="3.5" fill="#f3e646"/>
<circle class="pt" cx="407.7" cy="584.3" r="3.5" fill="#f3e646"/><circle class="pt" cx="419.5" cy="584.7" r="3.5" fill="#0cf40c"/><circle class="pt" cx="439" cy="578.5" r="3.5" fill="#f3e646"/><circle class="pt" cx="444.5" cy="580" r="3.5" fill="#0cf40c"/>
<circle class="pt" cx="393.3" cy="588.7" r="3.5" fill="#0cf40c"/><circle class="pt" cx="387.6" cy="592.1" r="3.5" fill="#d85e08"/><circle class="pt" cx="390.3" cy="594.4" r="3.5" fill="#0cf40c"/><circle class="pt" cx="403.4" cy="596.5" r="3.5" fill="#0cf40c"/>
<circle class="pt" cx="416.8" cy="594" r="3.5" fill="#0cf40c"/><circle class="pt" cx="414" cy="594" r="3.5" fill="#0cf40c"/><circle class="pt" cx="416" cy="600.5" r="3.5" fill="#d85e08"/><circle class="pt" cx="402.6" cy="603.3" r="3.5" fill="#0cf40c"/>
<circle class="pt" cx="413.2" cy="605.4" r="3.5" fill="#0cf40c"/><circle class="pt" cx="416.1" cy="610.9" r="3.5" fill="#0cf40c"/><circle class="pt" cx="427.1" cy="597" r="3.5" fill="#0cf40c"/><circle class="pt" cx="430.1" cy="594.4" r="3.5" fill="#0cf40c"/>
<circle class="pt" cx="432.2" cy="595.7" r="3.5" fill="#0cf40c"/><circle class="pt" cx="438.1" cy="592.7" r="3.5" fill="#0cf40c"/><circle class="pt" cx="441.5" cy="591.5" r="3.5" fill="#0cf40c"/><circle class="pt" cx="440.7" cy="587.7" r="3.5" fill="#0cf40c"/>
<circle class="pt" cx="441.5" cy="599.9" r="3.5" fill="#f3e646"/><circle class="pt" cx="440.7" cy="604.6" r="3.5" fill="#f3e646"/><circle class="pt" cx="438.1" cy="608" r="3.5" fill="#0cf40c"/><circle class="pt" cx="439.4" cy="612.2" r="3.5" fill="#0cf40c"/>
<circle class="pt" cx="444.1" cy="612.2" r="3.5" fill="#0cf40c"/><circle class="pt" cx="426.5" cy="614.3" r="3.5" fill="#0cf40c"/><circle class="pt" cx="410.4" cy="620.3" r="3.5" fill="#0cf40c"/><circle class="pt" cx="419.1" cy="618.6" r="3.5" fill="#0cf40c"/>
<circle class="pt" cx="424.2" cy="619" r="3.5" fill="#0cf40c"/><circle class="pt" cx="439" cy="616.9" r="3.5" fill="#0cf40c"/><circle class="pt" cx="439.4" cy="620.3" r="3.5" fill="#0cf40c"/><circle class="pt" cx="446.4" cy="560.8" r="3.5" fill="#f3e646"/>
<circle class="pt" cx="450.9" cy="565.9" r="3.5" fill="#f3e646"/><circle class="pt" cx="458.9" cy="563.4" r="3.5" fill="#f3e646"/><circle class="pt" cx="463.4" cy="565.1" r="3.5" fill="#f3e646"/><circle class="pt" cx="460.4" cy="569.7" r="3.5" fill="#f3e646"/>
<circle class="pt" cx="464.2" cy="573.5" r="3.5" fill="#0cf40c"/><circle class="pt" cx="468.9" cy="572.3" r="3.5" fill="#0cf40c"/><circle class="pt" cx="472.8" cy="577.3" r="3.5" fill="#f3e646"/><circle class="pt" cx="462.7" cy="579.2" r="3.5" fill="#0cf40c"/>
<circle class="pt" cx="453.2" cy="581.4" r="3.5" fill="#0cf40c"/><circle class="pt" cx="457.2" cy="582" r="3.5" fill="#f3e646"/><circle class="pt" cx="446.4" cy="579" r="3.5" fill="#0cf40c"/><circle class="pt" cx="449.4" cy="576.5" r="3.5" fill="#0cf40c"/>
<circle class="pt" cx="467" cy="584.8" r="3.5" fill="#0cf40c"/><circle class="pt" cx="482.6" cy="573.5" r="3.5" fill="#0b72b6"/><circle class="pt" cx="486.2" cy="578.2" r="3.5" fill="#0b72b6"/><circle class="pt" cx="474.4" cy="590.5" r="3.5" fill="#0cf40c"/>
<circle class="pt" cx="478.6" cy="590.5" r="3.5" fill="#0cf40c"/><circle class="pt" cx="485.6" cy="590.9" r="3.5" fill="#0cf40c"/><circle class="pt" cx="456" cy="594.7" r="3.5" fill="#f3e646"/><circle class="pt" cx="457.9" cy="598.9" r="3.5" fill="#f3e646"/>
<circle class="pt" cx="463.8" cy="596.4" r="3.5" fill="#f3e646"/><circle class="pt" cx="451.5" cy="600.2" r="3.5" fill="#0cf40c"/><circle class="pt" cx="462.5" cy="603.2" r="3.5" fill="#f3e646"/><circle class="pt" cx="467.6" cy="602.3" r="3.5" fill="#f3e646"/>
<circle class="pt" cx="451.9" cy="607.4" r="3.5" fill="#0cf40c"/><circle class="pt" cx="456.2" cy="601.9" r="3.5" fill="#f3e646"/><circle class="pt" cx="418.1" cy="629.6" r="3.5" fill="#0cf40c"/><circle class="pt" cx="438.4" cy="630.1" r="3.5" fill="#0cf40c"/>
<circle class="pt" cx="441.8" cy="632.6" r="3.5" fill="#0cf40c"/><circle class="pt" cx="431.2" cy="636.8" r="3.5" fill="#0cf40c"/><circle class="pt" cx="428.4" cy="640.6" r="3.5" fill="#0cf40c"/>
<rect class="lgb" x="372" y="86.1" width="129.3" height="295.1"/>
<text class="lgt" transform="translate(393.3 135) scale(1 1)">Error</text>
<rect class="key" x="393.1" y="155" width="29.8" height="205.2"/>
<circle class="pt" cx="408" cy="181.4" r="3.5" fill="#0b72b6"/><text class="lgt" transform="translate(437.9 191.8) scale(1 1)">TP</text>
<circle class="pt" cx="408" cy="232.4" r="3.5" fill="#d85e08"/><text class="lgt" transform="translate(437.9 242.8) scale(1 1)">FP</text>
<circle class="pt" cx="408" cy="283.1" r="3.5" fill="#0cf40c"/><text class="lgt" transform="translate(437.9 294.1) scale(1 1)">TN</text>
<circle class="pt" cx="408" cy="334.4" r="3.5" fill="#f3e646"/><text class="lgt" transform="translate(437.9 344.8) scale(1 1)">FN</text>
</g>
<rect class="bd" x="140.7" y="74.9" width="379.1" height="589.1"/>
<path class="tkl" d="M140.7 195.3h-11.6"/><text class="tk" transform="translate(120.5 209.8) scale(1 1)" text-anchor="end">45</text>
<path class="tkl" d="M140.7 357.1h-11.6"/><text class="tk" transform="translate(120.5 371.4) scale(1 1)" text-anchor="end">40</text>
<path class="tkl" d="M140.7 519h-11.6"/><text class="tk" transform="translate(120.5 533.4) scale(1 1)" text-anchor="end">35</text>
<path class="tkl" d="M196.8 664v11.6"/><text class="tk" transform="translate(197.3 713.1) scale(1 1)" text-anchor="middle">-125</text>
<path class="tkl" d="M387 664v11.6"/><text class="tk" transform="translate(387.5 713.1) scale(1 1)" text-anchor="middle">-120</text>
<text class="ax" transform="translate(330.2 761.3) scale(1 1.035)">Longitude (°W)</text>
<text class="ax" transform="translate(48 369.3) rotate(-90) scale(1 1.035)">Latitude (°N)</text>
</g>
<g id="panel-c" transform="translate(0 849)">
<text class="lab" transform="translate(15.3 50) scale(1 1.015)">c</text>
<text class="ttl" transform="translate(330.2 42.2) scale(1 1.035)">-NPGO ARS lkhd</text>
<g clip-path="url(#clip)">
<use href="#basemap"/>
<circle class="pt" cx="216.3" cy="340.4" r="3.5" fill="#fdaa6e"/><circle class="pt" cx="340.9" cy="516.6" r="3.5" fill="#3967f5"/><circle class="pt" cx="210.5" cy="296.1" r="3.5" fill="#fdaa6e"/><circle class="pt" cx="226.8" cy="355.1" r="3.5" fill="#fdaa6e"/>
<circle class="pt" cx="310.3" cy="489.5" r="3.5" fill="#fdaa6e"/><circle class="pt" cx="230.4" cy="362.4" r="3.5" fill="#2310d8"/><circle class="pt" cx="355.5" cy="545.6" r="3.5" fill="#fecb8b"/><circle class="pt" cx="351.1" cy="543.3" r="3.5" fill="#fdaa6e"/>
<circle class="pt" cx="311.4" cy="493.7" r="3.5" fill="#fdaa6e"/><circle class="pt" cx="262.1" cy="429.3" r="3.5" fill="#fffbd8"/><circle class="pt" cx="317.6" cy="506.1" r="3.5" fill="#ffe9b1"/><circle class="pt" cx="314.2" cy="488.1" r="3.5" fill="#ffe9b1"/>
<circle class="pt" cx="309.5" cy="468.3" r="3.5" fill="#ffe9b1"/><circle class="pt" cx="229.3" cy="366" r="3.5" fill="#fdaa6e"/><circle class="pt" cx="300.9" cy="466.3" r="3.5" fill="#fdaa6e"/><circle class="pt" cx="304.8" cy="484.9" r="3.5" fill="#ffe9b1"/>
<circle class="pt" cx="232.9" cy="370.3" r="3.5" fill="#2310d8"/><circle class="pt" cx="363.1" cy="544.5" r="3.5" fill="#fdaa6e"/><circle class="pt" cx="363.6" cy="533.9" r="3.5" fill="#fdffff"/><circle class="pt" cx="219.1" cy="337.5" r="3.5" fill="#ffe9b1"/>
<circle class="pt" cx="309.8" cy="477.1" r="3.5" fill="#ffe9b1"/><circle class="pt" cx="213" cy="302.7" r="3.5" fill="#fffbd8"/><circle class="pt" cx="352.7" cy="544.4" r="3.5" fill="#fecb8b"/><circle class="pt" cx="347.8" cy="521.5" r="3.5" fill="#d6fcff"/>
<circle class="pt" cx="236" cy="384.2" r="3.5" fill="#fecb8b"/><circle class="pt" cx="213.4" cy="309.7" r="3.5" fill="#fecb8b"/><circle class="pt" cx="234.9" cy="379.1" r="3.5" fill="#fecb8b"/><circle class="pt" cx="354.3" cy="524.6" r="3.5" fill="#fdaa6e"/>
<circle class="pt" cx="223.8" cy="317.4" r="3.5" fill="#fdaa6e"/><circle class="pt" cx="325.3" cy="509.1" r="3.5" fill="#fdaa6e"/><circle class="pt" cx="315.8" cy="503" r="3.5" fill="#fecb8b"/><circle class="pt" cx="306.9" cy="487.1" r="3.5" fill="#fdaa6e"/>
<circle class="pt" cx="222.1" cy="320.6" r="3.5" fill="#fdaa6e"/><circle class="pt" cx="309.8" cy="496.6" r="3.5" fill="#fecb8b"/><circle class="pt" cx="303.9" cy="492.6" r="3.5" fill="#fecb8b"/><circle class="pt" cx="232.8" cy="362.4" r="3.5" fill="#fdaa6e"/>
<circle class="pt" cx="313.1" cy="496.2" r="3.5" fill="#fecb8b"/><circle class="pt" cx="354.2" cy="538.6" r="3.5" fill="#fffbd8"/><circle class="pt" cx="320.7" cy="511.6" r="3.5" fill="#fdaa6e"/><circle class="pt" cx="216.8" cy="305.3" r="3.5" fill="#fdaa6e"/>
<circle class="pt" cx="214" cy="311.5" r="3.5" fill="#fffbd8"/><circle class="pt" cx="217.4" cy="321.2" r="3.5" fill="#fdaa6e"/><circle class="pt" cx="314.7" cy="501" r="3.5" fill="#ffe9b1"/><circle class="pt" cx="211.5" cy="339.6" r="3.5" fill="#fecb8b"/>
<circle class="pt" cx="259.6" cy="423.4" r="3.5" fill="#b1f2ff"/><circle class="pt" cx="319.4" cy="491.7" r="3.5" fill="#ffe9b1"/><circle class="pt" cx="346.9" cy="512.1" r="3.5" fill="#ffe9b1"/><circle class="pt" cx="213.1" cy="294.3" r="3.5" fill="#fdaa6e"/>
<circle class="pt" cx="232.5" cy="373.2" r="3.5" fill="#ffe9b1"/><circle class="pt" cx="222.6" cy="294.2" r="3.5" fill="#fdaa6e"/><circle class="pt" cx="347.6" cy="534" r="3.5" fill="#ffe9b1"/><circle class="pt" cx="216.7" cy="299.3" r="3.5" fill="#fffbd8"/>
<circle class="pt" cx="309.7" cy="471.6" r="3.5" fill="#ffe9b1"/><circle class="pt" cx="209.9" cy="306.4" r="3.5" fill="#fffbd8"/><circle class="pt" cx="348" cy="542.9" r="3.5" fill="#fdaa6e"/><circle class="pt" cx="215.9" cy="317.2" r="3.5" fill="#fecb8b"/>
<circle class="pt" cx="219.1" cy="332.7" r="3.5" fill="#fdaa6e"/><circle class="pt" cx="354.3" cy="533.5" r="3.5" fill="#ffe9b1"/><circle class="pt" cx="214.2" cy="315" r="3.5" fill="#fecb8b"/><circle class="pt" cx="217.5" cy="323.7" r="3.5" fill="#fdaa6e"/>
<circle class="pt" cx="222.2" cy="306.7" r="3.5" fill="#fdaa6e"/><circle class="pt" cx="311.5" cy="487.3" r="3.5" fill="#fdaa6e"/><circle class="pt" cx="305.4" cy="490.2" r="3.5" fill="#fdaa6e"/><circle class="pt" cx="316" cy="494.8" r="3.5" fill="#ffe9b1"/>
<circle class="pt" cx="239.3" cy="376.7" r="3.5" fill="#fdaa6e"/><circle class="pt" cx="341.8" cy="514.9" r="3.5" fill="#b1f2ff"/><circle class="pt" cx="317.4" cy="511.7" r="3.5" fill="#fecb8b"/><circle class="pt" cx="262.9" cy="427.5" r="3.5" fill="#b1f2ff"/>
<circle class="pt" cx="222.2" cy="314.6" r="3.5" fill="#fecb8b"/><circle class="pt" cx="230.2" cy="370.1" r="3.5" fill="#fdaa6e"/><circle class="pt" cx="348.2" cy="524.2" r="3.5" fill="#d6fcff"/><circle class="pt" cx="304.3" cy="487.8" r="3.5" fill="#fdaa6e"/>
<circle class="pt" cx="320.5" cy="487.3" r="3.5" fill="#ffe9b1"/><circle class="pt" cx="210.7" cy="292.4" r="3.5" fill="#fdaa6e"/><circle class="pt" cx="362.5" cy="548.8" r="3.5" fill="#fdaa6e"/><circle class="pt" cx="217.9" cy="293.1" r="3.5" fill="#fdaa6e"/>
<circle class="pt" cx="317.7" cy="496.3" r="3.5" fill="#ffe9b1"/><circle class="pt" cx="356.7" cy="538.5" r="3.5" fill="#fffbd8"/><circle class="pt" cx="349.5" cy="536.6" r="3.5" fill="#fffbd8"/><circle class="pt" cx="303.4" cy="471.4" r="3.5" fill="#ffe9b1"/>
<circle class="pt" cx="343.2" cy="518.1" r="3.5" fill="#3967f5"/><circle class="pt" cx="337.6" cy="518.4" r="3.5" fill="#3967f5"/><circle class="pt" cx="219.9" cy="313" r="3.5" fill="#fdaa6e"/><circle class="pt" cx="362" cy="541.8" r="3.5" fill="#fdaa6e"/>
<circle class="pt" cx="238.6" cy="378.8" r="3.5" fill="#fdaa6e"/><circle class="pt" cx="210.1" cy="336.1" r="3.5" fill="#fecb8b"/><circle class="pt" cx="344.7" cy="521.4" r="3.5" fill="#fdaa6e"/><circle class="pt" cx="209.7" cy="299.7" r="3.5" fill="#ffe9b1"/>
<circle class="pt" cx="311.4" cy="482.2" r="3.5" fill="#fdaa6e"/><circle class="pt" cx="220.5" cy="326.6" r="3.5" fill="#ffe9b1"/><circle class="pt" cx="307.5" cy="471" r="3.5" fill="#ffe9b1"/><circle class="pt" cx="312.6" cy="478.2" r="3.5" fill="#ffe9b1"/>
<circle class="pt" cx="308.5" cy="469.9" r="3.5" fill="#ffe9b1"/><circle class="pt" cx="350.5" cy="526.1" r="3.5" fill="#fdaa6e"/><circle class="pt" cx="310.6" cy="475.7" r="3.5" fill="#ffe9b1"/><circle class="pt" cx="223.5" cy="309.5" r="3.5" fill="#fecb8b"/>
<circle class="pt" cx="214.4" cy="318.3" r="3.5" fill="#ffe9b1"/><circle class="pt" cx="213.2" cy="337.3" r="3.5" fill="#fd724e"/><circle class="pt" cx="236.3" cy="371.6" r="3.5" fill="#fdaa6e"/><circle class="pt" cx="316.2" cy="490.1" r="3.5" fill="#ffe9b1"/>
<circle class="pt" cx="319.6" cy="494.3" r="3.5" fill="#ffe9b1"/><circle class="pt" cx="216.7" cy="302.6" r="3.5" fill="#fffbd8"/><circle class="pt" cx="307.7" cy="494" r="3.5" fill="#ffe9b1"/><circle class="pt" cx="210.7" cy="308" r="3.5" fill="#fecb8b"/>
<circle class="pt" cx="316.1" cy="483.4" r="3.5" fill="#fdaa6e"/><circle class="pt" cx="341.2" cy="511.4" r="3.5" fill="#ffe9b1"/><circle class="pt" cx="319.4" cy="498.9" r="3.5" fill="#ffe9b1"/><circle class="pt" cx="216.7" cy="309.8" r="3.5" fill="#fffbd8"/>
<circle class="pt" cx="217" cy="314.3" r="3.5" fill="#fecb8b"/><circle class="pt" cx="219.8" cy="306.2" r="3.5" fill="#fecb8b"/><circle class="pt" cx="219.1" cy="340" r="3.5" fill="#fecb8b"/><circle class="pt" cx="313.5" cy="494.4" r="3.5" fill="#ffe9b1"/>
<circle class="pt" cx="359.7" cy="541.6" r="3.5" fill="#fecb8b"/><circle class="pt" cx="216.1" cy="336.3" r="3.5" fill="#fd724e"/><circle class="pt" cx="236.2" cy="375.9" r="3.5" fill="#fdaa6e"/><circle class="pt" cx="343.7" cy="515.3" r="3.5" fill="#3967f5"/>
<circle class="pt" cx="228.9" cy="360.1" r="3.5" fill="#fdaa6e"/><circle class="pt" cx="219.9" cy="324.6" r="3.5" fill="#fecb8b"/><circle class="pt" cx="307.6" cy="477.3" r="3.5" fill="#fdaa6e"/><circle class="pt" cx="363.3" cy="535.1" r="3.5" fill="#fdffff"/>
<circle class="pt" cx="227.8" cy="357.4" r="3.5" fill="#fdaa6e"/><circle class="pt" cx="360.5" cy="533.8" r="3.5" fill="#fdffff"/><circle class="pt" cx="357.6" cy="535.5" r="3.5" fill="#fecb8b"/><circle class="pt" cx="220.1" cy="321.1" r="3.5" fill="#ffe9b1"/>
<circle class="pt" cx="307.3" cy="483.8" r="3.5" fill="#fdaa6e"/><circle class="pt" cx="309.6" cy="466.2" r="3.5" fill="#ffe9b1"/><circle class="pt" cx="219.7" cy="316.2" r="3.5" fill="#fdaa6e"/><circle class="pt" cx="308.5" cy="495.9" r="3.5" fill="#ffe9b1"/>
<circle class="pt" cx="358.9" cy="530.2" r="3.5" fill="#b1f2ff"/><circle class="pt" cx="213.4" cy="338.9" r="3.5" fill="#fecb8b"/><circle class="pt" cx="217.4" cy="331" r="3.5" fill="#fdaa6e"/><circle class="pt" cx="313.8" cy="484.6" r="3.5" fill="#fdaa6e"/>
<circle class="pt" cx="350.9" cy="523.2" r="3.5" fill="#fffbd8"/><circle class="pt" cx="357" cy="530.9" r="3.5" fill="#b1f2ff"/><circle class="pt" cx="348" cy="538.2" r="3.5" fill="#ffe9b1"/><circle class="pt" cx="235.2" cy="381.1" r="3.5" fill="#fecb8b"/>
<circle class="pt" cx="319.6" cy="485.5" r="3.5" fill="#fdffff"/><circle class="pt" cx="322.4" cy="510.2" r="3.5" fill="#ffe9b1"/><circle class="pt" cx="349.7" cy="540" r="3.5" fill="#fffbd8"/><circle class="pt" cx="222.8" cy="300.5" r="3.5" fill="#fecb8b"/>
<circle class="pt" cx="350.1" cy="520.4" r="3.5" fill="#7ccdfb"/><circle class="pt" cx="343.8" cy="511.5" r="3.5" fill="#b1f2ff"/><circle class="pt" cx="236.8" cy="370.1" r="3.5" fill="#fdaa6e"/><circle class="pt" cx="314.7" cy="502.2" r="3.5" fill="#fdaa6e"/>
<circle class="pt" cx="314.1" cy="491.3" r="3.5" fill="#ffe9b1"/><circle class="pt" cx="341.4" cy="520" r="3.5" fill="#ffe9b1"/><circle class="pt" cx="219.1" cy="301.8" r="3.5" fill="#ffe9b1"/><circle class="pt" cx="320" cy="502" r="3.5" fill="#ffe9b1"/>
<circle class="pt" cx="353.8" cy="526.5" r="3.5" fill="#fffbd8"/><circle class="pt" cx="363.5" cy="538.2" r="3.5" fill="#fdffff"/><circle class="pt" cx="357.5" cy="532.2" r="3.5" fill="#fecb8b"/><circle class="pt" cx="213.6" cy="298.6" r="3.5" fill="#fdaa6e"/>
<circle class="pt" cx="319.3" cy="505.1" r="3.5" fill="#ffe9b1"/><circle class="pt" cx="238.4" cy="381.8" r="3.5" fill="#fecb8b"/><circle class="pt" cx="216.4" cy="297.4" r="3.5" fill="#fdaa6e"/><circle class="pt" cx="304.2" cy="468.3" r="3.5" fill="#fdaa6e"/>
<circle class="pt" cx="358.8" cy="535.4" r="3.5" fill="#fdffff"/><circle class="pt" cx="350" cy="544.5" r="3.5" fill="#fdaa6e"/><circle class="pt" cx="238.6" cy="385.9" r="3.5" fill="#fdaa6e"/><circle class="pt" cx="315.8" cy="500.7" r="3.5" fill="#ffe9b1"/>
<circle class="pt" cx="307.6" cy="481.4" r="3.5" fill="#ffe9b1"/><circle class="pt" cx="306.9" cy="475.3" r="3.5" fill="#ffe9b1"/><circle class="pt" cx="223" cy="323.5" r="3.5" fill="#ffe9b1"/><circle class="pt" cx="355.7" cy="542.4" r="3.5" fill="#fecb8b"/>
<circle class="pt" cx="215.8" cy="312.5" r="3.5" fill="#fecb8b"/><circle class="pt" cx="358.9" cy="547.8" r="3.5" fill="#fecb8b"/><circle class="pt" cx="310.3" cy="485.5" r="3.5" fill="#fdaa6e"/><circle class="pt" cx="352.9" cy="542.5" r="3.5" fill="#fffbd8"/>
<circle class="pt" cx="242" cy="391.5" r="3.5" fill="#ffe9b1"/><circle class="pt" cx="360.7" cy="539.8" r="3.5" fill="#fecb8b"/><circle class="pt" cx="346.5" cy="536" r="3.5" fill="#ffe9b1"/><circle class="pt" cx="233.6" cy="376.3" r="3.5" fill="#fffbd8"/>
<circle class="pt" cx="314.3" cy="481.1" r="3.5" fill="#ffe9b1"/><circle class="pt" cx="337.7" cy="520.4" r="3.5" fill="#3967f5"/><circle class="pt" cx="259.9" cy="426.3" r="3.5" fill="#fdffff"/><circle class="pt" cx="218.9" cy="309.6" r="3.5" fill="#fecb8b"/>
<circle class="pt" cx="213.9" cy="305.7" r="3.5" fill="#fecb8b"/><circle class="pt" cx="346.2" cy="517.8" r="3.5" fill="#7ccdfb"/><circle class="pt" cx="223.3" cy="312.9" r="3.5" fill="#fecb8b"/><circle class="pt" cx="213.3" cy="296.3" r="3.5" fill="#ffe9b1"/>
<circle class="pt" cx="354" cy="535.8" r="3.5" fill="#fdffff"/><circle class="pt" cx="210.8" cy="333.7" r="3.5" fill="#fecb8b"/><circle class="pt" cx="219.7" cy="297.4" r="3.5" fill="#fdaa6e"/><circle class="pt" cx="239.8" cy="387.9" r="3.5" fill="#fdaa6e"/>
<circle class="pt" cx="360.3" cy="545.1" r="3.5" fill="#fdaa6e"/><circle class="pt" cx="347.8" cy="514.3" r="3.5" fill="#d6fcff"/><circle class="pt" cx="216.6" cy="328.5" r="3.5" fill="#fd724e"/><circle class="pt" cx="213.9" cy="334.1" r="3.5" fill="#fd724e"/>
<circle class="pt" cx="319.8" cy="497.8" r="3.5" fill="#fecb8b"/><circle class="pt" cx="322.3" cy="505.1" r="3.5" fill="#fdaa6e"/><circle class="pt" cx="219.9" cy="330.4" r="3.5" fill="#fdaa6e"/><circle class="pt" cx="317.8" cy="488.5" r="3.5" fill="#fdffff"/>
<circle class="pt" cx="306.4" cy="490.8" r="3.5" fill="#fecb8b"/><circle class="pt" cx="220.4" cy="293" r="3.5" fill="#fdaa6e"/><circle class="pt" cx="220.1" cy="318.6" r="3.5" fill="#fecb8b"/><circle class="pt" cx="353.7" cy="530" r="3.5" fill="#fecb8b"/>
<circle class="pt" cx="222.5" cy="327.3" r="3.5" fill="#fecb8b"/><circle class="pt" cx="216.1" cy="333.2" r="3.5" fill="#fd724e"/><circle class="pt" cx="222.8" cy="301.9" r="3.5" fill="#fffbd8"/><circle class="pt" cx="320.2" cy="508.8" r="3.5" fill="#fecb8b"/>
<circle class="pt" cx="349.5" cy="533" r="3.5" fill="#ffe9b1"/><circle class="pt" cx="210.8" cy="301.8" r="3.5" fill="#ffe9b1"/><circle class="pt" cx="220.4" cy="298.9" r="3.5" fill="#fdaa6e"/><circle class="pt" cx="349.9" cy="516.4" r="3.5" fill="#7ccdfb"/>
<circle class="pt" cx="233.9" cy="367.1" r="3.5" fill="#fdaa6e"/><circle class="pt" cx="349.8" cy="529.1" r="3.5" fill="#fecb8b"/><circle class="pt" cx="224.5" cy="172" r="3.5" fill="#3967f5"/><circle class="pt" cx="207.1" cy="203.5" r="3.5" fill="#fdffff"/>
<circle class="pt" cx="225" cy="217.4" r="3.5" fill="#d6fcff"/><circle class="pt" cx="200.9" cy="247.8" r="3.5" fill="#fffbd8"/><circle class="pt" cx="212.7" cy="245.9" r="3.5" fill="#fdaa6e"/><circle class="pt" cx="214.4" cy="255.2" r="3.5" fill="#fdaa6e"/>
<circle class="pt" cx="218" cy="258" r="3.5" fill="#fffbd8"/><circle class="pt" cx="201.3" cy="274.8" r="3.5" fill="#fdaa6e"/><circle class="pt" cx="210.6" cy="278.7" r="3.5" fill="#fd724e"/><circle class="pt" cx="214.9" cy="275.5" r="3.5" fill="#fdaa6e"/>
<circle class="pt" cx="216.8" cy="280.6" r="3.5" fill="#fdaa6e"/><circle class="pt" cx="216.5" cy="287.8" r="3.5" fill="#fdaa6e"/><circle class="pt" cx="212.3" cy="292.5" r="3.5" fill="#fdaa6e"/><circle class="pt" cx="219.3" cy="294.8" r="3.5" fill="#fdaa6e"/>
<circle class="pt" cx="224.8" cy="292.3" r="3.5" fill="#fdaa6e"/><circle class="pt" cx="212.1" cy="303.1" r="3.5" fill="#ffe9b1"/><circle class="pt" cx="207.3" cy="304.4" r="3.5" fill="#ffe9b1"/><circle class="pt" cx="216.3" cy="305" r="3.5" fill="#fffbd8"/>
<circle class="pt" cx="224.1" cy="307.3" r="3.5" fill="#fecb8b"/><circle class="pt" cx="208.3" cy="311.7" r="3.5" fill="#fffbd8"/><circle class="pt" cx="218.4" cy="311.3" r="3.5" fill="#fdaa6e"/><circle class="pt" cx="213.6" cy="311.3" r="3.5" fill="#fecb8b"/>
<circle class="pt" cx="223.9" cy="315.8" r="3.5" fill="#fecb8b"/><circle class="pt" cx="210.8" cy="317.4" r="3.5" fill="#fdaa6e"/><circle class="pt" cx="218.4" cy="319" r="3.5" fill="#fdaa6e"/><circle class="pt" cx="219.1" cy="323.4" r="3.5" fill="#ffe9b1"/>
<circle class="pt" cx="222.9" cy="324" r="3.5" fill="#fecb8b"/><circle class="pt" cx="218.2" cy="329.1" r="3.5" fill="#fdaa6e"/><circle class="pt" cx="215.9" cy="334" r="3.5" fill="#fd724e"/><circle class="pt" cx="222.6" cy="332.7" r="3.5" fill="#fdaa6e"/>
<circle class="pt" cx="228.2" cy="327.6" r="3.5" fill="#fd724e"/><circle class="pt" cx="223.5" cy="336.7" r="3.5" fill="#ffe9b1"/><circle class="pt" cx="217.2" cy="336.7" r="3.5" fill="#fdaa6e"/><circle class="pt" cx="210.8" cy="337.6" r="3.5" fill="#fecb8b"/>
<circle class="pt" cx="207" cy="341.8" r="3.5" fill="#fecb8b"/><circle class="pt" cx="210.8" cy="341.2" r="3.5" fill="#fecb8b"/><circle class="pt" cx="216.5" cy="342.8" r="3.5" fill="#fecb8b"/><circle class="pt" cx="219.7" cy="344.4" r="3.5" fill="#fdaa6e"/>
<circle class="pt" cx="212.7" cy="348.2" r="3.5" fill="#fdaa6e"/><circle class="pt" cx="223.1" cy="349.4" r="3.5" fill="#fdaa6e"/><circle class="pt" cx="224.9" cy="352.3" r="3.5" fill="#fdaa6e"/><circle class="pt" cx="226.2" cy="356.7" r="3.5" fill="#fecb8b"/>
<circle class="pt" cx="223.3" cy="363.3" r="3.5" fill="#fecb8b"/><circle class="pt" cx="228.5" cy="364.3" r="3.5" fill="#fdaa6e"/><circle class="pt" cx="235.5" cy="365" r="3.5" fill="#2310d8"/><circle class="pt" cx="235.1" cy="370.7" r="3.5" fill="#fdaa6e"/>
<circle class="pt" cx="238.9" cy="374.2" r="3.5" fill="#fdaa6e"/><circle class="pt" cx="230" cy="375.1" r="3.5" fill="#fdffff"/><circle class="pt" cx="230.4" cy="377.7" r="3.5" fill="#ffe9b1"/><circle class="pt" cx="237" cy="378.3" r="3.5" fill="#fffbd8"/>
<circle class="pt" cx="241.4" cy="381.5" r="3.5" fill="#ffe9b1"/><circle class="pt" cx="235.1" cy="382.1" r="3.5" fill="#fecb8b"/><circle class="pt" cx="235.7" cy="385" r="3.5" fill="#fdaa6e"/><circle class="pt" cx="240.8" cy="389.1" r="3.5" fill="#fdaa6e"/>
<circle class="pt" cx="243.3" cy="391.6" r="3.5" fill="#fecb8b"/><circle class="pt" cx="240.2" cy="395.5" r="3.5" fill="#ffe9b1"/><circle class="pt" cx="243.1" cy="399.5" r="3.5" fill="#ffe9b1"/><circle class="pt" cx="246.8" cy="403.7" r="3.5" fill="#fecb8b"/>
<circle class="pt" cx="255" cy="403.3" r="3.5" fill="#fecb8b"/><circle class="pt" cx="255" cy="416.4" r="3.5" fill="#ffe9b1"/><circle class="pt" cx="256" cy="421.5" r="3.5" fill="#ffe9b1"/><circle class="pt" cx="256" cy="427.2" r="3.5" fill="#ffe9b1"/>
<circle class="pt" cx="264.9" cy="424.7" r="3.5" fill="#fdffff"/><circle class="pt" cx="259.9" cy="426.6" r="3.5" fill="#b1f2ff"/><circle class="pt" cx="270.3" cy="428.7" r="3.5" fill="#b1f2ff"/><circle class="pt" cx="264.9" cy="431" r="3.5" fill="#fffbd8"/>
<circle class="pt" cx="259.9" cy="434.2" r="3.5" fill="#fdaa6e"/><circle class="pt" cx="272.8" cy="434.8" r="3.5" fill="#ffe9b1"/><circle class="pt" cx="278.9" cy="439.3" r="3.5" fill="#b1f2ff"/><circle class="pt" cx="282.7" cy="438.6" r="3.5" fill="#ffe9b1"/>
<circle class="pt" cx="279.3" cy="434.6" r="3.5" fill="#a80024"/><circle class="pt" cx="272.3" cy="446.3" r="3.5" fill="#ffe9b1"/><circle class="pt" cx="289.1" cy="450.1" r="3.5" fill="#ffe9b1"/><circle class="pt" cx="295.2" cy="451.6" r="3.5" fill="#fecb8b"/>
<circle class="pt" cx="291" cy="455.5" r="3.5" fill="#ffe9b1"/><circle class="pt" cx="299.2" cy="459.6" r="3.5" fill="#ffe9b1"/><circle class="pt" cx="293.8" cy="470.3" r="3.5" fill="#d6fcff"/><circle class="pt" cx="295.9" cy="464" r="3.5" fill="#fdaa6e"/>
<circle class="pt" cx="299.7" cy="464.4" r="3.5" fill="#fdaa6e"/><circle class="pt" cx="302.7" cy="466.5" r="3.5" fill="#fecb8b"/><circle class="pt" cx="309.1" cy="463.5" r="3.5" fill="#ffe9b1"/><circle class="pt" cx="311.2" cy="466.1" r="3.5" fill="#ffe9b1"/>
<circle class="pt" cx="307.8" cy="469.9" r="3.5" fill="#ffe9b1"/><circle class="pt" cx="312.4" cy="467.8" r="3.5" fill="#ffe9b1"/><circle class="pt" cx="312.4" cy="472" r="3.5" fill="#ffe9b1"/><circle class="pt" cx="299.7" cy="477.1" r="3.5" fill="#fdaa6e"/>
<circle class="pt" cx="307.4" cy="476.2" r="3.5" fill="#fdaa6e"/><circle class="pt" cx="306.9" cy="480.5" r="3.5" fill="#ffe9b1"/><circle class="pt" cx="312.4" cy="480.3" r="3.5" fill="#ffe9b1"/><circle class="pt" cx="316.2" cy="478.8" r="3.5" fill="#ffe9b1"/>
<circle class="pt" cx="315.4" cy="481.3" r="3.5" fill="#ffe9b1"/><circle class="pt" cx="320.9" cy="485.6" r="3.5" fill="#fdffff"/><circle class="pt" cx="323.4" cy="486.4" r="3.5" fill="#fffbd8"/><circle class="pt" cx="328.1" cy="485.3" r="3.5" fill="#ffe9b1"/>
<circle class="pt" cx="303.1" cy="484.7" r="3.5" fill="#fdaa6e"/><circle class="pt" cx="304.4" cy="487.2" r="3.5" fill="#fecb8b"/><circle class="pt" cx="309.9" cy="489.4" r="3.5" fill="#fdaa6e"/><circle class="pt" cx="313.3" cy="486.4" r="3.5" fill="#fdaa6e"/>
<circle class="pt" cx="315.4" cy="489.8" r="3.5" fill="#ffe9b1"/><circle class="pt" cx="318.8" cy="491.5" r="3.5" fill="#ffe9b1"/><circle class="pt" cx="321.8" cy="490.2" r="3.5" fill="#ffe9b1"/><circle class="pt" cx="304" cy="493.6" r="3.5" fill="#ffe9b1"/>
<circle class="pt" cx="305.2" cy="497.4" r="3.5" fill="#fecb8b"/><circle class="pt" cx="314.1" cy="494.9" r="3.5" fill="#fecb8b"/><circle class="pt" cx="312" cy="500.4" r="3.5" fill="#fdaa6e"/><circle class="pt" cx="317.9" cy="499.1" r="3.5" fill="#ffe9b1"/>
<circle class="pt" cx="322.2" cy="499.1" r="3.5" fill="#ffe9b1"/><circle class="pt" cx="325.6" cy="501.6" r="3.5" fill="#fecb8b"/><circle class="pt" cx="330.6" cy="497.8" r="3.5" fill="#fdffff"/><circle class="pt" cx="331.9" cy="500.4" r="3.5" fill="#fdffff"/>
<circle class="pt" cx="331.9" cy="504.2" r="3.5" fill="#fffbd8"/><circle class="pt" cx="316.2" cy="505.9" r="3.5" fill="#fecb8b"/><circle class="pt" cx="318.8" cy="507.6" r="3.5" fill="#ffe9b1"/><circle class="pt" cx="325.6" cy="505.5" r="3.5" fill="#fdaa6e"/>
<circle class="pt" cx="324.3" cy="511.8" r="3.5" fill="#fdaa6e"/><circle class="pt" cx="317.9" cy="511.8" r="3.5" fill="#fecb8b"/><circle class="pt" cx="316.2" cy="514.3" r="3.5" fill="#fecb8b"/><circle class="pt" cx="328.1" cy="509.3" r="3.5" fill="#fecb8b"/>
<circle class="pt" cx="337.4" cy="505.9" r="3.5" fill="#d6fcff"/><circle class="pt" cx="338.3" cy="512.2" r="3.5" fill="#b1f2ff"/><circle class="pt" cx="346.7" cy="510.1" r="3.5" fill="#b1f2ff"/><circle class="pt" cx="349.7" cy="515.2" r="3.5" fill="#7ccdfb"/>
<circle class="pt" cx="342.5" cy="515.6" r="3.5" fill="#ffe9b1"/><circle class="pt" cx="346.7" cy="519.4" r="3.5" fill="#d6fcff"/><circle class="pt" cx="327.3" cy="518.6" r="3.5" fill="#fecb8b"/><circle class="pt" cx="329" cy="523.7" r="3.5" fill="#ffe9b1"/>
<circle class="pt" cx="332.3" cy="517.9" r="3.5" fill="#fdaa6e"/><circle class="pt" cx="337.8" cy="520.3" r="3.5" fill="#ffe9b1"/><circle class="pt" cx="342.5" cy="520.7" r="3.5" fill="#3967f5"/><circle class="pt" cx="340.8" cy="524.5" r="3.5" fill="#b1f2ff"/>
<circle class="pt" cx="353.1" cy="520.7" r="3.5" fill="#fffbd8"/><circle class="pt" cx="324.7" cy="526.6" r="3.5" fill="#fdffff"/><circle class="pt" cx="328.1" cy="532.1" r="3.5" fill="#7ccdfb"/><circle class="pt" cx="331.5" cy="528.7" r="3.5" fill="#fdffff"/>
<circle class="pt" cx="346.3" cy="524.5" r="3.5" fill="#fdaa6e"/><circle class="pt" cx="349.3" cy="528.7" r="3.5" fill="#fdaa6e"/><circle class="pt" cx="346.7" cy="530.4" r="3.5" fill="#fecb8b"/><circle class="pt" cx="356" cy="532.1" r="3.5" fill="#fecb8b"/>
<circle class="pt" cx="352.7" cy="532.5" r="3.5" fill="#ffe9b1"/><circle class="pt" cx="362" cy="529.6" r="3.5" fill="#fdffff"/><circle class="pt" cx="363.7" cy="533" r="3.5" fill="#fdffff"/><circle class="pt" cx="358.6" cy="528.3" r="3.5" fill="#b1f2ff"/>
<circle class="pt" cx="338.3" cy="537.6" r="3.5" fill="#ffe9b1"/><circle class="pt" cx="345.5" cy="536.4" r="3.5" fill="#7ccdfb"/><circle class="pt" cx="348.4" cy="536.4" r="3.5" fill="#ffe9b1"/><circle class="pt" cx="352.7" cy="538.1" r="3.5" fill="#fffbd8"/>
<circle class="pt" cx="357.7" cy="536.4" r="3.5" fill="#fdffff"/><circle class="pt" cx="367.9" cy="541" r="3.5" fill="#ffe9b1"/><circle class="pt" cx="370.9" cy="541.9" r="3.5" fill="#fa3e3d"/><circle class="pt" cx="370" cy="536.8" r="3.5" fill="#b1f2ff"/>
<circle class="pt" cx="343.3" cy="539.7" r="3.5" fill="#fdaa6e"/><circle class="pt" cx="345.9" cy="541.4" r="3.5" fill="#fecb8b"/><circle class="pt" cx="352.2" cy="542.3" r="3.5" fill="#fdaa6e"/><circle class="pt" cx="357.7" cy="541.4" r="3.5" fill="#fecb8b"/>
<circle class="pt" cx="362" cy="543.1" r="3.5" fill="#fdaa6e"/><circle class="pt" cx="348.4" cy="545.7" r="3.5" fill="#fecb8b"/><circle class="pt" cx="354.4" cy="546.5" r="3.5" fill="#fecb8b"/><circle class="pt" cx="359.4" cy="546.5" r="3.5" fill="#fdaa6e"/>
<circle class="pt" cx="362" cy="550.8" r="3.5" fill="#fecb8b"/><circle class="pt" cx="353.5" cy="550.3" r="3.5" fill="#fdaa6e"/><circle class="pt" cx="364.5" cy="548.6" r="3.5" fill="#fdaa6e"/><circle class="pt" cx="372.1" cy="547.4" r="3.5" fill="#3967f5"/>
<circle class="pt" cx="370.9" cy="548.6" r="3.5" fill="#b1f2ff"/><circle class="pt" cx="370.4" cy="552.9" r="3.5" fill="#fdaa6e"/><circle class="pt" cx="356" cy="552.9" r="3.5" fill="#fdffff"/><circle class="pt" cx="370" cy="558.4" r="3.5" fill="#ffe9b1"/>
<circle class="pt" cx="375.5" cy="558.4" r="3.5" fill="#ffe9b1"/><circle class="pt" cx="370.1" cy="583.4" r="3.5" fill="#fecb8b"/><circle class="pt" cx="380.6" cy="555.9" r="3.5" fill="#fdaa6e"/><circle class="pt" cx="384.4" cy="561.4" r="3.5" fill="#b1f2ff"/>
<circle class="pt" cx="387.9" cy="557.6" r="3.5" fill="#b1f2ff"/><circle class="pt" cx="398.7" cy="555" r="3.5" fill="#fffbd8"/><circle class="pt" cx="412.8" cy="550" r="3.5" fill="#b1f2ff"/><circle class="pt" cx="408.5" cy="564.2" r="3.5" fill="#b1f2ff"/>
<circle class="pt" cx="419.4" cy="563.9" r="3.5" fill="#fdaa6e"/><circle class="pt" cx="431.1" cy="563.2" r="3.5" fill="#b1f2ff"/><circle class="pt" cx="436.5" cy="562.7" r="3.5" fill="#b1f2ff"/><circle class="pt" cx="439.1" cy="562.3" r="3.5" fill="#b1f2ff"/>
<circle class="pt" cx="444.1" cy="563.8" r="3.5" fill="#7ccdfb"/><circle class="pt" cx="415.8" cy="571.8" r="3.5" fill="#b1f2ff"/><circle class="pt" cx="426.7" cy="571.2" r="3.5" fill="#d6fcff"/><circle class="pt" cx="434.6" cy="575.4" r="3.5" fill="#2310d8"/>
<circle class="pt" cx="455.7" cy="569.3" r="3.5" fill="#3967f5"/><circle class="pt" cx="399.4" cy="581.3" r="3.5" fill="#ffe9b1"/><circle class="pt" cx="415.6" cy="580.7" r="3.5" fill="#3967f5"/><circle class="pt" cx="448.6" cy="586.4" r="3.5" fill="#d6fcff"/>
<circle class="pt" cx="446" cy="583.2" r="3.5" fill="#3967f5"/><circle class="pt" cx="394.4" cy="590.9" r="3.5" fill="#b1f2ff"/><circle class="pt" cx="402" cy="593.1" r="3.5" fill="#7ccdfb"/><circle class="pt" cx="474.6" cy="586" r="3.5" fill="#3967f5"/>
<circle class="pt" cx="469.5" cy="595.1" r="3.5" fill="#fdffff"/><circle class="pt" cx="478.8" cy="595.7" r="3.5" fill="#2310d8"/><circle class="pt" cx="425.7" cy="602.3" r="3.5" fill="#fdffff"/><circle class="pt" cx="423.2" cy="604.2" r="3.5" fill="#b1f2ff"/>
<circle class="pt" cx="424.5" cy="601.7" r="3.5" fill="#b1f2ff"/><circle class="pt" cx="422.6" cy="608.6" r="3.5" fill="#b1f2ff"/><circle class="pt" cx="413.7" cy="613.7" r="3.5" fill="#3967f5"/><circle class="pt" cx="415.6" cy="616.3" r="3.5" fill="#3967f5"/>
<circle class="pt" cx="425.1" cy="615.6" r="3.5" fill="#b1f2ff"/><circle class="pt" cx="425.1" cy="619.4" r="3.5" fill="#b1f2ff"/><circle class="pt" cx="420.6" cy="619.4" r="3.5" fill="#3967f5"/><circle class="pt" cx="440" cy="635.3" r="3.5" fill="#b1f2ff"/>
<rect class="lgb" x="362.5" y="86.1" width="148.7" height="295.1"/>
<text class="lgt" transform="translate(384.3 135) scale(1 1)">ARS</text>
<text class="lgt" transform="translate(383.6 168.8) scale(1 0.985)">lkhd</text>
<rect x="383.9" y="190" width="28.5" height="169.8" fill="url(#ars)"/>
<path class="ct" d="M383.9 194.2h5.7M412.4 194.2h-5.7"/><text class="lgt" transform="translate(427.6 205.1) scale(1 0.985)">1.00</text>
<path class="ct" d="M383.9 235.9h5.7M412.4 235.9h-5.7"/><text class="lgt" transform="translate(427.6 246.2) scale(1 0.985)">0.75</text>
<path class="ct" d="M383.9 277h5.7M412.4 277h-5.7"/><text class="lgt" transform="translate(427.6 287.3) scale(1 0.985)">0.50</text>
<path class="ct" d="M383.9 318.7h5.7M412.4 318.7h-5.7"/><text class="lgt" transform="translate(427.6 329.4) scale(1 0.985)">0.25</text>
</g>
<rect class="bd" x="140.7" y="74.9" width="379.1" height="589.1"/>
<path class="tkl" d="M140.7 195.3h-11.6"/><text class="tk" transform="translate(120.5 209.8) scale(1 1)" text-anchor="end">45</text>
<path class="tkl" d="M140.7 357.1h-11.6"/><text class="tk" transform="translate(120.5 371.4) scale(1 1)" text-anchor="end">40</text>
<path class="tkl" d="M140.7 519h-11.6"/><text class="tk" transform="translate(120.5 533.4) scale(1 1)" text-anchor="end">35</text>
<path class="tkl" d="M196.8 664v11.6"/><text class="tk" transform="translate(197.3 713.1) scale(1 1)" text-anchor="middle">-125</text>
<path class="tkl" d="M387 664v11.6"/><text class="tk" transform="translate(387.5 713.1) scale(1 1)" text-anchor="middle">-120</text>
<text class="ax" transform="translate(330.2 761.3) scale(1 1.035)">Longitude (°W)</text>
<text class="ax" transform="translate(48 369.3) rotate(-90) scale(1 1.035)">Latitude (°N)</text>
</g>
<g id="panel-d" transform="translate(657.9 849)">
<text class="lab" transform="translate(21 49.6) scale(1 0.97)">d</text>
<text class="ttl" transform="translate(330.2 42.2) scale(1 1.035)">-NPGO Class. Error</text>
<g clip-path="url(#clip)">
<use href="#basemap"/>
<circle class="pt" cx="216.3" cy="340.4" r="3.5" fill="#0b72b6"/><circle class="pt" cx="340.9" cy="516.6" r="3.5" fill="#0cf40c"/><circle class="pt" cx="210.5" cy="296.1" r="3.5" fill="#0b72b6"/><circle class="pt" cx="226.8" cy="355.1" r="3.5" fill="#0b72b6"/>
<circle class="pt" cx="310.3" cy="489.5" r="3.5" fill="#0b72b6"/><circle class="pt" cx="230.4" cy="362.4" r="3.5" fill="#f3e646"/><circle class="pt" cx="355.5" cy="545.6" r="3.5" fill="#0b72b6"/><circle class="pt" cx="351.1" cy="543.3" r="3.5" fill="#d85e08"/>
<circle class="pt" cx="311.4" cy="493.7" r="3.5" fill="#0b72b6"/><circle class="pt" cx="262.1" cy="429.3" r="3.5" fill="#f3e646"/><circle class="pt" cx="317.6" cy="506.1" r="3.5" fill="#f3e646"/><circle class="pt" cx="314.2" cy="488.1" r="3.5" fill="#d85e08"/>
<circle class="pt" cx="309.5" cy="468.3" r="3.5" fill="#0cf40c"/><circle class="pt" cx="229.3" cy="366" r="3.5" fill="#d85e08"/><circle class="pt" cx="300.9" cy="466.3" r="3.5" fill="#d85e08"/><circle class="pt" cx="304.8" cy="484.9" r="3.5" fill="#f3e646"/>
<circle class="pt" cx="232.9" cy="370.3" r="3.5" fill="#f3e646"/><circle class="pt" cx="363.1" cy="544.5" r="3.5" fill="#0b72b6"/><circle class="pt" cx="363.6" cy="533.9" r="3.5" fill="#f3e646"/><circle class="pt" cx="219.1" cy="337.5" r="3.5" fill="#0b72b6"/>
<circle class="pt" cx="309.8" cy="477.1" r="3.5" fill="#f3e646"/><circle class="pt" cx="213" cy="302.7" r="3.5" fill="#f3e646"/><circle class="pt" cx="352.7" cy="544.4" r="3.5" fill="#d85e08"/><circle class="pt" cx="347.8" cy="521.5" r="3.5" fill="#0cf40c"/>
<circle class="pt" cx="236" cy="384.2" r="3.5" fill="#d85e08"/><circle class="pt" cx="213.4" cy="309.7" r="3.5" fill="#0cf40c"/><circle class="pt" cx="234.9" cy="379.1" r="3.5" fill="#d85e08"/><circle class="pt" cx="354.3" cy="524.6" r="3.5" fill="#f3e646"/>
<circle class="pt" cx="223.8" cy="317.4" r="3.5" fill="#d85e08"/><circle class="pt" cx="325.3" cy="509.1" r="3.5" fill="#d85e08"/><circle class="pt" cx="315.8" cy="503" r="3.5" fill="#d85e08"/><circle class="pt" cx="306.9" cy="487.1" r="3.5" fill="#0b72b6"/>
<circle class="pt" cx="222.1" cy="320.6" r="3.5" fill="#0b72b6"/><circle class="pt" cx="309.8" cy="496.6" r="3.5" fill="#0b72b6"/><circle class="pt" cx="303.9" cy="492.6" r="3.5" fill="#0b72b6"/><circle class="pt" cx="232.8" cy="362.4" r="3.5" fill="#f3e646"/>
<circle class="pt" cx="313.1" cy="496.2" r="3.5" fill="#0b72b6"/><circle class="pt" cx="354.2" cy="538.6" r="3.5" fill="#f3e646"/><circle class="pt" cx="320.7" cy="511.6" r="3.5" fill="#d85e08"/><circle class="pt" cx="216.8" cy="305.3" r="3.5" fill="#0b72b6"/>
<circle class="pt" cx="214" cy="311.5" r="3.5" fill="#0cf40c"/><circle class="pt" cx="217.4" cy="321.2" r="3.5" fill="#0b72b6"/><circle class="pt" cx="314.7" cy="501" r="3.5" fill="#d85e08"/><circle class="pt" cx="211.5" cy="339.6" r="3.5" fill="#0b72b6"/>
<circle class="pt" cx="259.6" cy="423.4" r="3.5" fill="#f3e646"/><circle class="pt" cx="319.4" cy="491.7" r="3.5" fill="#f3e646"/><circle class="pt" cx="346.9" cy="512.1" r="3.5" fill="#0cf40c"/><circle class="pt" cx="213.1" cy="294.3" r="3.5" fill="#d85e08"/>
<circle class="pt" cx="232.5" cy="373.2" r="3.5" fill="#d85e08"/><circle class="pt" cx="222.6" cy="294.2" r="3.5" fill="#d85e08"/><circle class="pt" cx="347.6" cy="534" r="3.5" fill="#0b72b6"/><circle class="pt" cx="216.7" cy="299.3" r="3.5" fill="#f3e646"/>
<circle class="pt" cx="309.7" cy="471.6" r="3.5" fill="#0cf40c"/><circle class="pt" cx="209.9" cy="306.4" r="3.5" fill="#0cf40c"/><circle class="pt" cx="348" cy="542.9" r="3.5" fill="#d85e08"/><circle class="pt" cx="215.9" cy="317.2" r="3.5" fill="#0b72b6"/>
<circle class="pt" cx="219.1" cy="332.7" r="3.5" fill="#0b72b6"/><circle class="pt" cx="354.3" cy="533.5" r="3.5" fill="#0b72b6"/><circle class="pt" cx="214.2" cy="315" r="3.5" fill="#d85e08"/><circle class="pt" cx="217.5" cy="323.7" r="3.5" fill="#0b72b6"/>
<circle class="pt" cx="222.2" cy="306.7" r="3.5" fill="#0b72b6"/><circle class="pt" cx="311.5" cy="487.3" r="3.5" fill="#0b72b6"/><circle class="pt" cx="305.4" cy="490.2" r="3.5" fill="#f3e646"/><circle class="pt" cx="316" cy="494.8" r="3.5" fill="#f3e646"/>
<circle class="pt" cx="239.3" cy="376.7" r="3.5" fill="#d85e08"/><circle class="pt" cx="341.8" cy="514.9" r="3.5" fill="#0cf40c"/><circle class="pt" cx="317.4" cy="511.7" r="3.5" fill="#0b72b6"/><circle class="pt" cx="262.9" cy="427.5" r="3.5" fill="#0cf40c"/>
<circle class="pt" cx="222.2" cy="314.6" r="3.5" fill="#0b72b6"/><circle class="pt" cx="230.2" cy="370.1" r="3.5" fill="#d85e08"/><circle class="pt" cx="348.2" cy="524.2" r="3.5" fill="#0b72b6"/><circle class="pt" cx="304.3" cy="487.8" r="3.5" fill="#d85e08"/>
<circle class="pt" cx="320.5" cy="487.3" r="3.5" fill="#0cf40c"/><circle class="pt" cx="210.7" cy="292.4" r="3.5" fill="#d85e08"/><circle class="pt" cx="362.5" cy="548.8" r="3.5" fill="#0b72b6"/><circle class="pt" cx="217.9" cy="293.1" r="3.5" fill="#d85e08"/>
<circle class="pt" cx="317.7" cy="496.3" r="3.5" fill="#0b72b6"/><circle class="pt" cx="356.7" cy="538.5" r="3.5" fill="#0b72b6"/><circle class="pt" cx="349.5" cy="536.6" r="3.5" fill="#0b72b6"/><circle class="pt" cx="303.4" cy="471.4" r="3.5" fill="#d85e08"/>
<circle class="pt" cx="343.2" cy="518.1" r="3.5" fill="#0cf40c"/><circle class="pt" cx="337.6" cy="518.4" r="3.5" fill="#0cf40c"/><circle class="pt" cx="219.9" cy="313" r="3.5" fill="#0b72b6"/><circle class="pt" cx="362" cy="541.8" r="3.5" fill="#0b72b6"/>
<circle class="pt" cx="238.6" cy="378.8" r="3.5" fill="#d85e08"/><circle class="pt" cx="210.1" cy="336.1" r="3.5" fill="#0b72b6"/><circle class="pt" cx="344.7" cy="521.4" r="3.5" fill="#0b72b6"/><circle class="pt" cx="209.7" cy="299.7" r="3.5" fill="#0b72b6"/>
<circle class="pt" cx="311.4" cy="482.2" r="3.5" fill="#d85e08"/><circle class="pt" cx="220.5" cy="326.6" r="3.5" fill="#0b72b6"/><circle class="pt" cx="307.5" cy="471" r="3.5" fill="#d85e08"/><circle class="pt" cx="312.6" cy="478.2" r="3.5" fill="#0cf40c"/>
<circle class="pt" cx="308.5" cy="469.9" r="3.5" fill="#0cf40c"/><circle class="pt" cx="350.5" cy="526.1" r="3.5" fill="#0b72b6"/><circle class="pt" cx="310.6" cy="475.7" r="3.5" fill="#0cf40c"/><circle class="pt" cx="223.5" cy="309.5" r="3.5" fill="#d85e08"/>
<circle class="pt" cx="214.4" cy="318.3" r="3.5" fill="#0b72b6"/><circle class="pt" cx="213.2" cy="337.3" r="3.5" fill="#0b72b6"/><circle class="pt" cx="236.3" cy="371.6" r="3.5" fill="#d85e08"/><circle class="pt" cx="316.2" cy="490.1" r="3.5" fill="#0b72b6"/>
<circle class="pt" cx="319.6" cy="494.3" r="3.5" fill="#f3e646"/><circle class="pt" cx="216.7" cy="302.6" r="3.5" fill="#0b72b6"/><circle class="pt" cx="307.7" cy="494" r="3.5" fill="#f3e646"/><circle class="pt" cx="210.7" cy="308" r="3.5" fill="#0b72b6"/>
<circle class="pt" cx="316.1" cy="483.4" r="3.5" fill="#d85e08"/><circle class="pt" cx="341.2" cy="511.4" r="3.5" fill="#0cf40c"/><circle class="pt" cx="319.4" cy="498.9" r="3.5" fill="#f3e646"/><circle class="pt" cx="216.7" cy="309.8" r="3.5" fill="#0b72b6"/>
<circle class="pt" cx="217" cy="314.3" r="3.5" fill="#0b72b6"/><circle class="pt" cx="219.8" cy="306.2" r="3.5" fill="#0b72b6"/><circle class="pt" cx="219.1" cy="340" r="3.5" fill="#0b72b6"/><circle class="pt" cx="313.5" cy="494.4" r="3.5" fill="#0b72b6"/>
<circle class="pt" cx="359.7" cy="541.6" r="3.5" fill="#0b72b6"/><circle class="pt" cx="216.1" cy="336.3" r="3.5" fill="#0b72b6"/><circle class="pt" cx="236.2" cy="375.9" r="3.5" fill="#d85e08"/><circle class="pt" cx="343.7" cy="515.3" r="3.5" fill="#0cf40c"/>
<circle class="pt" cx="228.9" cy="360.1" r="3.5" fill="#d85e08"/><circle class="pt" cx="219.9" cy="324.6" r="3.5" fill="#0b72b6"/><circle class="pt" cx="307.6" cy="477.3" r="3.5" fill="#d85e08"/><circle class="pt" cx="363.3" cy="535.1" r="3.5" fill="#f3e646"/>
<circle class="pt" cx="227.8" cy="357.4" r="3.5" fill="#d85e08"/><circle class="pt" cx="360.5" cy="533.8" r="3.5" fill="#f3e646"/><circle class="pt" cx="357.6" cy="535.5" r="3.5" fill="#f3e646"/><circle class="pt" cx="220.1" cy="321.1" r="3.5" fill="#0b72b6"/>
<circle class="pt" cx="307.3" cy="483.8" r="3.5" fill="#d85e08"/><circle class="pt" cx="309.6" cy="466.2" r="3.5" fill="#d85e08"/><circle class="pt" cx="219.7" cy="316.2" r="3.5" fill="#d85e08"/><circle class="pt" cx="308.5" cy="495.9" r="3.5" fill="#0b72b6"/>
<circle class="pt" cx="358.9" cy="530.2" r="3.5" fill="#0b72b6"/><circle class="pt" cx="213.4" cy="338.9" r="3.5" fill="#0b72b6"/><circle class="pt" cx="217.4" cy="331" r="3.5" fill="#0b72b6"/><circle class="pt" cx="313.8" cy="484.6" r="3.5" fill="#d85e08"/>
<circle class="pt" cx="350.9" cy="523.2" r="3.5" fill="#f3e646"/><circle class="pt" cx="357" cy="530.9" r="3.5" fill="#0cf40c"/><circle class="pt" cx="348" cy="538.2" r="3.5" fill="#0b72b6"/><circle class="pt" cx="235.2" cy="381.1" r="3.5" fill="#0b72b6"/>
<circle class="pt" cx="319.6" cy="485.5" r="3.5" fill="#0cf40c"/><circle class="pt" cx="322.4" cy="510.2" r="3.5" fill="#0b72b6"/><circle class="pt" cx="349.7" cy="540" r="3.5" fill="#0b72b6"/><circle class="pt" cx="222.8" cy="300.5" r="3.5" fill="#0b72b6"/>
<circle class="pt" cx="350.1" cy="520.4" r="3.5" fill="#0cf40c"/><circle class="pt" cx="343.8" cy="511.5" r="3.5" fill="#0cf40c"/><circle class="pt" cx="236.8" cy="370.1" r="3.5" fill="#d85e08"/><circle class="pt" cx="314.7" cy="502.2" r="3.5" fill="#d85e08"/>
<circle class="pt" cx="314.1" cy="491.3" r="3.5" fill="#0b72b6"/><circle class="pt" cx="341.4" cy="520" r="3.5" fill="#0cf40c"/><circle class="pt" cx="219.1" cy="301.8" r="3.5" fill="#0b72b6"/><circle class="pt" cx="320" cy="502" r="3.5" fill="#f3e646"/>
<circle class="pt" cx="353.8" cy="526.5" r="3.5" fill="#0b72b6"/><circle class="pt" cx="363.5" cy="538.2" r="3.5" fill="#f3e646"/><circle class="pt" cx="357.5" cy="532.2" r="3.5" fill="#0b72b6"/><circle class="pt" cx="213.6" cy="298.6" r="3.5" fill="#0b72b6"/>
<circle class="pt" cx="319.3" cy="505.1" r="3.5" fill="#f3e646"/><circle class="pt" cx="238.4" cy="381.8" r="3.5" fill="#d85e08"/><circle class="pt" cx="216.4" cy="297.4" r="3.5" fill="#0b72b6"/><circle class="pt" cx="304.2" cy="468.3" r="3.5" fill="#d85e08"/>
<circle class="pt" cx="358.8" cy="535.4" r="3.5" fill="#f3e646"/><circle class="pt" cx="350" cy="544.5" r="3.5" fill="#d85e08"/><circle class="pt" cx="238.6" cy="385.9" r="3.5" fill="#d85e08"/><circle class="pt" cx="315.8" cy="500.7" r="3.5" fill="#0b72b6"/>
<circle class="pt" cx="307.6" cy="481.4" r="3.5" fill="#f3e646"/><circle class="pt" cx="306.9" cy="475.3" r="3.5" fill="#f3e646"/><circle class="pt" cx="223" cy="323.5" r="3.5" fill="#d85e08"/><circle class="pt" cx="355.7" cy="542.4" r="3.5" fill="#d85e08"/>
<circle class="pt" cx="215.8" cy="312.5" r="3.5" fill="#0b72b6"/><circle class="pt" cx="358.9" cy="547.8" r="3.5" fill="#0b72b6"/><circle class="pt" cx="310.3" cy="485.5" r="3.5" fill="#0cf40c"/><circle class="pt" cx="352.9" cy="542.5" r="3.5" fill="#0b72b6"/>
<circle class="pt" cx="242" cy="391.5" r="3.5" fill="#d85e08"/><circle class="pt" cx="360.7" cy="539.8" r="3.5" fill="#0b72b6"/><circle class="pt" cx="346.5" cy="536" r="3.5" fill="#0b72b6"/><circle class="pt" cx="233.6" cy="376.3" r="3.5" fill="#d85e08"/>
<circle class="pt" cx="314.3" cy="481.1" r="3.5" fill="#0cf40c"/><circle class="pt" cx="337.7" cy="520.4" r="3.5" fill="#0cf40c"/><circle class="pt" cx="259.9" cy="426.3" r="3.5" fill="#f3e646"/><circle class="pt" cx="218.9" cy="309.6" r="3.5" fill="#f3e646"/>
<circle class="pt" cx="213.9" cy="305.7" r="3.5" fill="#0b72b6"/><circle class="pt" cx="346.2" cy="517.8" r="3.5" fill="#0cf40c"/><circle class="pt" cx="223.3" cy="312.9" r="3.5" fill="#0b72b6"/><circle class="pt" cx="213.3" cy="296.3" r="3.5" fill="#0b72b6"/>
<circle class="pt" cx="354" cy="535.8" r="3.5" fill="#f3e646"/><circle class="pt" cx="210.8" cy="333.7" r="3.5" fill="#0b72b6"/><circle class="pt" cx="219.7" cy="297.4" r="3.5" fill="#0b72b6"/><circle class="pt" cx="239.8" cy="387.9" r="3.5" fill="#d85e08"/>
<circle class="pt" cx="360.3" cy="545.1" r="3.5" fill="#0b72b6"/><circle class="pt" cx="347.8" cy="514.3" r="3.5" fill="#0cf40c"/><circle class="pt" cx="216.6" cy="328.5" r="3.5" fill="#0b72b6"/><circle class="pt" cx="213.9" cy="334.1" r="3.5" fill="#0b72b6"/>
<circle class="pt" cx="319.8" cy="497.8" r="3.5" fill="#0b72b6"/><circle class="pt" cx="322.3" cy="505.1" r="3.5" fill="#d85e08"/><circle class="pt" cx="219.9" cy="330.4" r="3.5" fill="#0b72b6"/><circle class="pt" cx="317.8" cy="488.5" r="3.5" fill="#0b72b6"/>
<circle class="pt" cx="306.4" cy="490.8" r="3.5" fill="#f3e646"/><circle class="pt" cx="220.4" cy="293" r="3.5" fill="#0b72b6"/><circle class="pt" cx="220.1" cy="318.6" r="3.5" fill="#d85e08"/><circle class="pt" cx="353.7" cy="530" r="3.5" fill="#0b72b6"/>
<circle class="pt" cx="222.5" cy="327.3" r="3.5" fill="#0b72b6"/><circle class="pt" cx="216.1" cy="333.2" r="3.5" fill="#0b72b6"/><circle class="pt" cx="222.8" cy="301.9" r="3.5" fill="#d85e08"/><circle class="pt" cx="320.2" cy="508.8" r="3.5" fill="#f3e646"/>
<circle class="pt" cx="349.5" cy="533" r="3.5" fill="#d85e08"/><circle class="pt" cx="210.8" cy="301.8" r="3.5" fill="#f3e646"/><circle class="pt" cx="220.4" cy="298.9" r="3.5" fill="#f3e646"/><circle class="pt" cx="349.9" cy="516.4" r="3.5" fill="#f3e646"/>
<circle class="pt" cx="233.9" cy="367.1" r="3.5" fill="#d85e08"/><circle class="pt" cx="349.8" cy="529.1" r="3.5" fill="#d85e08"/><circle class="pt" cx="224.5" cy="172" r="3.5" fill="#f3e646"/><circle class="pt" cx="207.1" cy="203.5" r="3.5" fill="#0cf40c"/>
<circle class="pt" cx="225" cy="217.4" r="3.5" fill="#0cf40c"/><circle class="pt" cx="200.9" cy="247.8" r="3.5" fill="#0cf40c"/><circle class="pt" cx="212.7" cy="245.9" r="3.5" fill="#0b72b6"/><circle class="pt" cx="214.4" cy="255.2" r="3.5" fill="#0b72b6"/>
<circle class="pt" cx="218" cy="258" r="3.5" fill="#0cf40c"/><circle class="pt" cx="201.3" cy="274.8" r="3.5" fill="#0b72b6"/><circle class="pt" cx="210.6" cy="278.7" r="3.5" fill="#0b72b6"/><circle class="pt" cx="214.9" cy="275.5" r="3.5" fill="#d85e08"/>
<circle class="pt" cx="216.8" cy="280.6" r="3.5" fill="#d85e08"/><circle class="pt" cx="216.5" cy="287.8" r="3.5" fill="#d85e08"/><circle class="pt" cx="212.3" cy="292.5" r="3.5" fill="#0b72b6"/><circle class="pt" cx="219.3" cy="294.8" r="3.5" fill="#0b72b6"/>
<circle class="pt" cx="224.8" cy="292.3" r="3.5" fill="#0b72b6"/><circle class="pt" cx="212.1" cy="303.1" r="3.5" fill="#0b72b6"/><circle class="pt" cx="207.3" cy="304.4" r="3.5" fill="#0b72b6"/><circle class="pt" cx="216.3" cy="305" r="3.5" fill="#f3e646"/>
<circle class="pt" cx="224.1" cy="307.3" r="3.5" fill="#d85e08"/><circle class="pt" cx="208.3" cy="311.7" r="3.5" fill="#0cf40c"/><circle class="pt" cx="218.4" cy="311.3" r="3.5" fill="#0b72b6"/><circle class="pt" cx="213.6" cy="311.3" r="3.5" fill="#0b72b6"/>
<circle class="pt" cx="223.9" cy="315.8" r="3.5" fill="#d85e08"/><circle class="pt" cx="210.8" cy="317.4" r="3.5" fill="#d85e08"/><circle class="pt" cx="218.4" cy="319" r="3.5" fill="#0b72b6"/><circle class="pt" cx="219.1" cy="323.4" r="3.5" fill="#0b72b6"/>
<circle class="pt" cx="222.9" cy="324" r="3.5" fill="#d85e08"/><circle class="pt" cx="218.2" cy="329.1" r="3.5" fill="#d85e08"/><circle class="pt" cx="215.9" cy="334" r="3.5" fill="#0b72b6"/><circle class="pt" cx="222.6" cy="332.7" r="3.5" fill="#0b72b6"/>
<circle class="pt" cx="228.2" cy="327.6" r="3.5" fill="#0b72b6"/><circle class="pt" cx="223.5" cy="336.7" r="3.5" fill="#0b72b6"/><circle class="pt" cx="217.2" cy="336.7" r="3.5" fill="#0b72b6"/><circle class="pt" cx="210.8" cy="337.6" r="3.5" fill="#0b72b6"/>
<circle class="pt" cx="207" cy="341.8" r="3.5" fill="#0b72b6"/><circle class="pt" cx="210.8" cy="341.2" r="3.5" fill="#0b72b6"/><circle class="pt" cx="216.5" cy="342.8" r="3.5" fill="#0b72b6"/><circle class="pt" cx="219.7" cy="344.4" r="3.5" fill="#0b72b6"/>
<circle class="pt" cx="212.7" cy="348.2" r="3.5" fill="#d85e08"/><circle class="pt" cx="223.1" cy="349.4" r="3.5" fill="#d85e08"/><circle class="pt" cx="224.9" cy="352.3" r="3.5" fill="#d85e08"/><circle class="pt" cx="226.2" cy="356.7" r="3.5" fill="#0b72b6"/>
<circle class="pt" cx="223.3" cy="363.3" r="3.5" fill="#0b72b6"/><circle class="pt" cx="228.5" cy="364.3" r="3.5" fill="#d85e08"/><circle class="pt" cx="235.5" cy="365" r="3.5" fill="#f3e646"/><circle class="pt" cx="235.1" cy="370.7" r="3.5" fill="#d85e08"/>
<circle class="pt" cx="238.9" cy="374.2" r="3.5" fill="#d85e08"/><circle class="pt" cx="230" cy="375.1" r="3.5" fill="#0cf40c"/><circle class="pt" cx="230.4" cy="377.7" r="3.5" fill="#d85e08"/><circle class="pt" cx="237" cy="378.3" r="3.5" fill="#d85e08"/>
<circle class="pt" cx="241.4" cy="381.5" r="3.5" fill="#d85e08"/><circle class="pt" cx="235.1" cy="382.1" r="3.5" fill="#d85e08"/><circle class="pt" cx="235.7" cy="385" r="3.5" fill="#0b72b6"/><circle class="pt" cx="240.8" cy="389.1" r="3.5" fill="#d85e08"/>
<circle class="pt" cx="243.3" cy="391.6" r="3.5" fill="#d85e08"/><circle class="pt" cx="240.2" cy="395.5" r="3.5" fill="#d85e08"/><circle class="pt" cx="243.1" cy="399.5" r="3.5" fill="#d85e08"/><circle class="pt" cx="246.8" cy="403.7" r="3.5" fill="#d85e08"/>
<circle class="pt" cx="255" cy="403.3" r="3.5" fill="#d85e08"/><circle class="pt" cx="255" cy="416.4" r="3.5" fill="#0b72b6"/><circle class="pt" cx="256" cy="421.5" r="3.5" fill="#f3e646"/><circle class="pt" cx="256" cy="427.2" r="3.5" fill="#f3e646"/>
<circle class="pt" cx="264.9" cy="424.7" r="3.5" fill="#0cf40c"/><circle class="pt" cx="259.9" cy="426.6" r="3.5" fill="#f3e646"/><circle class="pt" cx="270.3" cy="428.7" r="3.5" fill="#0cf40c"/><circle class="pt" cx="264.9" cy="431" r="3.5" fill="#f3e646"/>
<circle class="pt" cx="259.9" cy="434.2" r="3.5" fill="#0b72b6"/><circle class="pt" cx="272.8" cy="434.8" r="3.5" fill="#0cf40c"/><circle class="pt" cx="278.9" cy="439.3" r="3.5" fill="#0cf40c"/><circle class="pt" cx="282.7" cy="438.6" r="3.5" fill="#d85e08"/>
<circle class="pt" cx="279.3" cy="434.6" r="3.5" fill="#d85e08"/><circle class="pt" cx="272.3" cy="446.3" r="3.5" fill="#f3e646"/><circle class="pt" cx="289.1" cy="450.1" r="3.5" fill="#0cf40c"/><circle class="pt" cx="295.2" cy="451.6" r="3.5" fill="#d85e08"/>
<circle class="pt" cx="291" cy="455.5" r="3.5" fill="#d85e08"/><circle class="pt" cx="299.2" cy="459.6" r="3.5" fill="#0cf40c"/><circle class="pt" cx="293.8" cy="470.3" r="3.5" fill="#0cf40c"/><circle class="pt" cx="295.9" cy="464" r="3.5" fill="#d85e08"/>
<circle class="pt" cx="299.7" cy="464.4" r="3.5" fill="#0b72b6"/><circle class="pt" cx="302.7" cy="466.5" r="3.5" fill="#d85e08"/><circle class="pt" cx="309.1" cy="463.5" r="3.5" fill="#d85e08"/><circle class="pt" cx="311.2" cy="466.1" r="3.5" fill="#0cf40c"/>
<circle class="pt" cx="307.8" cy="469.9" r="3.5" fill="#0cf40c"/><circle class="pt" cx="312.4" cy="467.8" r="3.5" fill="#0cf40c"/><circle class="pt" cx="312.4" cy="472" r="3.5" fill="#0cf40c"/><circle class="pt" cx="299.7" cy="477.1" r="3.5" fill="#0b72b6"/>
<circle class="pt" cx="307.4" cy="476.2" r="3.5" fill="#d85e08"/><circle class="pt" cx="306.9" cy="480.5" r="3.5" fill="#f3e646"/><circle class="pt" cx="312.4" cy="480.3" r="3.5" fill="#0cf40c"/><circle class="pt" cx="316.2" cy="478.8" r="3.5" fill="#0cf40c"/>
<circle class="pt" cx="315.4" cy="481.3" r="3.5" fill="#0cf40c"/><circle class="pt" cx="320.9" cy="485.6" r="3.5" fill="#0cf40c"/><circle class="pt" cx="323.4" cy="486.4" r="3.5" fill="#d85e08"/><circle class="pt" cx="328.1" cy="485.3" r="3.5" fill="#0cf40c"/>
<circle class="pt" cx="303.1" cy="484.7" r="3.5" fill="#d85e08"/><circle class="pt" cx="304.4" cy="487.2" r="3.5" fill="#0b72b6"/><circle class="pt" cx="309.9" cy="489.4" r="3.5" fill="#0b72b6"/><circle class="pt" cx="313.3" cy="486.4" r="3.5" fill="#d85e08"/>
<circle class="pt" cx="315.4" cy="489.8" r="3.5" fill="#0b72b6"/><circle class="pt" cx="318.8" cy="491.5" r="3.5" fill="#0b72b6"/><circle class="pt" cx="321.8" cy="490.2" r="3.5" fill="#f3e646"/><circle class="pt" cx="304" cy="493.6" r="3.5" fill="#f3e646"/>
<circle class="pt" cx="305.2" cy="497.4" r="3.5" fill="#d85e08"/><circle class="pt" cx="314.1" cy="494.9" r="3.5" fill="#0b72b6"/><circle class="pt" cx="312" cy="500.4" r="3.5" fill="#0b72b6"/><circle class="pt" cx="317.9" cy="499.1" r="3.5" fill="#f3e646"/>
<circle class="pt" cx="322.2" cy="499.1" r="3.5" fill="#f3e646"/><circle class="pt" cx="325.6" cy="501.6" r="3.5" fill="#d85e08"/><circle class="pt" cx="330.6" cy="497.8" r="3.5" fill="#0cf40c"/><circle class="pt" cx="331.9" cy="500.4" r="3.5" fill="#0cf40c"/>
<circle class="pt" cx="331.9" cy="504.2" r="3.5" fill="#0cf40c"/><circle class="pt" cx="316.2" cy="505.9" r="3.5" fill="#d85e08"/><circle class="pt" cx="318.8" cy="507.6" r="3.5" fill="#f3e646"/><circle class="pt" cx="325.6" cy="505.5" r="3.5" fill="#d85e08"/>
<circle class="pt" cx="324.3" cy="511.8" r="3.5" fill="#d85e08"/><circle class="pt" cx="317.9" cy="511.8" r="3.5" fill="#0b72b6"/><circle class="pt" cx="316.2" cy="514.3" r="3.5" fill="#0b72b6"/><circle class="pt" cx="328.1" cy="509.3" r="3.5" fill="#d85e08"/>
<circle class="pt" cx="337.4" cy="505.9" r="3.5" fill="#0cf40c"/><circle class="pt" cx="338.3" cy="512.2" r="3.5" fill="#0cf40c"/><circle class="pt" cx="346.7" cy="510.1" r="3.5" fill="#0cf40c"/><circle class="pt" cx="349.7" cy="515.2" r="3.5" fill="#0cf40c"/>
<circle class="pt" cx="342.5" cy="515.6" r="3.5" fill="#0cf40c"/><circle class="pt" cx="346.7" cy="519.4" r="3.5" fill="#0cf40c"/><circle class="pt" cx="327.3" cy="518.6" r="3.5" fill="#d85e08"/><circle class="pt" cx="329" cy="523.7" r="3.5" fill="#0b72b6"/>
<circle class="pt" cx="332.3" cy="517.9" r="3.5" fill="#d85e08"/><circle class="pt" cx="337.8" cy="520.3" r="3.5" fill="#0cf40c"/><circle class="pt" cx="342.5" cy="520.7" r="3.5" fill="#0cf40c"/><circle class="pt" cx="340.8" cy="524.5" r="3.5" fill="#f3e646"/>
<circle class="pt" cx="353.1" cy="520.7" r="3.5" fill="#f3e646"/><circle class="pt" cx="324.7" cy="526.6" r="3.5" fill="#0cf40c"/><circle class="pt" cx="328.1" cy="532.1" r="3.5" fill="#f3e646"/><circle class="pt" cx="331.5" cy="528.7" r="3.5" fill="#0cf40c"/>
<circle class="pt" cx="346.3" cy="524.5" r="3.5" fill="#0b72b6"/><circle class="pt" cx="349.3" cy="528.7" r="3.5" fill="#0b72b6"/><circle class="pt" cx="346.7" cy="530.4" r="3.5" fill="#0b72b6"/><circle class="pt" cx="356" cy="532.1" r="3.5" fill="#0b72b6"/>
<circle class="pt" cx="352.7" cy="532.5" r="3.5" fill="#d85e08"/><circle class="pt" cx="362" cy="529.6" r="3.5" fill="#f3e646"/><circle class="pt" cx="363.7" cy="533" r="3.5" fill="#f3e646"/><circle class="pt" cx="358.6" cy="528.3" r="3.5" fill="#0cf40c"/>
<circle class="pt" cx="338.3" cy="537.6" r="3.5" fill="#0cf40c"/><circle class="pt" cx="345.5" cy="536.4" r="3.5" fill="#0b72b6"/><circle class="pt" cx="348.4" cy="536.4" r="3.5" fill="#0b72b6"/><circle class="pt" cx="352.7" cy="538.1" r="3.5" fill="#f3e646"/>
<circle class="pt" cx="357.7" cy="536.4" r="3.5" fill="#f3e646"/><circle class="pt" cx="367.9" cy="541" r="3.5" fill="#f3e646"/><circle class="pt" cx="370.9" cy="541.9" r="3.5" fill="#0b72b6"/><circle class="pt" cx="370" cy="536.8" r="3.5" fill="#0cf40c"/>
<circle class="pt" cx="343.3" cy="539.7" r="3.5" fill="#0b72b6"/><circle class="pt" cx="345.9" cy="541.4" r="3.5" fill="#0b72b6"/><circle class="pt" cx="352.2" cy="542.3" r="3.5" fill="#d85e08"/><circle class="pt" cx="357.7" cy="541.4" r="3.5" fill="#0b72b6"/>
<circle class="pt" cx="362" cy="543.1" r="3.5" fill="#0b72b6"/><circle class="pt" cx="348.4" cy="545.7" r="3.5" fill="#d85e08"/><circle class="pt" cx="354.4" cy="546.5" r="3.5" fill="#0b72b6"/><circle class="pt" cx="359.4" cy="546.5" r="3.5" fill="#0b72b6"/>
<circle class="pt" cx="362" cy="550.8" r="3.5" fill="#0b72b6"/><circle class="pt" cx="353.5" cy="550.3" r="3.5" fill="#0b72b6"/><circle class="pt" cx="364.5" cy="548.6" r="3.5" fill="#0b72b6"/><circle class="pt" cx="372.1" cy="547.4" r="3.5" fill="#0cf40c"/>
<circle class="pt" cx="370.9" cy="548.6" r="3.5" fill="#0cf40c"/><circle class="pt" cx="370.4" cy="552.9" r="3.5" fill="#0b72b6"/><circle class="pt" cx="356" cy="552.9" r="3.5" fill="#0cf40c"/><circle class="pt" cx="370" cy="558.4" r="3.5" fill="#f3e646"/>
<circle class="pt" cx="375.5" cy="558.4" r="3.5" fill="#0cf40c"/><circle class="pt" cx="370.1" cy="583.4" r="3.5" fill="#d85e08"/><circle class="pt" cx="380.6" cy="555.9" r="3.5" fill="#d85e08"/><circle class="pt" cx="384.4" cy="561.4" r="3.5" fill="#0cf40c"/>
<circle class="pt" cx="387.9" cy="557.6" r="3.5" fill="#0cf40c"/><circle class="pt" cx="398.7" cy="555" r="3.5" fill="#0cf40c"/><circle class="pt" cx="412.8" cy="550" r="3.5" fill="#f3e646"/><circle class="pt" cx="408.5" cy="564.2" r="3.5" fill="#f3e646"/>
<circle class="pt" cx="419.4" cy="563.9" r="3.5" fill="#d85e08"/><circle class="pt" cx="431.1" cy="563.2" r="3.5" fill="#0cf40c"/><circle class="pt" cx="436.5" cy="562.7" r="3.5" fill="#0cf40c"/><circle class="pt" cx="439.1" cy="562.3" r="3.5" fill="#0cf40c"/>
<circle class="pt" cx="444.1" cy="563.8" r="3.5" fill="#0cf40c"/><circle class="pt" cx="415.8" cy="571.8" r="3.5" fill="#0cf40c"/><circle class="pt" cx="426.7" cy="571.2" r="3.5" fill="#0cf40c"/><circle class="pt" cx="434.6" cy="575.4" r="3.5" fill="#0cf40c"/>
<circle class="pt" cx="455.7" cy="569.3" r="3.5" fill="#0cf40c"/><circle class="pt" cx="399.4" cy="581.3" r="3.5" fill="#0b72b6"/><circle class="pt" cx="415.6" cy="580.7" r="3.5" fill="#0cf40c"/><circle class="pt" cx="448.6" cy="586.4" r="3.5" fill="#0cf40c"/>
<circle class="pt" cx="446" cy="583.2" r="3.5" fill="#0cf40c"/><circle class="pt" cx="394.4" cy="590.9" r="3.5" fill="#f3e646"/><circle class="pt" cx="402" cy="593.1" r="3.5" fill="#0cf40c"/><circle class="pt" cx="474.6" cy="586" r="3.5" fill="#0cf40c"/>
<circle class="pt" cx="469.5" cy="595.1" r="3.5" fill="#0cf40c"/><circle class="pt" cx="478.8" cy="595.7" r="3.5" fill="#0cf40c"/><circle class="pt" cx="425.7" cy="602.3" r="3.5" fill="#f3e646"/><circle class="pt" cx="423.2" cy="604.2" r="3.5" fill="#f3e646"/>
<circle class="pt" cx="424.5" cy="601.7" r="3.5" fill="#f3e646"/><circle class="pt" cx="422.6" cy="608.6" r="3.5" fill="#f3e646"/><circle class="pt" cx="413.7" cy="613.7" r="3.5" fill="#0cf40c"/><circle class="pt" cx="415.6" cy="616.3" r="3.5" fill="#0cf40c"/>
<circle class="pt" cx="425.1" cy="615.6" r="3.5" fill="#0cf40c"/><circle class="pt" cx="425.1" cy="619.4" r="3.5" fill="#0cf40c"/><circle class="pt" cx="420.6" cy="619.4" r="3.5" fill="#0cf40c"/><circle class="pt" cx="440" cy="635.3" r="3.5" fill="#0cf40c"/>
<rect class="lgb" x="372" y="86.1" width="129.3" height="295.1"/>
<text class="lgt" transform="translate(393.3 135) scale(1 1)">Error</text>
<rect class="key" x="393.1" y="155" width="29.8" height="205.2"/>
<circle class="pt" cx="408" cy="181.4" r="3.5" fill="#0b72b6"/><text class="lgt" transform="translate(437.9 191.8) scale(1 1)">TP</text>
<circle class="pt" cx="408" cy="232.4" r="3.5" fill="#d85e08"/><text class="lgt" transform="translate(437.9 242.8) scale(1 1)">FP</text>
<circle class="pt" cx="408" cy="283.1" r="3.5" fill="#0cf40c"/><text class="lgt" transform="translate(437.9 294.1) scale(1 1)">TN</text>
<circle class="pt" cx="408" cy="334.4" r="3.5" fill="#f3e646"/><text class="lgt" transform="translate(437.9 344.8) scale(1 1)">FN</text>
</g>
<rect class="bd" x="140.7" y="74.9" width="379.1" height="589.1"/>
<path class="tkl" d="M140.7 195.3h-11.6"/><text class="tk" transform="translate(120.5 209.8) scale(1 1)" text-anchor="end">45</text>
<path class="tkl" d="M140.7 357.1h-11.6"/><text class="tk" transform="translate(120.5 371.4) scale(1 1)" text-anchor="end">40</text>
<path class="tkl" d="M140.7 519h-11.6"/><text class="tk" transform="translate(120.5 533.4) scale(1 1)" text-anchor="end">35</text>
<path class="tkl" d="M196.8 664v11.6"/><text class="tk" transform="translate(197.3 713.1) scale(1 1)" text-anchor="middle">-125</text>
<path class="tkl" d="M387 664v11.6"/><text class="tk" transform="translate(387.5 713.1) scale(1 1)" text-anchor="middle">-120</text>
<text class="ax" transform="translate(330.2 761.3) scale(1 1.035)">Longitude (°W)</text>
<text class="ax" transform="translate(48 369.3) rotate(-90) scale(1 1.035)">Latitude (°N)</text>
</g>
</svg>
</body>
</html>
